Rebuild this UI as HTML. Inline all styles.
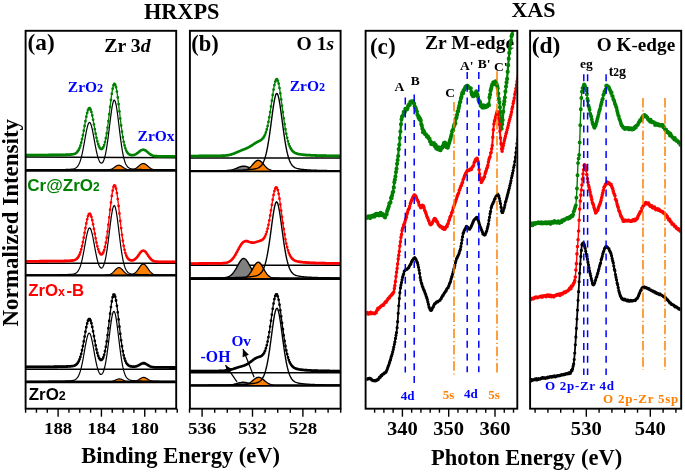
<!DOCTYPE html>
<html><head><meta charset="utf-8"><style>
html,body{margin:0;padding:0;background:#fff;}
svg{display:block;will-change:transform;}
</style></head><body>
<svg width="685" height="472" viewBox="0 0 685 472">
<rect width="685" height="472" fill="#fff"/>
<line x1="25.6" y1="157" x2="176.2" y2="157.7" stroke="#000" stroke-width="1.5"/>
<path d="M26.4,169.9 L27.08,169.9 L27.76,169.9 L28.44,169.9 L29.12,169.9 L29.8,169.9 L30.48,169.9 L31.16,169.9 L31.84,169.9 L32.52,169.9 L33.2,169.9 L33.88,169.9 L34.56,169.9 L35.24,169.9 L35.93,169.9 L36.61,169.9 L37.29,169.9 L37.97,169.9 L38.65,169.9 L39.33,169.9 L40.01,169.9 L40.69,169.9 L41.37,169.9 L42.05,169.9 L42.73,169.9 L43.41,169.9 L44.09,169.9 L44.77,169.9 L45.45,169.9 L46.13,169.9 L46.81,169.9 L47.49,169.9 L48.17,169.9 L48.85,169.9 L49.53,169.9 L50.21,169.9 L50.89,169.9 L51.57,169.9 L52.25,169.9 L52.93,169.9 L53.61,169.9 L54.29,169.9 L54.98,169.9 L55.66,169.9 L56.34,169.9 L57.02,169.9 L57.7,169.9 L58.38,169.9 L59.06,169.9 L59.74,169.9 L60.42,169.9 L61.1,169.9 L61.78,169.9 L62.46,169.9 L63.14,169.9 L63.82,169.9 L64.5,169.9 L65.18,169.9 L65.86,169.9 L66.54,169.9 L67.22,169.9 L67.9,169.9 L68.58,169.9 L69.26,169.9 L69.94,169.9 L70.62,169.9 L71.3,169.9 L71.98,169.9 L72.66,169.9 L73.35,169.9 L74.03,169.9 L74.71,169.9 L75.39,169.9 L76.07,169.9 L76.75,169.9 L77.43,169.9 L78.11,169.9 L78.79,169.9 L79.47,169.9 L80.15,169.9 L80.83,169.9 L81.51,169.9 L82.19,169.9 L82.87,169.9 L83.55,169.9 L84.23,169.9 L84.91,169.9 L85.59,169.9 L86.27,169.9 L86.95,169.9 L87.63,169.9 L88.31,169.9 L88.99,169.9 L89.67,169.9 L90.35,169.9 L91.03,169.9 L91.72,169.9 L92.4,169.9 L93.08,169.9 L93.76,169.9 L94.44,169.9 L95.12,169.9 L95.8,169.9 L96.48,169.9 L97.16,169.9 L97.84,169.9 L98.52,169.9 L99.2,169.9 L99.88,169.9 L100.56,169.9 L101.24,169.9 L101.92,169.9 L102.6,169.9 L103.28,169.9 L103.96,169.89 L104.64,169.89 L105.32,169.88 L106,169.87 L106.68,169.85 L107.36,169.82 L108.04,169.77 L108.72,169.69 L109.4,169.59 L110.08,169.44 L110.77,169.25 L111.45,169.01 L112.13,168.7 L112.81,168.34 L113.49,167.93 L114.17,167.47 L114.85,166.99 L115.53,166.52 L116.21,166.08 L116.89,165.7 L117.57,165.41 L118.25,165.24 L118.93,165.2 L119.61,165.29 L120.29,165.51 L120.97,165.83 L121.65,166.24 L122.33,166.7 L123.01,167.17 L123.69,167.65 L124.37,168.09 L125.05,168.49 L125.73,168.83 L126.41,169.11 L127.09,169.33 L127.77,169.5 L128.45,169.63 L129.14,169.72 L129.82,169.79 L130.5,169.83 L131.18,169.86 L131.86,169.88 L132.54,169.89 L133.22,169.89 L133.9,169.9 L134.58,169.9 L135.26,169.9 L135.94,169.9 L136.62,169.9 L137.3,169.9 L137.98,169.9 L138.66,169.9 L139.34,169.9 L140.02,169.9 L140.7,169.9 L141.38,169.9 L142.06,169.9 L142.74,169.9 L143.42,169.9 L144.1,169.9 L144.78,169.9 L145.46,169.9 L146.14,169.9 L146.82,169.9 L147.51,169.9 L148.19,169.9 L148.87,169.9 L149.55,169.9 L150.23,169.9 L150.91,169.9 L151.59,169.9 L152.27,169.9 L152.95,169.9 L153.63,169.9 L154.31,169.9 L154.99,169.9 L155.67,169.9 L156.35,169.9 L157.03,169.9 L157.71,169.9 L158.39,169.9 L159.07,169.9 L159.75,169.9 L160.43,169.9 L161.11,169.9 L161.79,169.9 L162.47,169.9 L163.15,169.9 L163.83,169.9 L164.51,169.9 L165.19,169.9 L165.87,169.9 L166.56,169.9 L167.24,169.9 L167.92,169.9 L168.6,169.9 L169.28,169.9 L169.96,169.9 L170.64,169.9 L171.32,169.9 L172,169.9 L172.68,169.9 L173.36,169.9 L174.04,169.9 L174.72,169.9 L175.4,169.9 L175.4,169.9 L26.4,169.9 Z" fill="#ff8000" stroke="none"/>
<path d="M26.4,169.9 L27.08,169.9 L27.76,169.9 L28.44,169.9 L29.12,169.9 L29.8,169.9 L30.48,169.9 L31.16,169.9 L31.84,169.9 L32.52,169.9 L33.2,169.9 L33.88,169.9 L34.56,169.9 L35.24,169.9 L35.93,169.9 L36.61,169.9 L37.29,169.9 L37.97,169.9 L38.65,169.9 L39.33,169.9 L40.01,169.9 L40.69,169.9 L41.37,169.9 L42.05,169.9 L42.73,169.9 L43.41,169.9 L44.09,169.9 L44.77,169.9 L45.45,169.9 L46.13,169.9 L46.81,169.9 L47.49,169.9 L48.17,169.9 L48.85,169.9 L49.53,169.9 L50.21,169.9 L50.89,169.9 L51.57,169.9 L52.25,169.9 L52.93,169.9 L53.61,169.9 L54.29,169.9 L54.98,169.9 L55.66,169.9 L56.34,169.9 L57.02,169.9 L57.7,169.9 L58.38,169.9 L59.06,169.9 L59.74,169.9 L60.42,169.9 L61.1,169.9 L61.78,169.9 L62.46,169.9 L63.14,169.9 L63.82,169.9 L64.5,169.9 L65.18,169.9 L65.86,169.9 L66.54,169.9 L67.22,169.9 L67.9,169.9 L68.58,169.9 L69.26,169.9 L69.94,169.9 L70.62,169.9 L71.3,169.9 L71.98,169.9 L72.66,169.9 L73.35,169.9 L74.03,169.9 L74.71,169.9 L75.39,169.9 L76.07,169.9 L76.75,169.9 L77.43,169.9 L78.11,169.9 L78.79,169.9 L79.47,169.9 L80.15,169.9 L80.83,169.9 L81.51,169.9 L82.19,169.9 L82.87,169.9 L83.55,169.9 L84.23,169.9 L84.91,169.9 L85.59,169.9 L86.27,169.9 L86.95,169.9 L87.63,169.9 L88.31,169.9 L88.99,169.9 L89.67,169.9 L90.35,169.9 L91.03,169.9 L91.72,169.9 L92.4,169.9 L93.08,169.9 L93.76,169.9 L94.44,169.9 L95.12,169.9 L95.8,169.9 L96.48,169.9 L97.16,169.9 L97.84,169.9 L98.52,169.9 L99.2,169.9 L99.88,169.9 L100.56,169.9 L101.24,169.9 L101.92,169.9 L102.6,169.9 L103.28,169.9 L103.96,169.89 L104.64,169.89 L105.32,169.88 L106,169.87 L106.68,169.85 L107.36,169.82 L108.04,169.77 L108.72,169.69 L109.4,169.59 L110.08,169.44 L110.77,169.25 L111.45,169.01 L112.13,168.7 L112.81,168.34 L113.49,167.93 L114.17,167.47 L114.85,166.99 L115.53,166.52 L116.21,166.08 L116.89,165.7 L117.57,165.41 L118.25,165.24 L118.93,165.2 L119.61,165.29 L120.29,165.51 L120.97,165.83 L121.65,166.24 L122.33,166.7 L123.01,167.17 L123.69,167.65 L124.37,168.09 L125.05,168.49 L125.73,168.83 L126.41,169.11 L127.09,169.33 L127.77,169.5 L128.45,169.63 L129.14,169.72 L129.82,169.79 L130.5,169.83 L131.18,169.86 L131.86,169.88 L132.54,169.89 L133.22,169.89 L133.9,169.9 L134.58,169.9 L135.26,169.9 L135.94,169.9 L136.62,169.9 L137.3,169.9 L137.98,169.9 L138.66,169.9 L139.34,169.9 L140.02,169.9 L140.7,169.9 L141.38,169.9 L142.06,169.9 L142.74,169.9 L143.42,169.9 L144.1,169.9 L144.78,169.9 L145.46,169.9 L146.14,169.9 L146.82,169.9 L147.51,169.9 L148.19,169.9 L148.87,169.9 L149.55,169.9 L150.23,169.9 L150.91,169.9 L151.59,169.9 L152.27,169.9 L152.95,169.9 L153.63,169.9 L154.31,169.9 L154.99,169.9 L155.67,169.9 L156.35,169.9 L157.03,169.9 L157.71,169.9 L158.39,169.9 L159.07,169.9 L159.75,169.9 L160.43,169.9 L161.11,169.9 L161.79,169.9 L162.47,169.9 L163.15,169.9 L163.83,169.9 L164.51,169.9 L165.19,169.9 L165.87,169.9 L166.56,169.9 L167.24,169.9 L167.92,169.9 L168.6,169.9 L169.28,169.9 L169.96,169.9 L170.64,169.9 L171.32,169.9 L172,169.9 L172.68,169.9 L173.36,169.9 L174.04,169.9 L174.72,169.9 L175.4,169.9" fill="none" stroke="#000" stroke-width="1.2"/>
<path d="M26.4,169.9 L27.08,169.9 L27.76,169.9 L28.44,169.9 L29.12,169.9 L29.8,169.9 L30.48,169.9 L31.16,169.9 L31.84,169.9 L32.52,169.9 L33.2,169.9 L33.88,169.9 L34.56,169.9 L35.24,169.9 L35.93,169.9 L36.61,169.9 L37.29,169.9 L37.97,169.9 L38.65,169.9 L39.33,169.9 L40.01,169.9 L40.69,169.9 L41.37,169.9 L42.05,169.9 L42.73,169.9 L43.41,169.9 L44.09,169.9 L44.77,169.9 L45.45,169.9 L46.13,169.9 L46.81,169.9 L47.49,169.9 L48.17,169.9 L48.85,169.9 L49.53,169.9 L50.21,169.9 L50.89,169.9 L51.57,169.9 L52.25,169.9 L52.93,169.9 L53.61,169.9 L54.29,169.9 L54.98,169.9 L55.66,169.9 L56.34,169.9 L57.02,169.9 L57.7,169.9 L58.38,169.9 L59.06,169.9 L59.74,169.9 L60.42,169.9 L61.1,169.9 L61.78,169.9 L62.46,169.9 L63.14,169.9 L63.82,169.9 L64.5,169.9 L65.18,169.9 L65.86,169.9 L66.54,169.9 L67.22,169.9 L67.9,169.9 L68.58,169.9 L69.26,169.9 L69.94,169.9 L70.62,169.9 L71.3,169.9 L71.98,169.9 L72.66,169.9 L73.35,169.9 L74.03,169.9 L74.71,169.9 L75.39,169.9 L76.07,169.9 L76.75,169.9 L77.43,169.9 L78.11,169.9 L78.79,169.9 L79.47,169.9 L80.15,169.9 L80.83,169.9 L81.51,169.9 L82.19,169.9 L82.87,169.9 L83.55,169.9 L84.23,169.9 L84.91,169.9 L85.59,169.9 L86.27,169.9 L86.95,169.9 L87.63,169.9 L88.31,169.9 L88.99,169.9 L89.67,169.9 L90.35,169.9 L91.03,169.9 L91.72,169.9 L92.4,169.9 L93.08,169.9 L93.76,169.9 L94.44,169.9 L95.12,169.9 L95.8,169.9 L96.48,169.9 L97.16,169.9 L97.84,169.9 L98.52,169.9 L99.2,169.9 L99.88,169.9 L100.56,169.9 L101.24,169.9 L101.92,169.9 L102.6,169.9 L103.28,169.9 L103.96,169.9 L104.64,169.9 L105.32,169.9 L106,169.9 L106.68,169.9 L107.36,169.9 L108.04,169.9 L108.72,169.9 L109.4,169.9 L110.08,169.9 L110.77,169.9 L111.45,169.9 L112.13,169.9 L112.81,169.9 L113.49,169.9 L114.17,169.9 L114.85,169.9 L115.53,169.9 L116.21,169.9 L116.89,169.9 L117.57,169.9 L118.25,169.9 L118.93,169.9 L119.61,169.9 L120.29,169.9 L120.97,169.9 L121.65,169.9 L122.33,169.9 L123.01,169.9 L123.69,169.9 L124.37,169.9 L125.05,169.9 L125.73,169.9 L126.41,169.9 L127.09,169.89 L127.77,169.89 L128.45,169.87 L129.14,169.86 L129.82,169.83 L130.5,169.8 L131.18,169.74 L131.86,169.66 L132.54,169.55 L133.22,169.4 L133.9,169.21 L134.58,168.96 L135.26,168.64 L135.94,168.26 L136.62,167.82 L137.3,167.31 L137.98,166.76 L138.66,166.18 L139.34,165.59 L140.02,165.02 L140.7,164.5 L141.38,164.07 L142.06,163.74 L142.74,163.55 L143.42,163.5 L144.1,163.6 L144.78,163.84 L145.46,164.21 L146.14,164.68 L146.82,165.22 L147.51,165.8 L148.19,166.39 L148.87,166.96 L149.55,167.5 L150.23,167.98 L150.91,168.41 L151.59,168.76 L152.27,169.05 L152.95,169.28 L153.63,169.46 L154.31,169.6 L154.99,169.69 L155.67,169.76 L156.35,169.81 L157.03,169.84 L157.71,169.87 L158.39,169.88 L159.07,169.89 L159.75,169.89 L160.43,169.9 L161.11,169.9 L161.79,169.9 L162.47,169.9 L163.15,169.9 L163.83,169.9 L164.51,169.9 L165.19,169.9 L165.87,169.9 L166.56,169.9 L167.24,169.9 L167.92,169.9 L168.6,169.9 L169.28,169.9 L169.96,169.9 L170.64,169.9 L171.32,169.9 L172,169.9 L172.68,169.9 L173.36,169.9 L174.04,169.9 L174.72,169.9 L175.4,169.9 L175.4,169.9 L26.4,169.9 Z" fill="#ff8000" stroke="none"/>
<path d="M26.4,169.9 L27.08,169.9 L27.76,169.9 L28.44,169.9 L29.12,169.9 L29.8,169.9 L30.48,169.9 L31.16,169.9 L31.84,169.9 L32.52,169.9 L33.2,169.9 L33.88,169.9 L34.56,169.9 L35.24,169.9 L35.93,169.9 L36.61,169.9 L37.29,169.9 L37.97,169.9 L38.65,169.9 L39.33,169.9 L40.01,169.9 L40.69,169.9 L41.37,169.9 L42.05,169.9 L42.73,169.9 L43.41,169.9 L44.09,169.9 L44.77,169.9 L45.45,169.9 L46.13,169.9 L46.81,169.9 L47.49,169.9 L48.17,169.9 L48.85,169.9 L49.53,169.9 L50.21,169.9 L50.89,169.9 L51.57,169.9 L52.25,169.9 L52.93,169.9 L53.61,169.9 L54.29,169.9 L54.98,169.9 L55.66,169.9 L56.34,169.9 L57.02,169.9 L57.7,169.9 L58.38,169.9 L59.06,169.9 L59.74,169.9 L60.42,169.9 L61.1,169.9 L61.78,169.9 L62.46,169.9 L63.14,169.9 L63.82,169.9 L64.5,169.9 L65.18,169.9 L65.86,169.9 L66.54,169.9 L67.22,169.9 L67.9,169.9 L68.58,169.9 L69.26,169.9 L69.94,169.9 L70.62,169.9 L71.3,169.9 L71.98,169.9 L72.66,169.9 L73.35,169.9 L74.03,169.9 L74.71,169.9 L75.39,169.9 L76.07,169.9 L76.75,169.9 L77.43,169.9 L78.11,169.9 L78.79,169.9 L79.47,169.9 L80.15,169.9 L80.83,169.9 L81.51,169.9 L82.19,169.9 L82.87,169.9 L83.55,169.9 L84.23,169.9 L84.91,169.9 L85.59,169.9 L86.27,169.9 L86.95,169.9 L87.63,169.9 L88.31,169.9 L88.99,169.9 L89.67,169.9 L90.35,169.9 L91.03,169.9 L91.72,169.9 L92.4,169.9 L93.08,169.9 L93.76,169.9 L94.44,169.9 L95.12,169.9 L95.8,169.9 L96.48,169.9 L97.16,169.9 L97.84,169.9 L98.52,169.9 L99.2,169.9 L99.88,169.9 L100.56,169.9 L101.24,169.9 L101.92,169.9 L102.6,169.9 L103.28,169.9 L103.96,169.9 L104.64,169.9 L105.32,169.9 L106,169.9 L106.68,169.9 L107.36,169.9 L108.04,169.9 L108.72,169.9 L109.4,169.9 L110.08,169.9 L110.77,169.9 L111.45,169.9 L112.13,169.9 L112.81,169.9 L113.49,169.9 L114.17,169.9 L114.85,169.9 L115.53,169.9 L116.21,169.9 L116.89,169.9 L117.57,169.9 L118.25,169.9 L118.93,169.9 L119.61,169.9 L120.29,169.9 L120.97,169.9 L121.65,169.9 L122.33,169.9 L123.01,169.9 L123.69,169.9 L124.37,169.9 L125.05,169.9 L125.73,169.9 L126.41,169.9 L127.09,169.89 L127.77,169.89 L128.45,169.87 L129.14,169.86 L129.82,169.83 L130.5,169.8 L131.18,169.74 L131.86,169.66 L132.54,169.55 L133.22,169.4 L133.9,169.21 L134.58,168.96 L135.26,168.64 L135.94,168.26 L136.62,167.82 L137.3,167.31 L137.98,166.76 L138.66,166.18 L139.34,165.59 L140.02,165.02 L140.7,164.5 L141.38,164.07 L142.06,163.74 L142.74,163.55 L143.42,163.5 L144.1,163.6 L144.78,163.84 L145.46,164.21 L146.14,164.68 L146.82,165.22 L147.51,165.8 L148.19,166.39 L148.87,166.96 L149.55,167.5 L150.23,167.98 L150.91,168.41 L151.59,168.76 L152.27,169.05 L152.95,169.28 L153.63,169.46 L154.31,169.6 L154.99,169.69 L155.67,169.76 L156.35,169.81 L157.03,169.84 L157.71,169.87 L158.39,169.88 L159.07,169.89 L159.75,169.89 L160.43,169.9 L161.11,169.9 L161.79,169.9 L162.47,169.9 L163.15,169.9 L163.83,169.9 L164.51,169.9 L165.19,169.9 L165.87,169.9 L166.56,169.9 L167.24,169.9 L167.92,169.9 L168.6,169.9 L169.28,169.9 L169.96,169.9 L170.64,169.9 L171.32,169.9 L172,169.9 L172.68,169.9 L173.36,169.9 L174.04,169.9 L174.72,169.9 L175.4,169.9" fill="none" stroke="#000" stroke-width="1.2"/>
<path d="M26.4,169.82 L27.08,169.81 L27.76,169.81 L28.44,169.81 L29.12,169.81 L29.8,169.81 L30.48,169.81 L31.16,169.8 L31.84,169.8 L32.52,169.8 L33.2,169.8 L33.88,169.8 L34.56,169.79 L35.24,169.79 L35.93,169.79 L36.61,169.79 L37.29,169.78 L37.97,169.78 L38.65,169.78 L39.33,169.78 L40.01,169.77 L40.69,169.77 L41.37,169.77 L42.05,169.76 L42.73,169.76 L43.41,169.76 L44.09,169.75 L44.77,169.75 L45.45,169.74 L46.13,169.74 L46.81,169.74 L47.49,169.73 L48.17,169.73 L48.85,169.72 L49.53,169.72 L50.21,169.71 L50.89,169.71 L51.57,169.7 L52.25,169.69 L52.93,169.69 L53.61,169.68 L54.29,169.67 L54.98,169.67 L55.66,169.66 L56.34,169.65 L57.02,169.64 L57.7,169.63 L58.38,169.62 L59.06,169.61 L59.74,169.6 L60.42,169.59 L61.1,169.58 L61.78,169.56 L62.46,169.55 L63.14,169.53 L63.82,169.52 L64.5,169.5 L65.18,169.48 L65.86,169.46 L66.54,169.44 L67.22,169.42 L67.9,169.39 L68.58,169.36 L69.26,169.33 L69.94,169.29 L70.62,169.24 L71.3,169.18 L71.98,169.11 L72.66,169.02 L73.35,168.9 L74.03,168.74 L74.71,168.52 L75.39,168.22 L76.07,167.82 L76.75,167.28 L77.43,166.58 L78.11,165.67 L78.79,164.51 L79.47,163.05 L80.15,161.26 L80.83,159.1 L81.51,156.58 L82.19,153.67 L82.87,150.42 L83.55,146.87 L84.23,143.11 L84.91,139.25 L85.59,135.43 L86.27,131.8 L86.95,128.54 L87.63,125.83 L88.31,123.82 L88.99,122.64 L89.67,122.39 L90.35,123.08 L91.03,124.64 L91.72,126.99 L92.4,129.95 L93.08,133.37 L93.76,137.06 L94.44,140.86 L95.12,144.62 L95.8,148.2 L96.48,151.5 L97.16,154.46 L97.84,157.01 L98.52,159.14 L99.2,160.82 L99.88,162.05 L100.56,162.84 L101.24,163.18 L101.92,163.06 L102.6,162.48 L103.28,161.4 L103.96,159.8 L104.64,157.65 L105.32,154.92 L106,151.58 L106.68,147.66 L107.36,143.18 L108.04,138.2 L108.72,132.84 L109.4,127.25 L110.08,121.61 L110.77,116.15 L111.45,111.11 L112.13,106.75 L112.81,103.34 L113.49,101.08 L114.17,100.13 L114.85,100.57 L115.53,102.36 L116.21,105.38 L116.89,109.43 L117.57,114.27 L118.25,119.63 L118.93,125.27 L119.61,130.95 L120.29,136.47 L120.97,141.67 L121.65,146.44 L122.33,150.68 L123.01,154.37 L123.69,157.51 L124.37,160.11 L125.05,162.23 L125.73,163.91 L126.41,165.23 L127.09,166.25 L127.77,167.02 L128.45,167.59 L129.14,168.02 L129.82,168.33 L130.5,168.57 L131.18,168.74 L131.86,168.87 L132.54,168.97 L133.22,169.05 L133.9,169.11 L134.58,169.16 L135.26,169.21 L135.94,169.25 L136.62,169.29 L137.3,169.32 L137.98,169.35 L138.66,169.37 L139.34,169.4 L140.02,169.42 L140.7,169.44 L141.38,169.46 L142.06,169.48 L142.74,169.5 L143.42,169.52 L144.1,169.53 L144.78,169.55 L145.46,169.56 L146.14,169.57 L146.82,169.59 L147.51,169.6 L148.19,169.61 L148.87,169.62 L149.55,169.63 L150.23,169.64 L150.91,169.65 L151.59,169.65 L152.27,169.66 L152.95,169.67 L153.63,169.68 L154.31,169.68 L154.99,169.69 L155.67,169.7 L156.35,169.7 L157.03,169.71 L157.71,169.71 L158.39,169.72 L159.07,169.72 L159.75,169.73 L160.43,169.73 L161.11,169.74 L161.79,169.74 L162.47,169.75 L163.15,169.75 L163.83,169.75 L164.51,169.76 L165.19,169.76 L165.87,169.76 L166.56,169.77 L167.24,169.77 L167.92,169.77 L168.6,169.78 L169.28,169.78 L169.96,169.78 L170.64,169.78 L171.32,169.79 L172,169.79 L172.68,169.79 L173.36,169.79 L174.04,169.8 L174.72,169.8 L175.4,169.8" fill="none" stroke="#000" stroke-width="1.2"/>
<path d="M26.4,155.12 L27.08,155.11 L27.76,155.11 L28.44,155.11 L29.12,155.11 L29.8,155.11 L30.48,155.11 L31.16,155.1 L31.84,155.1 L32.52,155.1 L33.2,155.1 L33.88,155.1 L34.56,155.09 L35.24,155.09 L35.93,155.09 L36.61,155.09 L37.29,155.08 L37.97,155.08 L38.65,155.08 L39.33,155.08 L40.01,155.07 L40.69,155.07 L41.37,155.07 L42.05,155.06 L42.73,155.06 L43.41,155.06 L44.09,155.05 L44.77,155.05 L45.45,155.05 L46.13,155.04 L46.81,155.04 L47.49,155.03 L48.17,155.03 L48.85,155.02 L49.53,155.02 L50.21,155.01 L50.89,155.01 L51.57,155 L52.25,155 L52.93,154.99 L53.61,154.98 L54.29,154.98 L54.98,154.97 L55.66,154.96 L56.34,154.95 L57.02,154.94 L57.7,154.93 L58.38,154.92 L59.06,154.91 L59.74,154.9 L60.42,154.89 L61.1,154.88 L61.78,154.87 L62.46,154.85 L63.14,154.84 L63.82,154.82 L64.5,154.8 L65.18,154.78 L65.86,154.76 L66.54,154.74 L67.22,154.72 L67.9,154.69 L68.58,154.66 L69.26,154.63 L69.94,154.59 L70.62,154.54 L71.3,154.49 L71.98,154.41 L72.66,154.32 L73.35,154.19 L74.03,154.02 L74.71,153.79 L75.39,153.48 L76.07,153.07 L76.75,152.51 L77.43,151.78 L78.11,150.84 L78.79,149.64 L79.47,148.14 L80.15,146.31 L80.83,144.11 L81.51,141.54 L82.19,138.59 L82.87,135.31 L83.55,131.75 L84.23,127.98 L84.91,124.14 L85.59,120.36 L86.27,116.81 L86.95,113.64 L87.63,111.05 L88.31,109.19 L88.99,108.17 L89.67,108.08 L90.35,108.93 L91.03,110.64 L91.72,113.1 L92.4,116.16 L93.08,119.65 L93.76,123.38 L94.44,127.19 L95.12,130.94 L95.8,134.49 L96.48,137.76 L97.16,140.66 L97.84,143.16 L98.52,145.23 L99.2,146.86 L99.88,148.05 L100.56,148.79 L101.24,149.1 L101.92,148.96 L102.6,148.35 L103.28,147.26 L103.96,145.64 L104.64,143.48 L105.32,140.74 L106,137.4 L106.68,133.46 L107.36,128.95 L108.04,123.94 L108.72,118.52 L109.4,112.84 L110.08,107.08 L110.77,101.45 L111.45,96.2 L112.13,91.57 L112.81,87.82 L113.49,85.19 L114.17,83.82 L114.85,83.82 L115.53,85.18 L116.21,87.8 L116.89,91.5 L117.57,96.09 L118.25,101.32 L118.93,106.95 L119.61,112.74 L120.29,118.51 L120.97,124.05 L121.65,129.24 L122.33,133.95 L123.01,138.13 L123.69,141.75 L124.37,144.81 L125.05,147.32 L125.73,149.36 L126.41,150.96 L127.09,152.2 L127.77,153.13 L128.45,153.83 L129.14,154.33 L129.82,154.69 L130.5,154.92 L131.18,155.07 L131.86,155.14 L132.54,155.14 L133.22,155.08 L133.9,154.95 L134.58,154.75 L135.26,154.49 L135.94,154.15 L136.62,153.74 L137.3,153.27 L137.98,152.75 L138.66,152.19 L139.34,151.63 L140.02,151.09 L140.7,150.6 L141.38,150.19 L142.06,149.88 L142.74,149.71 L143.42,149.69 L144.1,149.8 L144.78,150.06 L145.46,150.45 L146.14,150.93 L146.82,151.49 L147.51,152.08 L148.19,152.68 L148.87,153.27 L149.55,153.82 L150.23,154.31 L150.91,154.75 L151.59,155.11 L152.27,155.41 L152.95,155.65 L153.63,155.84 L154.31,155.98 L154.99,156.08 L155.67,156.16 L156.35,156.21 L157.03,156.25 L157.71,156.28 L158.39,156.3 L159.07,156.31 L159.75,156.32 L160.43,156.33 L161.11,156.33 L161.79,156.34 L162.47,156.34 L163.15,156.35 L163.83,156.35 L164.51,156.36 L165.19,156.36 L165.87,156.36 L166.56,156.37 L167.24,156.37 L167.92,156.37 L168.6,156.38 L169.28,156.38 L169.96,156.38 L170.64,156.38 L171.32,156.39 L172,156.39 L172.68,156.39 L173.36,156.39 L174.04,156.4 L174.72,156.4 L175.4,156.4" fill="none" stroke="#008000" stroke-width="1.3" stroke-linejoin="round"/>
<path d="M26.8,155.12h0M27.65,155.11h0M28.5,155.11h0M29.35,155.11h0M30.2,155.11h0M31.05,155.1h0M31.9,155.1h0M32.75,155.1h0M33.6,155.1h0M34.45,155.09h0M35.3,155.09h0M36.15,155.09h0M37,155.09h0M37.85,155.08h0M38.7,155.08h0M39.55,155.08h0M40.4,155.07h0M41.25,155.07h0M42.1,155.06h0M42.95,155.06h0M43.8,155.06h0M44.65,155.05h0M45.5,155.05h0M46.35,155.04h0M47.2,155.04h0M48.05,155.03h0M48.9,155.02h0M49.75,155.02h0M50.6,155.01h0M51.45,155h0M52.3,155h0M53.15,154.99h0M54,154.98h0M54.85,154.97h0M55.7,154.96h0M56.55,154.95h0M57.4,154.94h0M58.25,154.93h0M59.1,154.91h0M59.95,154.9h0M60.8,154.88h0M61.65,154.87h0M62.5,154.85h0M63.35,154.83h0M64.2,154.81h0M65.05,154.79h0M65.9,154.76h0M66.75,154.74h0M67.6,154.7h0M68.45,154.67h0M69.3,154.63h0M70.15,154.58h0M71,154.51h0M71.85,154.43h0M72.7,154.31h0M73.55,154.14h0M74.4,153.89h0M75.25,153.54h0M76.1,153.04h0M76.95,152.3h0M77.8,151.27h0M78.65,149.89h0M79.5,148.06h0M80.35,145.66h0M81.2,142.71h0M82.05,139.2h0M82.9,135.16h0M83.75,130.64h0M84.6,125.9h0M85.45,121.15h0M86.3,116.68h0M87.15,112.89h0M88,110.04h0M88.85,108.39h0M89.7,108.12h0M90.55,109.42h0M91.4,111.96h0M92.25,115.51h0M93.1,119.78h0M93.95,124.47h0M94.8,129.19h0M95.65,133.72h0M96.5,137.85h0M97.35,141.37h0M98.2,144.26h0M99.05,146.51h0M99.9,148.07h0M100.75,148.88h0M101.6,149.02h0M102.45,148.48h0M103.3,147.21h0M104.15,145.04h0M105,142.04h0M105.85,138.15h0M106.7,133.34h0M107.55,127.57h0M108.4,121.1h0M109.25,114.13h0M110.1,106.95h0M110.95,100.02h0M111.8,93.79h0M112.65,88.69h0M113.5,85.16h0M114.35,83.82h0M115.2,84.53h0M116.05,87.19h0M116.9,91.58h0M117.75,97.48h0M118.6,104.22h0M119.45,111.38h0M120.3,118.59h0M121.15,125.42h0M122,131.65h0M122.85,137.14h0M123.7,141.79h0M124.55,145.46h0M125.4,148.36h0M126.25,150.57h0M127.1,152.2h0M127.95,153.31h0M128.8,154.08h0M129.65,154.6h0M130.5,154.92h0M131.35,155.09h0M132.2,155.14h0M133.05,155.09h0M133.9,154.95h0M134.75,154.69h0M135.6,154.32h0M136.45,153.84h0M137.3,153.27h0M138.15,152.61h0M139,151.91h0M139.85,151.22h0M140.7,150.6h0M141.55,150.11h0M142.4,149.8h0M143.25,149.69h0M144.1,149.8h0M144.95,150.16h0M145.8,150.69h0M146.65,151.34h0M147.5,152.08h0M148.35,152.83h0M149.2,153.54h0M150.05,154.19h0M150.9,154.74h0M151.75,155.18h0M152.6,155.53h0M153.45,155.79h0M154.3,155.98h0M155.15,156.1h0M156,156.18h0M156.85,156.24h0M157.7,156.28h0M158.55,156.3h0M159.4,156.31h0M160.25,156.33h0M161.1,156.33h0M161.95,156.34h0M162.8,156.35h0M163.65,156.35h0M164.5,156.36h0M165.35,156.36h0M166.2,156.36h0M167.05,156.37h0M167.9,156.37h0M168.75,156.38h0M169.6,156.38h0M170.45,156.38h0M171.3,156.39h0M172.15,156.39h0M173,156.39h0M173.85,156.39h0M174.7,156.4h0" fill="none" stroke="#008000" stroke-width="2.8" stroke-linecap="round"/>
<line x1="25.6" y1="263.3" x2="176.2" y2="263.3" stroke="#000" stroke-width="1.5"/>
<path d="M26.4,275 L27.08,275 L27.76,275 L28.44,275 L29.12,275 L29.8,275 L30.48,275 L31.16,275 L31.84,275 L32.52,275 L33.2,275 L33.88,275 L34.56,275 L35.24,275 L35.93,275 L36.61,275 L37.29,275 L37.97,275 L38.65,275 L39.33,275 L40.01,275 L40.69,275 L41.37,275 L42.05,275 L42.73,275 L43.41,275 L44.09,275 L44.77,275 L45.45,275 L46.13,275 L46.81,275 L47.49,275 L48.17,275 L48.85,275 L49.53,275 L50.21,275 L50.89,275 L51.57,275 L52.25,275 L52.93,275 L53.61,275 L54.29,275 L54.98,275 L55.66,275 L56.34,275 L57.02,275 L57.7,275 L58.38,275 L59.06,275 L59.74,275 L60.42,275 L61.1,275 L61.78,275 L62.46,275 L63.14,275 L63.82,275 L64.5,275 L65.18,275 L65.86,275 L66.54,275 L67.22,275 L67.9,275 L68.58,275 L69.26,275 L69.94,275 L70.62,275 L71.3,275 L71.98,275 L72.66,275 L73.35,275 L74.03,275 L74.71,275 L75.39,275 L76.07,275 L76.75,275 L77.43,275 L78.11,275 L78.79,275 L79.47,275 L80.15,275 L80.83,275 L81.51,275 L82.19,275 L82.87,275 L83.55,275 L84.23,275 L84.91,275 L85.59,275 L86.27,275 L86.95,275 L87.63,275 L88.31,275 L88.99,275 L89.67,275 L90.35,275 L91.03,275 L91.72,275 L92.4,275 L93.08,275 L93.76,275 L94.44,275 L95.12,275 L95.8,275 L96.48,275 L97.16,275 L97.84,275 L98.52,275 L99.2,275 L99.88,275 L100.56,275 L101.24,275 L101.92,275 L102.6,275 L103.28,275 L103.96,274.99 L104.64,274.99 L105.32,274.97 L106,274.95 L106.68,274.92 L107.36,274.87 L108.04,274.8 L108.72,274.69 L109.4,274.53 L110.08,274.31 L110.77,274.02 L111.45,273.64 L112.13,273.17 L112.81,272.6 L113.49,271.95 L114.17,271.23 L114.85,270.47 L115.53,269.71 L116.21,269 L116.89,268.38 L117.57,267.9 L118.25,267.6 L118.93,267.5 L119.61,267.62 L120.29,267.93 L120.97,268.43 L121.65,269.06 L122.33,269.78 L123.01,270.54 L123.69,271.3 L124.37,272.01 L125.05,272.66 L125.73,273.21 L126.41,273.68 L127.09,274.05 L127.77,274.33 L128.45,274.55 L129.14,274.7 L129.82,274.81 L130.5,274.88 L131.18,274.93 L131.86,274.96 L132.54,274.98 L133.22,274.99 L133.9,274.99 L134.58,275 L135.26,275 L135.94,275 L136.62,275 L137.3,275 L137.98,275 L138.66,275 L139.34,275 L140.02,275 L140.7,275 L141.38,275 L142.06,275 L142.74,275 L143.42,275 L144.1,275 L144.78,275 L145.46,275 L146.14,275 L146.82,275 L147.51,275 L148.19,275 L148.87,275 L149.55,275 L150.23,275 L150.91,275 L151.59,275 L152.27,275 L152.95,275 L153.63,275 L154.31,275 L154.99,275 L155.67,275 L156.35,275 L157.03,275 L157.71,275 L158.39,275 L159.07,275 L159.75,275 L160.43,275 L161.11,275 L161.79,275 L162.47,275 L163.15,275 L163.83,275 L164.51,275 L165.19,275 L165.87,275 L166.56,275 L167.24,275 L167.92,275 L168.6,275 L169.28,275 L169.96,275 L170.64,275 L171.32,275 L172,275 L172.68,275 L173.36,275 L174.04,275 L174.72,275 L175.4,275 L175.4,275 L26.4,275 Z" fill="#ff8000" stroke="none"/>
<path d="M26.4,275 L27.08,275 L27.76,275 L28.44,275 L29.12,275 L29.8,275 L30.48,275 L31.16,275 L31.84,275 L32.52,275 L33.2,275 L33.88,275 L34.56,275 L35.24,275 L35.93,275 L36.61,275 L37.29,275 L37.97,275 L38.65,275 L39.33,275 L40.01,275 L40.69,275 L41.37,275 L42.05,275 L42.73,275 L43.41,275 L44.09,275 L44.77,275 L45.45,275 L46.13,275 L46.81,275 L47.49,275 L48.17,275 L48.85,275 L49.53,275 L50.21,275 L50.89,275 L51.57,275 L52.25,275 L52.93,275 L53.61,275 L54.29,275 L54.98,275 L55.66,275 L56.34,275 L57.02,275 L57.7,275 L58.38,275 L59.06,275 L59.74,275 L60.42,275 L61.1,275 L61.78,275 L62.46,275 L63.14,275 L63.82,275 L64.5,275 L65.18,275 L65.86,275 L66.54,275 L67.22,275 L67.9,275 L68.58,275 L69.26,275 L69.94,275 L70.62,275 L71.3,275 L71.98,275 L72.66,275 L73.35,275 L74.03,275 L74.71,275 L75.39,275 L76.07,275 L76.75,275 L77.43,275 L78.11,275 L78.79,275 L79.47,275 L80.15,275 L80.83,275 L81.51,275 L82.19,275 L82.87,275 L83.55,275 L84.23,275 L84.91,275 L85.59,275 L86.27,275 L86.95,275 L87.63,275 L88.31,275 L88.99,275 L89.67,275 L90.35,275 L91.03,275 L91.72,275 L92.4,275 L93.08,275 L93.76,275 L94.44,275 L95.12,275 L95.8,275 L96.48,275 L97.16,275 L97.84,275 L98.52,275 L99.2,275 L99.88,275 L100.56,275 L101.24,275 L101.92,275 L102.6,275 L103.28,275 L103.96,274.99 L104.64,274.99 L105.32,274.97 L106,274.95 L106.68,274.92 L107.36,274.87 L108.04,274.8 L108.72,274.69 L109.4,274.53 L110.08,274.31 L110.77,274.02 L111.45,273.64 L112.13,273.17 L112.81,272.6 L113.49,271.95 L114.17,271.23 L114.85,270.47 L115.53,269.71 L116.21,269 L116.89,268.38 L117.57,267.9 L118.25,267.6 L118.93,267.5 L119.61,267.62 L120.29,267.93 L120.97,268.43 L121.65,269.06 L122.33,269.78 L123.01,270.54 L123.69,271.3 L124.37,272.01 L125.05,272.66 L125.73,273.21 L126.41,273.68 L127.09,274.05 L127.77,274.33 L128.45,274.55 L129.14,274.7 L129.82,274.81 L130.5,274.88 L131.18,274.93 L131.86,274.96 L132.54,274.98 L133.22,274.99 L133.9,274.99 L134.58,275 L135.26,275 L135.94,275 L136.62,275 L137.3,275 L137.98,275 L138.66,275 L139.34,275 L140.02,275 L140.7,275 L141.38,275 L142.06,275 L142.74,275 L143.42,275 L144.1,275 L144.78,275 L145.46,275 L146.14,275 L146.82,275 L147.51,275 L148.19,275 L148.87,275 L149.55,275 L150.23,275 L150.91,275 L151.59,275 L152.27,275 L152.95,275 L153.63,275 L154.31,275 L154.99,275 L155.67,275 L156.35,275 L157.03,275 L157.71,275 L158.39,275 L159.07,275 L159.75,275 L160.43,275 L161.11,275 L161.79,275 L162.47,275 L163.15,275 L163.83,275 L164.51,275 L165.19,275 L165.87,275 L166.56,275 L167.24,275 L167.92,275 L168.6,275 L169.28,275 L169.96,275 L170.64,275 L171.32,275 L172,275 L172.68,275 L173.36,275 L174.04,275 L174.72,275 L175.4,275" fill="none" stroke="#000" stroke-width="1.2"/>
<path d="M26.4,275 L27.08,275 L27.76,275 L28.44,275 L29.12,275 L29.8,275 L30.48,275 L31.16,275 L31.84,275 L32.52,275 L33.2,275 L33.88,275 L34.56,275 L35.24,275 L35.93,275 L36.61,275 L37.29,275 L37.97,275 L38.65,275 L39.33,275 L40.01,275 L40.69,275 L41.37,275 L42.05,275 L42.73,275 L43.41,275 L44.09,275 L44.77,275 L45.45,275 L46.13,275 L46.81,275 L47.49,275 L48.17,275 L48.85,275 L49.53,275 L50.21,275 L50.89,275 L51.57,275 L52.25,275 L52.93,275 L53.61,275 L54.29,275 L54.98,275 L55.66,275 L56.34,275 L57.02,275 L57.7,275 L58.38,275 L59.06,275 L59.74,275 L60.42,275 L61.1,275 L61.78,275 L62.46,275 L63.14,275 L63.82,275 L64.5,275 L65.18,275 L65.86,275 L66.54,275 L67.22,275 L67.9,275 L68.58,275 L69.26,275 L69.94,275 L70.62,275 L71.3,275 L71.98,275 L72.66,275 L73.35,275 L74.03,275 L74.71,275 L75.39,275 L76.07,275 L76.75,275 L77.43,275 L78.11,275 L78.79,275 L79.47,275 L80.15,275 L80.83,275 L81.51,275 L82.19,275 L82.87,275 L83.55,275 L84.23,275 L84.91,275 L85.59,275 L86.27,275 L86.95,275 L87.63,275 L88.31,275 L88.99,275 L89.67,275 L90.35,275 L91.03,275 L91.72,275 L92.4,275 L93.08,275 L93.76,275 L94.44,275 L95.12,275 L95.8,275 L96.48,275 L97.16,275 L97.84,275 L98.52,275 L99.2,275 L99.88,275 L100.56,275 L101.24,275 L101.92,275 L102.6,275 L103.28,275 L103.96,275 L104.64,275 L105.32,275 L106,275 L106.68,275 L107.36,275 L108.04,275 L108.72,275 L109.4,275 L110.08,275 L110.77,275 L111.45,275 L112.13,275 L112.81,275 L113.49,275 L114.17,275 L114.85,275 L115.53,275 L116.21,275 L116.89,275 L117.57,275 L118.25,275 L118.93,275 L119.61,275 L120.29,275 L120.97,275 L121.65,275 L122.33,275 L123.01,275 L123.69,275 L124.37,275 L125.05,275 L125.73,275 L126.41,274.99 L127.09,274.99 L127.77,274.97 L128.45,274.96 L129.14,274.93 L129.82,274.89 L130.5,274.82 L131.18,274.73 L131.86,274.59 L132.54,274.4 L133.22,274.15 L133.9,273.81 L134.58,273.38 L135.26,272.84 L135.94,272.18 L136.62,271.42 L137.3,270.55 L137.98,269.6 L138.66,268.6 L139.34,267.58 L140.02,266.61 L140.7,265.72 L141.38,264.97 L142.06,264.42 L142.74,264.09 L143.42,264 L144.1,264.18 L144.78,264.59 L145.46,265.22 L146.14,266.02 L146.82,266.95 L147.51,267.95 L148.19,268.96 L148.87,269.95 L149.55,270.88 L150.23,271.71 L150.91,272.43 L151.59,273.04 L152.27,273.54 L152.95,273.94 L153.63,274.25 L154.31,274.48 L154.99,274.65 L155.67,274.77 L156.35,274.85 L157.03,274.9 L157.71,274.94 L158.39,274.96 L159.07,274.98 L159.75,274.99 L160.43,274.99 L161.11,275 L161.79,275 L162.47,275 L163.15,275 L163.83,275 L164.51,275 L165.19,275 L165.87,275 L166.56,275 L167.24,275 L167.92,275 L168.6,275 L169.28,275 L169.96,275 L170.64,275 L171.32,275 L172,275 L172.68,275 L173.36,275 L174.04,275 L174.72,275 L175.4,275 L175.4,275 L26.4,275 Z" fill="#ff8000" stroke="none"/>
<path d="M26.4,275 L27.08,275 L27.76,275 L28.44,275 L29.12,275 L29.8,275 L30.48,275 L31.16,275 L31.84,275 L32.52,275 L33.2,275 L33.88,275 L34.56,275 L35.24,275 L35.93,275 L36.61,275 L37.29,275 L37.97,275 L38.65,275 L39.33,275 L40.01,275 L40.69,275 L41.37,275 L42.05,275 L42.73,275 L43.41,275 L44.09,275 L44.77,275 L45.45,275 L46.13,275 L46.81,275 L47.49,275 L48.17,275 L48.85,275 L49.53,275 L50.21,275 L50.89,275 L51.57,275 L52.25,275 L52.93,275 L53.61,275 L54.29,275 L54.98,275 L55.66,275 L56.34,275 L57.02,275 L57.7,275 L58.38,275 L59.06,275 L59.74,275 L60.42,275 L61.1,275 L61.78,275 L62.46,275 L63.14,275 L63.82,275 L64.5,275 L65.18,275 L65.86,275 L66.54,275 L67.22,275 L67.9,275 L68.58,275 L69.26,275 L69.94,275 L70.62,275 L71.3,275 L71.98,275 L72.66,275 L73.35,275 L74.03,275 L74.71,275 L75.39,275 L76.07,275 L76.75,275 L77.43,275 L78.11,275 L78.79,275 L79.47,275 L80.15,275 L80.83,275 L81.51,275 L82.19,275 L82.87,275 L83.55,275 L84.23,275 L84.91,275 L85.59,275 L86.27,275 L86.95,275 L87.63,275 L88.31,275 L88.99,275 L89.67,275 L90.35,275 L91.03,275 L91.72,275 L92.4,275 L93.08,275 L93.76,275 L94.44,275 L95.12,275 L95.8,275 L96.48,275 L97.16,275 L97.84,275 L98.52,275 L99.2,275 L99.88,275 L100.56,275 L101.24,275 L101.92,275 L102.6,275 L103.28,275 L103.96,275 L104.64,275 L105.32,275 L106,275 L106.68,275 L107.36,275 L108.04,275 L108.72,275 L109.4,275 L110.08,275 L110.77,275 L111.45,275 L112.13,275 L112.81,275 L113.49,275 L114.17,275 L114.85,275 L115.53,275 L116.21,275 L116.89,275 L117.57,275 L118.25,275 L118.93,275 L119.61,275 L120.29,275 L120.97,275 L121.65,275 L122.33,275 L123.01,275 L123.69,275 L124.37,275 L125.05,275 L125.73,275 L126.41,274.99 L127.09,274.99 L127.77,274.97 L128.45,274.96 L129.14,274.93 L129.82,274.89 L130.5,274.82 L131.18,274.73 L131.86,274.59 L132.54,274.4 L133.22,274.15 L133.9,273.81 L134.58,273.38 L135.26,272.84 L135.94,272.18 L136.62,271.42 L137.3,270.55 L137.98,269.6 L138.66,268.6 L139.34,267.58 L140.02,266.61 L140.7,265.72 L141.38,264.97 L142.06,264.42 L142.74,264.09 L143.42,264 L144.1,264.18 L144.78,264.59 L145.46,265.22 L146.14,266.02 L146.82,266.95 L147.51,267.95 L148.19,268.96 L148.87,269.95 L149.55,270.88 L150.23,271.71 L150.91,272.43 L151.59,273.04 L152.27,273.54 L152.95,273.94 L153.63,274.25 L154.31,274.48 L154.99,274.65 L155.67,274.77 L156.35,274.85 L157.03,274.9 L157.71,274.94 L158.39,274.96 L159.07,274.98 L159.75,274.99 L160.43,274.99 L161.11,275 L161.79,275 L162.47,275 L163.15,275 L163.83,275 L164.51,275 L165.19,275 L165.87,275 L166.56,275 L167.24,275 L167.92,275 L168.6,275 L169.28,275 L169.96,275 L170.64,275 L171.32,275 L172,275 L172.68,275 L173.36,275 L174.04,275 L174.72,275 L175.4,275" fill="none" stroke="#000" stroke-width="1.2"/>
<path d="M26.4,274.92 L27.08,274.92 L27.76,274.91 L28.44,274.91 L29.12,274.91 L29.8,274.91 L30.48,274.91 L31.16,274.91 L31.84,274.9 L32.52,274.9 L33.2,274.9 L33.88,274.9 L34.56,274.89 L35.24,274.89 L35.93,274.89 L36.61,274.89 L37.29,274.88 L37.97,274.88 L38.65,274.88 L39.33,274.88 L40.01,274.87 L40.69,274.87 L41.37,274.87 L42.05,274.86 L42.73,274.86 L43.41,274.86 L44.09,274.85 L44.77,274.85 L45.45,274.85 L46.13,274.84 L46.81,274.84 L47.49,274.83 L48.17,274.83 L48.85,274.82 L49.53,274.82 L50.21,274.81 L50.89,274.81 L51.57,274.8 L52.25,274.8 L52.93,274.79 L53.61,274.78 L54.29,274.78 L54.98,274.77 L55.66,274.76 L56.34,274.75 L57.02,274.74 L57.7,274.73 L58.38,274.72 L59.06,274.71 L59.74,274.7 L60.42,274.69 L61.1,274.68 L61.78,274.67 L62.46,274.65 L63.14,274.64 L63.82,274.62 L64.5,274.6 L65.18,274.59 L65.86,274.57 L66.54,274.54 L67.22,274.52 L67.9,274.5 L68.58,274.47 L69.26,274.43 L69.94,274.4 L70.62,274.35 L71.3,274.3 L71.98,274.23 L72.66,274.14 L73.35,274.03 L74.03,273.87 L74.71,273.66 L75.39,273.38 L76.07,273 L76.75,272.49 L77.43,271.82 L78.11,270.95 L78.79,269.83 L79.47,268.43 L80.15,266.71 L80.83,264.63 L81.51,262.18 L82.19,259.35 L82.87,256.17 L83.55,252.69 L84.23,248.99 L84.91,245.17 L85.59,241.37 L86.27,237.73 L86.95,234.43 L87.63,231.65 L88.31,229.54 L88.99,228.25 L89.67,227.87 L90.35,228.41 L91.03,229.84 L91.72,232.06 L92.4,234.92 L93.08,238.25 L93.76,241.88 L94.44,245.64 L95.12,249.37 L95.8,252.95 L96.48,256.27 L97.16,259.24 L97.84,261.82 L98.52,263.97 L99.2,265.68 L99.88,266.93 L100.56,267.73 L101.24,268.07 L101.92,267.94 L102.6,267.34 L103.28,266.23 L103.96,264.59 L104.64,262.38 L105.32,259.59 L106,256.2 L106.68,252.21 L107.36,247.68 L108.04,242.66 L108.72,237.29 L109.4,231.7 L110.08,226.09 L110.77,220.7 L111.45,215.77 L112.13,211.56 L112.81,208.31 L113.49,206.25 L114.17,205.51 L114.85,206.14 L115.53,208.12 L116.21,211.29 L116.89,215.45 L117.57,220.36 L118.25,225.76 L118.93,231.39 L119.61,237.04 L120.29,242.5 L120.97,247.62 L121.65,252.29 L122.33,256.44 L123.01,260.03 L123.69,263.07 L124.37,265.59 L125.05,267.63 L125.73,269.25 L126.41,270.52 L127.09,271.49 L127.77,272.22 L128.45,272.77 L129.14,273.18 L129.82,273.48 L130.5,273.7 L131.18,273.86 L131.86,273.99 L132.54,274.08 L133.22,274.16 L133.9,274.22 L134.58,274.27 L135.26,274.32 L135.94,274.36 L136.62,274.39 L137.3,274.42 L137.98,274.45 L138.66,274.48 L139.34,274.51 L140.02,274.53 L140.7,274.55 L141.38,274.57 L142.06,274.59 L142.74,274.6 L143.42,274.62 L144.1,274.64 L144.78,274.65 L145.46,274.66 L146.14,274.68 L146.82,274.69 L147.51,274.7 L148.19,274.71 L148.87,274.72 L149.55,274.73 L150.23,274.74 L150.91,274.75 L151.59,274.76 L152.27,274.76 L152.95,274.77 L153.63,274.78 L154.31,274.79 L154.99,274.79 L155.67,274.8 L156.35,274.8 L157.03,274.81 L157.71,274.81 L158.39,274.82 L159.07,274.82 L159.75,274.83 L160.43,274.83 L161.11,274.84 L161.79,274.84 L162.47,274.85 L163.15,274.85 L163.83,274.85 L164.51,274.86 L165.19,274.86 L165.87,274.86 L166.56,274.87 L167.24,274.87 L167.92,274.87 L168.6,274.88 L169.28,274.88 L169.96,274.88 L170.64,274.88 L171.32,274.89 L172,274.89 L172.68,274.89 L173.36,274.89 L174.04,274.9 L174.72,274.9 L175.4,274.9" fill="none" stroke="#000" stroke-width="1.2"/>
<path d="M26.4,261.31 L27.08,261.31 L27.76,261.31 L28.44,261.31 L29.12,261.31 L29.8,261.31 L30.48,261.3 L31.16,261.3 L31.84,261.3 L32.52,261.3 L33.2,261.3 L33.88,261.29 L34.56,261.29 L35.24,261.29 L35.93,261.29 L36.61,261.28 L37.29,261.28 L37.97,261.28 L38.65,261.28 L39.33,261.27 L40.01,261.27 L40.69,261.27 L41.37,261.26 L42.05,261.26 L42.73,261.26 L43.41,261.25 L44.09,261.25 L44.77,261.25 L45.45,261.24 L46.13,261.24 L46.81,261.23 L47.49,261.23 L48.17,261.22 L48.85,261.22 L49.53,261.21 L50.21,261.21 L50.89,261.2 L51.57,261.2 L52.25,261.19 L52.93,261.19 L53.61,261.18 L54.29,261.17 L54.98,261.16 L55.66,261.16 L56.34,261.15 L57.02,261.14 L57.7,261.13 L58.38,261.12 L59.06,261.11 L59.74,261.1 L60.42,261.09 L61.1,261.07 L61.78,261.06 L62.46,261.05 L63.14,261.03 L63.82,261.01 L64.5,261 L65.18,260.98 L65.86,260.96 L66.54,260.94 L67.22,260.91 L67.9,260.89 L68.58,260.86 L69.26,260.82 L69.94,260.79 L70.62,260.74 L71.3,260.69 L71.98,260.62 L72.66,260.53 L73.35,260.41 L74.03,260.25 L74.71,260.04 L75.39,259.75 L76.07,259.36 L76.75,258.85 L77.43,258.17 L78.11,257.28 L78.79,256.15 L79.47,254.72 L80.15,252.97 L80.83,250.86 L81.51,248.37 L82.19,245.49 L82.87,242.26 L83.55,238.73 L84.23,234.97 L84.91,231.09 L85.59,227.22 L86.27,223.53 L86.95,220.19 L87.63,217.37 L88.31,215.24 L88.99,213.93 L89.67,213.55 L90.35,214.11 L91.03,215.58 L91.72,217.84 L92.4,220.76 L93.08,224.16 L93.76,227.86 L94.44,231.69 L95.12,235.49 L95.8,239.14 L96.48,242.51 L97.16,245.54 L97.84,248.16 L98.52,250.35 L99.2,252.08 L99.88,253.34 L100.56,254.14 L101.24,254.47 L101.92,254.32 L102.6,253.67 L103.28,252.5 L103.96,250.77 L104.64,248.45 L105.32,245.52 L106,241.96 L106.68,237.77 L107.36,232.98 L108.04,227.67 L108.72,221.95 L109.4,215.96 L110.08,209.9 L110.77,203.98 L111.45,198.46 L112.13,193.61 L112.81,189.67 L113.49,186.87 L114.17,185.39 L114.85,185.32 L115.53,186.64 L116.21,189.26 L116.89,193 L117.57,197.67 L118.25,203.02 L118.93,208.83 L119.61,214.85 L120.29,220.88 L120.97,226.74 L121.65,232.25 L122.33,237.31 L123.01,241.83 L123.69,245.77 L124.37,249.12 L125.05,251.9 L125.73,254.15 L126.41,255.94 L127.09,257.32 L127.77,258.36 L128.45,259.13 L129.14,259.68 L129.82,260.06 L130.5,260.3 L131.18,260.42 L131.86,260.45 L132.54,260.38 L133.22,260.21 L133.9,259.95 L134.58,259.57 L135.26,259.08 L135.94,258.47 L136.62,257.74 L137.3,256.91 L137.98,255.99 L138.66,255.02 L139.34,254.03 L140.02,253.08 L140.7,252.21 L141.38,251.49 L142.06,250.96 L142.74,250.65 L143.42,250.59 L144.1,250.78 L144.78,251.21 L145.46,251.86 L146.14,252.67 L146.82,253.62 L147.51,254.63 L148.19,255.66 L148.87,256.66 L149.55,257.59 L150.23,258.43 L150.91,259.17 L151.59,259.79 L152.27,260.3 L152.95,260.7 L153.63,261.02 L154.31,261.25 L154.99,261.43 L155.67,261.55 L156.35,261.64 L157.03,261.7 L157.71,261.75 L158.39,261.78 L159.07,261.8 L159.75,261.81 L160.43,261.82 L161.11,261.83 L161.79,261.83 L162.47,261.84 L163.15,261.84 L163.83,261.85 L164.51,261.85 L165.19,261.86 L165.87,261.86 L166.56,261.86 L167.24,261.87 L167.92,261.87 L168.6,261.87 L169.28,261.87 L169.96,261.88 L170.64,261.88 L171.32,261.88 L172,261.89 L172.68,261.89 L173.36,261.89 L174.04,261.89 L174.72,261.89 L175.4,261.9" fill="none" stroke="#ff0000" stroke-width="1.3" stroke-linejoin="round"/>
<path d="M26.8,261.31h0M27.65,261.31h0M28.5,261.31h0M29.35,261.31h0M30.2,261.31h0M31.05,261.3h0M31.9,261.3h0M32.75,261.3h0M33.6,261.3h0M34.45,261.29h0M35.3,261.29h0M36.15,261.29h0M37,261.28h0M37.85,261.28h0M38.7,261.28h0M39.55,261.27h0M40.4,261.27h0M41.25,261.27h0M42.1,261.26h0M42.95,261.26h0M43.8,261.25h0M44.65,261.25h0M45.5,261.24h0M46.35,261.24h0M47.2,261.23h0M48.05,261.23h0M48.9,261.22h0M49.75,261.21h0M50.6,261.21h0M51.45,261.2h0M52.3,261.19h0M53.15,261.18h0M54,261.17h0M54.85,261.16h0M55.7,261.15h0M56.55,261.14h0M57.4,261.13h0M58.25,261.12h0M59.1,261.11h0M59.95,261.09h0M60.8,261.08h0M61.65,261.06h0M62.5,261.04h0M63.35,261.03h0M64.2,261h0M65.05,260.98h0M65.9,260.96h0M66.75,260.93h0M67.6,260.9h0M68.45,260.86h0M69.3,260.82h0M70.15,260.77h0M71,260.71h0M71.85,260.63h0M72.7,260.52h0M73.55,260.36h0M74.4,260.13h0M75.25,259.81h0M76.1,259.34h0M76.95,258.65h0M77.8,257.68h0M78.65,256.38h0M79.5,254.64h0M80.35,252.35h0M81.2,249.5h0M82.05,246.08h0M82.9,242.11h0M83.75,237.63h0M84.6,232.87h0M85.45,228.03h0M86.3,223.4h0M87.15,219.37h0M88,216.22h0M88.85,214.21h0M89.7,213.57h0M90.55,214.53h0M91.4,216.79h0M92.25,220.14h0M93.1,224.29h0M93.95,228.95h0M94.8,233.72h0M95.65,238.35h0M96.5,242.61h0M97.35,246.28h0M98.2,249.32h0M99.05,251.7h0M99.9,253.36h0M100.75,254.23h0M101.6,254.39h0M102.45,253.81h0M103.3,252.45h0M104.15,250.13h0M105,246.91h0M105.85,242.76h0M106.7,237.65h0M107.55,231.53h0M108.4,224.68h0M109.25,217.32h0M110.1,209.77h0M110.95,202.48h0M111.8,195.93h0M112.65,190.57h0M113.5,186.84h0M114.35,185.38h0M115.2,186h0M116.05,188.65h0M116.9,193.08h0M117.75,199.09h0M118.6,206.01h0M119.45,213.43h0M120.3,220.97h0M121.15,228.19h0M122,234.85h0M122.85,240.76h0M123.7,245.81h0M124.55,249.85h0M125.4,253.05h0M126.25,255.51h0M127.1,257.33h0M127.95,258.56h0M128.8,259.41h0M129.65,259.97h0M130.5,260.3h0M131.35,260.43h0M132.2,260.41h0M133.05,260.25h0M133.9,259.94h0M134.75,259.45h0M135.6,258.77h0M136.45,257.93h0M137.3,256.91h0M138.15,255.75h0M139,254.53h0M139.85,253.32h0M140.7,252.22h0M141.55,251.36h0M142.4,250.8h0M143.25,250.6h0M144.1,250.78h0M144.95,251.37h0M145.8,252.26h0M146.65,253.37h0M147.5,254.62h0M148.35,255.9h0M149.2,257.11h0M150.05,258.21h0M150.9,259.16h0M151.75,259.91h0M152.6,260.49h0M153.45,260.93h0M154.3,261.25h0M155.15,261.46h0M156,261.6h0M156.85,261.69h0M157.7,261.75h0M158.55,261.78h0M159.4,261.8h0M160.25,261.82h0M161.1,261.83h0M161.95,261.84h0M162.8,261.84h0M163.65,261.85h0M164.5,261.85h0M165.35,261.86h0M166.2,261.86h0M167.05,261.86h0M167.9,261.87h0M168.75,261.87h0M169.6,261.88h0M170.45,261.88h0M171.3,261.88h0M172.15,261.89h0M173,261.89h0M173.85,261.89h0M174.7,261.89h0" fill="none" stroke="#ff0000" stroke-width="2.8" stroke-linecap="round"/>
<line x1="25.6" y1="369.3" x2="176.2" y2="369.3" stroke="#000" stroke-width="1.5"/>
<path d="M26.4,381.4 L27.08,381.4 L27.76,381.4 L28.44,381.4 L29.12,381.4 L29.8,381.4 L30.48,381.4 L31.16,381.4 L31.84,381.4 L32.52,381.4 L33.2,381.4 L33.88,381.4 L34.56,381.4 L35.24,381.4 L35.93,381.4 L36.61,381.4 L37.29,381.4 L37.97,381.4 L38.65,381.4 L39.33,381.4 L40.01,381.4 L40.69,381.4 L41.37,381.4 L42.05,381.4 L42.73,381.4 L43.41,381.4 L44.09,381.4 L44.77,381.4 L45.45,381.4 L46.13,381.4 L46.81,381.4 L47.49,381.4 L48.17,381.4 L48.85,381.4 L49.53,381.4 L50.21,381.4 L50.89,381.4 L51.57,381.4 L52.25,381.4 L52.93,381.4 L53.61,381.4 L54.29,381.4 L54.98,381.4 L55.66,381.4 L56.34,381.4 L57.02,381.4 L57.7,381.4 L58.38,381.4 L59.06,381.4 L59.74,381.4 L60.42,381.4 L61.1,381.4 L61.78,381.4 L62.46,381.4 L63.14,381.4 L63.82,381.4 L64.5,381.4 L65.18,381.4 L65.86,381.4 L66.54,381.4 L67.22,381.4 L67.9,381.4 L68.58,381.4 L69.26,381.4 L69.94,381.4 L70.62,381.4 L71.3,381.4 L71.98,381.4 L72.66,381.4 L73.35,381.4 L74.03,381.4 L74.71,381.4 L75.39,381.4 L76.07,381.4 L76.75,381.4 L77.43,381.4 L78.11,381.4 L78.79,381.4 L79.47,381.4 L80.15,381.4 L80.83,381.4 L81.51,381.4 L82.19,381.4 L82.87,381.4 L83.55,381.4 L84.23,381.4 L84.91,381.4 L85.59,381.4 L86.27,381.4 L86.95,381.4 L87.63,381.4 L88.31,381.4 L88.99,381.4 L89.67,381.4 L90.35,381.4 L91.03,381.4 L91.72,381.4 L92.4,381.4 L93.08,381.4 L93.76,381.4 L94.44,381.4 L95.12,381.4 L95.8,381.4 L96.48,381.4 L97.16,381.4 L97.84,381.4 L98.52,381.4 L99.2,381.4 L99.88,381.4 L100.56,381.4 L101.24,381.4 L101.92,381.4 L102.6,381.4 L103.28,381.4 L103.96,381.4 L104.64,381.4 L105.32,381.4 L106,381.4 L106.68,381.4 L107.36,381.39 L108.04,381.39 L108.72,381.38 L109.4,381.36 L110.08,381.34 L110.77,381.29 L111.45,381.23 L112.13,381.13 L112.81,381 L113.49,380.82 L114.17,380.6 L114.85,380.34 L115.53,380.05 L116.21,379.75 L116.89,379.46 L117.57,379.2 L118.25,379.02 L118.93,378.91 L119.61,378.91 L120.29,379 L120.97,379.18 L121.65,379.43 L122.33,379.72 L123.01,380.02 L123.69,380.32 L124.37,380.58 L125.05,380.8 L125.73,380.98 L126.41,381.12 L127.09,381.22 L127.77,381.29 L128.45,381.33 L129.14,381.36 L129.82,381.38 L130.5,381.39 L131.18,381.39 L131.86,381.4 L132.54,381.4 L133.22,381.4 L133.9,381.4 L134.58,381.4 L135.26,381.4 L135.94,381.4 L136.62,381.4 L137.3,381.4 L137.98,381.4 L138.66,381.4 L139.34,381.4 L140.02,381.4 L140.7,381.4 L141.38,381.4 L142.06,381.4 L142.74,381.4 L143.42,381.4 L144.1,381.4 L144.78,381.4 L145.46,381.4 L146.14,381.4 L146.82,381.4 L147.51,381.4 L148.19,381.4 L148.87,381.4 L149.55,381.4 L150.23,381.4 L150.91,381.4 L151.59,381.4 L152.27,381.4 L152.95,381.4 L153.63,381.4 L154.31,381.4 L154.99,381.4 L155.67,381.4 L156.35,381.4 L157.03,381.4 L157.71,381.4 L158.39,381.4 L159.07,381.4 L159.75,381.4 L160.43,381.4 L161.11,381.4 L161.79,381.4 L162.47,381.4 L163.15,381.4 L163.83,381.4 L164.51,381.4 L165.19,381.4 L165.87,381.4 L166.56,381.4 L167.24,381.4 L167.92,381.4 L168.6,381.4 L169.28,381.4 L169.96,381.4 L170.64,381.4 L171.32,381.4 L172,381.4 L172.68,381.4 L173.36,381.4 L174.04,381.4 L174.72,381.4 L175.4,381.4 L175.4,381.4 L26.4,381.4 Z" fill="#ff8000" stroke="none"/>
<path d="M26.4,381.4 L27.08,381.4 L27.76,381.4 L28.44,381.4 L29.12,381.4 L29.8,381.4 L30.48,381.4 L31.16,381.4 L31.84,381.4 L32.52,381.4 L33.2,381.4 L33.88,381.4 L34.56,381.4 L35.24,381.4 L35.93,381.4 L36.61,381.4 L37.29,381.4 L37.97,381.4 L38.65,381.4 L39.33,381.4 L40.01,381.4 L40.69,381.4 L41.37,381.4 L42.05,381.4 L42.73,381.4 L43.41,381.4 L44.09,381.4 L44.77,381.4 L45.45,381.4 L46.13,381.4 L46.81,381.4 L47.49,381.4 L48.17,381.4 L48.85,381.4 L49.53,381.4 L50.21,381.4 L50.89,381.4 L51.57,381.4 L52.25,381.4 L52.93,381.4 L53.61,381.4 L54.29,381.4 L54.98,381.4 L55.66,381.4 L56.34,381.4 L57.02,381.4 L57.7,381.4 L58.38,381.4 L59.06,381.4 L59.74,381.4 L60.42,381.4 L61.1,381.4 L61.78,381.4 L62.46,381.4 L63.14,381.4 L63.82,381.4 L64.5,381.4 L65.18,381.4 L65.86,381.4 L66.54,381.4 L67.22,381.4 L67.9,381.4 L68.58,381.4 L69.26,381.4 L69.94,381.4 L70.62,381.4 L71.3,381.4 L71.98,381.4 L72.66,381.4 L73.35,381.4 L74.03,381.4 L74.71,381.4 L75.39,381.4 L76.07,381.4 L76.75,381.4 L77.43,381.4 L78.11,381.4 L78.79,381.4 L79.47,381.4 L80.15,381.4 L80.83,381.4 L81.51,381.4 L82.19,381.4 L82.87,381.4 L83.55,381.4 L84.23,381.4 L84.91,381.4 L85.59,381.4 L86.27,381.4 L86.95,381.4 L87.63,381.4 L88.31,381.4 L88.99,381.4 L89.67,381.4 L90.35,381.4 L91.03,381.4 L91.72,381.4 L92.4,381.4 L93.08,381.4 L93.76,381.4 L94.44,381.4 L95.12,381.4 L95.8,381.4 L96.48,381.4 L97.16,381.4 L97.84,381.4 L98.52,381.4 L99.2,381.4 L99.88,381.4 L100.56,381.4 L101.24,381.4 L101.92,381.4 L102.6,381.4 L103.28,381.4 L103.96,381.4 L104.64,381.4 L105.32,381.4 L106,381.4 L106.68,381.4 L107.36,381.39 L108.04,381.39 L108.72,381.38 L109.4,381.36 L110.08,381.34 L110.77,381.29 L111.45,381.23 L112.13,381.13 L112.81,381 L113.49,380.82 L114.17,380.6 L114.85,380.34 L115.53,380.05 L116.21,379.75 L116.89,379.46 L117.57,379.2 L118.25,379.02 L118.93,378.91 L119.61,378.91 L120.29,379 L120.97,379.18 L121.65,379.43 L122.33,379.72 L123.01,380.02 L123.69,380.32 L124.37,380.58 L125.05,380.8 L125.73,380.98 L126.41,381.12 L127.09,381.22 L127.77,381.29 L128.45,381.33 L129.14,381.36 L129.82,381.38 L130.5,381.39 L131.18,381.39 L131.86,381.4 L132.54,381.4 L133.22,381.4 L133.9,381.4 L134.58,381.4 L135.26,381.4 L135.94,381.4 L136.62,381.4 L137.3,381.4 L137.98,381.4 L138.66,381.4 L139.34,381.4 L140.02,381.4 L140.7,381.4 L141.38,381.4 L142.06,381.4 L142.74,381.4 L143.42,381.4 L144.1,381.4 L144.78,381.4 L145.46,381.4 L146.14,381.4 L146.82,381.4 L147.51,381.4 L148.19,381.4 L148.87,381.4 L149.55,381.4 L150.23,381.4 L150.91,381.4 L151.59,381.4 L152.27,381.4 L152.95,381.4 L153.63,381.4 L154.31,381.4 L154.99,381.4 L155.67,381.4 L156.35,381.4 L157.03,381.4 L157.71,381.4 L158.39,381.4 L159.07,381.4 L159.75,381.4 L160.43,381.4 L161.11,381.4 L161.79,381.4 L162.47,381.4 L163.15,381.4 L163.83,381.4 L164.51,381.4 L165.19,381.4 L165.87,381.4 L166.56,381.4 L167.24,381.4 L167.92,381.4 L168.6,381.4 L169.28,381.4 L169.96,381.4 L170.64,381.4 L171.32,381.4 L172,381.4 L172.68,381.4 L173.36,381.4 L174.04,381.4 L174.72,381.4 L175.4,381.4" fill="none" stroke="#000" stroke-width="1.2"/>
<path d="M26.4,381.4 L27.08,381.4 L27.76,381.4 L28.44,381.4 L29.12,381.4 L29.8,381.4 L30.48,381.4 L31.16,381.4 L31.84,381.4 L32.52,381.4 L33.2,381.4 L33.88,381.4 L34.56,381.4 L35.24,381.4 L35.93,381.4 L36.61,381.4 L37.29,381.4 L37.97,381.4 L38.65,381.4 L39.33,381.4 L40.01,381.4 L40.69,381.4 L41.37,381.4 L42.05,381.4 L42.73,381.4 L43.41,381.4 L44.09,381.4 L44.77,381.4 L45.45,381.4 L46.13,381.4 L46.81,381.4 L47.49,381.4 L48.17,381.4 L48.85,381.4 L49.53,381.4 L50.21,381.4 L50.89,381.4 L51.57,381.4 L52.25,381.4 L52.93,381.4 L53.61,381.4 L54.29,381.4 L54.98,381.4 L55.66,381.4 L56.34,381.4 L57.02,381.4 L57.7,381.4 L58.38,381.4 L59.06,381.4 L59.74,381.4 L60.42,381.4 L61.1,381.4 L61.78,381.4 L62.46,381.4 L63.14,381.4 L63.82,381.4 L64.5,381.4 L65.18,381.4 L65.86,381.4 L66.54,381.4 L67.22,381.4 L67.9,381.4 L68.58,381.4 L69.26,381.4 L69.94,381.4 L70.62,381.4 L71.3,381.4 L71.98,381.4 L72.66,381.4 L73.35,381.4 L74.03,381.4 L74.71,381.4 L75.39,381.4 L76.07,381.4 L76.75,381.4 L77.43,381.4 L78.11,381.4 L78.79,381.4 L79.47,381.4 L80.15,381.4 L80.83,381.4 L81.51,381.4 L82.19,381.4 L82.87,381.4 L83.55,381.4 L84.23,381.4 L84.91,381.4 L85.59,381.4 L86.27,381.4 L86.95,381.4 L87.63,381.4 L88.31,381.4 L88.99,381.4 L89.67,381.4 L90.35,381.4 L91.03,381.4 L91.72,381.4 L92.4,381.4 L93.08,381.4 L93.76,381.4 L94.44,381.4 L95.12,381.4 L95.8,381.4 L96.48,381.4 L97.16,381.4 L97.84,381.4 L98.52,381.4 L99.2,381.4 L99.88,381.4 L100.56,381.4 L101.24,381.4 L101.92,381.4 L102.6,381.4 L103.28,381.4 L103.96,381.4 L104.64,381.4 L105.32,381.4 L106,381.4 L106.68,381.4 L107.36,381.4 L108.04,381.4 L108.72,381.4 L109.4,381.4 L110.08,381.4 L110.77,381.4 L111.45,381.4 L112.13,381.4 L112.81,381.4 L113.49,381.4 L114.17,381.4 L114.85,381.4 L115.53,381.4 L116.21,381.4 L116.89,381.4 L117.57,381.4 L118.25,381.4 L118.93,381.4 L119.61,381.4 L120.29,381.4 L120.97,381.4 L121.65,381.4 L122.33,381.4 L123.01,381.4 L123.69,381.4 L124.37,381.4 L125.05,381.4 L125.73,381.4 L126.41,381.4 L127.09,381.4 L127.77,381.4 L128.45,381.4 L129.14,381.4 L129.82,381.39 L130.5,381.39 L131.18,381.38 L131.86,381.36 L132.54,381.34 L133.22,381.3 L133.9,381.24 L134.58,381.15 L135.26,381.03 L135.94,380.86 L136.62,380.65 L137.3,380.37 L137.98,380.04 L138.66,379.66 L139.34,379.25 L140.02,378.82 L140.7,378.4 L141.38,378.02 L142.06,377.71 L142.74,377.5 L143.42,377.4 L144.1,377.43 L144.78,377.59 L145.46,377.85 L146.14,378.19 L146.82,378.6 L147.51,379.03 L148.19,379.45 L148.87,379.85 L149.55,380.21 L150.23,380.51 L150.91,380.76 L151.59,380.95 L152.27,381.09 L152.95,381.2 L153.63,381.27 L154.31,381.32 L154.99,381.35 L155.67,381.37 L156.35,381.38 L157.03,381.39 L157.71,381.4 L158.39,381.4 L159.07,381.4 L159.75,381.4 L160.43,381.4 L161.11,381.4 L161.79,381.4 L162.47,381.4 L163.15,381.4 L163.83,381.4 L164.51,381.4 L165.19,381.4 L165.87,381.4 L166.56,381.4 L167.24,381.4 L167.92,381.4 L168.6,381.4 L169.28,381.4 L169.96,381.4 L170.64,381.4 L171.32,381.4 L172,381.4 L172.68,381.4 L173.36,381.4 L174.04,381.4 L174.72,381.4 L175.4,381.4 L175.4,381.4 L26.4,381.4 Z" fill="#ff8000" stroke="none"/>
<path d="M26.4,381.4 L27.08,381.4 L27.76,381.4 L28.44,381.4 L29.12,381.4 L29.8,381.4 L30.48,381.4 L31.16,381.4 L31.84,381.4 L32.52,381.4 L33.2,381.4 L33.88,381.4 L34.56,381.4 L35.24,381.4 L35.93,381.4 L36.61,381.4 L37.29,381.4 L37.97,381.4 L38.65,381.4 L39.33,381.4 L40.01,381.4 L40.69,381.4 L41.37,381.4 L42.05,381.4 L42.73,381.4 L43.41,381.4 L44.09,381.4 L44.77,381.4 L45.45,381.4 L46.13,381.4 L46.81,381.4 L47.49,381.4 L48.17,381.4 L48.85,381.4 L49.53,381.4 L50.21,381.4 L50.89,381.4 L51.57,381.4 L52.25,381.4 L52.93,381.4 L53.61,381.4 L54.29,381.4 L54.98,381.4 L55.66,381.4 L56.34,381.4 L57.02,381.4 L57.7,381.4 L58.38,381.4 L59.06,381.4 L59.74,381.4 L60.42,381.4 L61.1,381.4 L61.78,381.4 L62.46,381.4 L63.14,381.4 L63.82,381.4 L64.5,381.4 L65.18,381.4 L65.86,381.4 L66.54,381.4 L67.22,381.4 L67.9,381.4 L68.58,381.4 L69.26,381.4 L69.94,381.4 L70.62,381.4 L71.3,381.4 L71.98,381.4 L72.66,381.4 L73.35,381.4 L74.03,381.4 L74.71,381.4 L75.39,381.4 L76.07,381.4 L76.75,381.4 L77.43,381.4 L78.11,381.4 L78.79,381.4 L79.47,381.4 L80.15,381.4 L80.83,381.4 L81.51,381.4 L82.19,381.4 L82.87,381.4 L83.55,381.4 L84.23,381.4 L84.91,381.4 L85.59,381.4 L86.27,381.4 L86.95,381.4 L87.63,381.4 L88.31,381.4 L88.99,381.4 L89.67,381.4 L90.35,381.4 L91.03,381.4 L91.72,381.4 L92.4,381.4 L93.08,381.4 L93.76,381.4 L94.44,381.4 L95.12,381.4 L95.8,381.4 L96.48,381.4 L97.16,381.4 L97.84,381.4 L98.52,381.4 L99.2,381.4 L99.88,381.4 L100.56,381.4 L101.24,381.4 L101.92,381.4 L102.6,381.4 L103.28,381.4 L103.96,381.4 L104.64,381.4 L105.32,381.4 L106,381.4 L106.68,381.4 L107.36,381.4 L108.04,381.4 L108.72,381.4 L109.4,381.4 L110.08,381.4 L110.77,381.4 L111.45,381.4 L112.13,381.4 L112.81,381.4 L113.49,381.4 L114.17,381.4 L114.85,381.4 L115.53,381.4 L116.21,381.4 L116.89,381.4 L117.57,381.4 L118.25,381.4 L118.93,381.4 L119.61,381.4 L120.29,381.4 L120.97,381.4 L121.65,381.4 L122.33,381.4 L123.01,381.4 L123.69,381.4 L124.37,381.4 L125.05,381.4 L125.73,381.4 L126.41,381.4 L127.09,381.4 L127.77,381.4 L128.45,381.4 L129.14,381.4 L129.82,381.39 L130.5,381.39 L131.18,381.38 L131.86,381.36 L132.54,381.34 L133.22,381.3 L133.9,381.24 L134.58,381.15 L135.26,381.03 L135.94,380.86 L136.62,380.65 L137.3,380.37 L137.98,380.04 L138.66,379.66 L139.34,379.25 L140.02,378.82 L140.7,378.4 L141.38,378.02 L142.06,377.71 L142.74,377.5 L143.42,377.4 L144.1,377.43 L144.78,377.59 L145.46,377.85 L146.14,378.19 L146.82,378.6 L147.51,379.03 L148.19,379.45 L148.87,379.85 L149.55,380.21 L150.23,380.51 L150.91,380.76 L151.59,380.95 L152.27,381.09 L152.95,381.2 L153.63,381.27 L154.31,381.32 L154.99,381.35 L155.67,381.37 L156.35,381.38 L157.03,381.39 L157.71,381.4 L158.39,381.4 L159.07,381.4 L159.75,381.4 L160.43,381.4 L161.11,381.4 L161.79,381.4 L162.47,381.4 L163.15,381.4 L163.83,381.4 L164.51,381.4 L165.19,381.4 L165.87,381.4 L166.56,381.4 L167.24,381.4 L167.92,381.4 L168.6,381.4 L169.28,381.4 L169.96,381.4 L170.64,381.4 L171.32,381.4 L172,381.4 L172.68,381.4 L173.36,381.4 L174.04,381.4 L174.72,381.4 L175.4,381.4" fill="none" stroke="#000" stroke-width="1.2"/>
<path d="M26.4,381.31 L27.08,381.31 L27.76,381.31 L28.44,381.31 L29.12,381.31 L29.8,381.31 L30.48,381.3 L31.16,381.3 L31.84,381.3 L32.52,381.3 L33.2,381.3 L33.88,381.29 L34.56,381.29 L35.24,381.29 L35.93,381.29 L36.61,381.28 L37.29,381.28 L37.97,381.28 L38.65,381.28 L39.33,381.27 L40.01,381.27 L40.69,381.27 L41.37,381.26 L42.05,381.26 L42.73,381.26 L43.41,381.25 L44.09,381.25 L44.77,381.25 L45.45,381.24 L46.13,381.24 L46.81,381.23 L47.49,381.23 L48.17,381.22 L48.85,381.22 L49.53,381.21 L50.21,381.21 L50.89,381.2 L51.57,381.19 L52.25,381.19 L52.93,381.18 L53.61,381.17 L54.29,381.17 L54.98,381.16 L55.66,381.15 L56.34,381.14 L57.02,381.13 L57.7,381.12 L58.38,381.11 L59.06,381.1 L59.74,381.09 L60.42,381.08 L61.1,381.07 L61.78,381.05 L62.46,381.04 L63.14,381.02 L63.82,381 L64.5,380.99 L65.18,380.97 L65.86,380.94 L66.54,380.92 L67.22,380.9 L67.9,380.87 L68.58,380.84 L69.26,380.8 L69.94,380.76 L70.62,380.71 L71.3,380.64 L71.98,380.56 L72.66,380.46 L73.35,380.32 L74.03,380.13 L74.71,379.87 L75.39,379.53 L76.07,379.06 L76.75,378.45 L77.43,377.65 L78.11,376.61 L78.79,375.3 L79.47,373.67 L80.15,371.69 L80.83,369.34 L81.51,366.59 L82.19,363.48 L82.87,360.03 L83.55,356.32 L84.23,352.43 L84.91,348.51 L85.59,344.68 L86.27,341.14 L86.95,338.05 L87.63,335.58 L88.31,333.9 L88.99,333.11 L89.67,333.28 L90.35,334.38 L91.03,336.34 L91.72,339.02 L92.4,342.26 L93.08,345.88 L93.76,349.71 L94.44,353.57 L95.12,357.32 L95.8,360.85 L96.48,364.06 L97.16,366.89 L97.84,369.29 L98.52,371.24 L99.2,372.74 L99.88,373.78 L100.56,374.36 L101.24,374.48 L101.92,374.12 L102.6,373.28 L103.28,371.92 L103.96,370 L104.64,367.51 L105.32,364.43 L106,360.74 L106.68,356.46 L107.36,351.66 L108.04,346.43 L108.72,340.89 L109.4,335.22 L110.08,329.63 L110.77,324.36 L111.45,319.67 L112.13,315.83 L112.81,313.06 L113.49,311.55 L114.17,311.41 L114.85,312.66 L115.53,315.21 L116.21,318.88 L116.89,323.44 L117.57,328.64 L118.25,334.22 L118.93,339.94 L119.61,345.57 L120.29,350.94 L120.97,355.92 L121.65,360.4 L122.33,364.34 L123.01,367.72 L123.69,370.55 L124.37,372.87 L125.05,374.74 L125.73,376.21 L126.41,377.34 L127.09,378.21 L127.77,378.86 L128.45,379.35 L129.14,379.71 L129.82,379.97 L130.5,380.17 L131.18,380.31 L131.86,380.42 L132.54,380.51 L133.22,380.58 L133.9,380.64 L134.58,380.69 L135.26,380.73 L135.94,380.77 L136.62,380.8 L137.3,380.83 L137.98,380.86 L138.66,380.89 L139.34,380.91 L140.02,380.93 L140.7,380.95 L141.38,380.97 L142.06,380.99 L142.74,381.01 L143.42,381.02 L144.1,381.04 L144.78,381.05 L145.46,381.07 L146.14,381.08 L146.82,381.09 L147.51,381.1 L148.19,381.11 L148.87,381.12 L149.55,381.13 L150.23,381.14 L150.91,381.15 L151.59,381.16 L152.27,381.16 L152.95,381.17 L153.63,381.18 L154.31,381.19 L154.99,381.19 L155.67,381.2 L156.35,381.2 L157.03,381.21 L157.71,381.21 L158.39,381.22 L159.07,381.22 L159.75,381.23 L160.43,381.23 L161.11,381.24 L161.79,381.24 L162.47,381.25 L163.15,381.25 L163.83,381.25 L164.51,381.26 L165.19,381.26 L165.87,381.26 L166.56,381.27 L167.24,381.27 L167.92,381.27 L168.6,381.28 L169.28,381.28 L169.96,381.28 L170.64,381.28 L171.32,381.29 L172,381.29 L172.68,381.29 L173.36,381.29 L174.04,381.3 L174.72,381.3 L175.4,381.3" fill="none" stroke="#000" stroke-width="1.2"/>
<path d="M26.4,366.91 L27.08,366.91 L27.76,366.91 L28.44,366.91 L29.12,366.91 L29.8,366.91 L30.48,366.9 L31.16,366.9 L31.84,366.9 L32.52,366.9 L33.2,366.9 L33.88,366.89 L34.56,366.89 L35.24,366.89 L35.93,366.89 L36.61,366.88 L37.29,366.88 L37.97,366.88 L38.65,366.88 L39.33,366.87 L40.01,366.87 L40.69,366.87 L41.37,366.86 L42.05,366.86 L42.73,366.86 L43.41,366.85 L44.09,366.85 L44.77,366.84 L45.45,366.84 L46.13,366.84 L46.81,366.83 L47.49,366.83 L48.17,366.82 L48.85,366.82 L49.53,366.81 L50.21,366.81 L50.89,366.8 L51.57,366.79 L52.25,366.79 L52.93,366.78 L53.61,366.77 L54.29,366.77 L54.98,366.76 L55.66,366.75 L56.34,366.74 L57.02,366.73 L57.7,366.72 L58.38,366.71 L59.06,366.7 L59.74,366.69 L60.42,366.68 L61.1,366.67 L61.78,366.65 L62.46,366.64 L63.14,366.62 L63.82,366.61 L64.5,366.59 L65.18,366.57 L65.86,366.55 L66.54,366.52 L67.22,366.5 L67.9,366.47 L68.58,366.44 L69.26,366.41 L69.94,366.36 L70.62,366.31 L71.3,366.25 L71.98,366.18 L72.66,366.07 L73.35,365.94 L74.03,365.76 L74.71,365.52 L75.39,365.19 L76.07,364.74 L76.75,364.16 L77.43,363.38 L78.11,362.39 L78.79,361.13 L79.47,359.55 L80.15,357.63 L80.83,355.34 L81.51,352.66 L82.19,349.61 L82.87,346.21 L83.55,342.55 L84.23,338.69 L84.91,334.78 L85.59,330.95 L86.27,327.37 L86.95,324.21 L87.63,321.66 L88.31,319.87 L88.99,318.96 L89.67,318.99 L90.35,319.97 L91.03,321.82 L91.72,324.41 L92.4,327.58 L93.08,331.16 L93.76,334.96 L94.44,338.82 L95.12,342.6 L95.8,346.16 L96.48,349.41 L97.16,352.28 L97.84,354.74 L98.52,356.74 L99.2,358.27 L99.88,359.35 L100.56,359.95 L101.24,360.08 L101.92,359.72 L102.6,358.85 L103.28,357.45 L103.96,355.49 L104.64,352.93 L105.32,349.75 L106,345.94 L106.68,341.54 L107.36,336.59 L108.04,331.2 L108.72,325.48 L109.4,319.63 L110.08,313.85 L110.77,308.38 L111.45,303.5 L112.13,299.45 L112.81,296.47 L113.49,294.76 L114.17,294.42 L114.85,295.46 L115.53,297.82 L116.21,301.32 L116.89,305.75 L117.57,310.88 L118.25,316.46 L118.93,322.27 L119.61,328.08 L120.29,333.73 L120.97,339.05 L121.65,343.93 L122.33,348.29 L123.01,352.08 L123.69,355.3 L124.37,357.96 L125.05,360.11 L125.73,361.8 L126.41,363.12 L127.09,364.11 L127.77,364.85 L128.45,365.4 L129.14,365.79 L129.82,366.08 L130.5,366.29 L131.18,366.44 L131.86,366.54 L132.54,366.61 L133.22,366.64 L133.9,366.64 L134.58,366.6 L135.26,366.52 L135.94,366.4 L136.62,366.21 L137.3,365.97 L137.98,365.67 L138.66,365.32 L139.34,364.93 L140.02,364.52 L140.7,364.13 L141.38,363.77 L142.06,363.48 L142.74,363.29 L143.42,363.21 L144.1,363.25 L144.78,363.42 L145.46,363.7 L146.14,364.06 L146.82,364.47 L147.51,364.92 L148.19,365.35 L148.87,365.76 L149.55,366.13 L150.23,366.44 L150.91,366.7 L151.59,366.9 L152.27,367.05 L152.95,367.16 L153.63,367.24 L154.31,367.3 L154.99,367.34 L155.67,367.36 L156.35,367.38 L157.03,367.4 L157.71,367.4 L158.39,367.41 L159.07,367.42 L159.75,367.42 L160.43,367.43 L161.11,367.43 L161.79,367.44 L162.47,367.44 L163.15,367.45 L163.83,367.45 L164.51,367.45 L165.19,367.46 L165.87,367.46 L166.56,367.46 L167.24,367.47 L167.92,367.47 L168.6,367.47 L169.28,367.48 L169.96,367.48 L170.64,367.48 L171.32,367.48 L172,367.49 L172.68,367.49 L173.36,367.49 L174.04,367.49 L174.72,367.5 L175.4,367.5" fill="none" stroke="#000" stroke-width="1.3" stroke-linejoin="round"/>
<path d="M26.8,366.91h0M27.65,366.91h0M28.5,366.91h0M29.35,366.91h0M30.2,366.9h0M31.05,366.9h0M31.9,366.9h0M32.75,366.9h0M33.6,366.89h0M34.45,366.89h0M35.3,366.89h0M36.15,366.89h0M37,366.88h0M37.85,366.88h0M38.7,366.87h0M39.55,366.87h0M40.4,366.87h0M41.25,366.86h0M42.1,366.86h0M42.95,366.85h0M43.8,366.85h0M44.65,366.85h0M45.5,366.84h0M46.35,366.83h0M47.2,366.83h0M48.05,366.82h0M48.9,366.82h0M49.75,366.81h0M50.6,366.8h0M51.45,366.8h0M52.3,366.79h0M53.15,366.78h0M54,366.77h0M54.85,366.76h0M55.7,366.75h0M56.55,366.74h0M57.4,366.73h0M58.25,366.72h0M59.1,366.7h0M59.95,366.69h0M60.8,366.67h0M61.65,366.66h0M62.5,366.64h0M63.35,366.62h0M64.2,366.6h0M65.05,366.57h0M65.9,366.55h0M66.75,366.52h0M67.6,366.48h0M68.45,366.45h0M69.3,366.4h0M70.15,366.35h0M71,366.28h0M71.85,366.19h0M72.7,366.07h0M73.55,365.89h0M74.4,365.63h0M75.25,365.25h0M76.1,364.71h0M76.95,363.93h0M77.8,362.84h0M78.65,361.38h0M79.5,359.46h0M80.35,356.95h0M81.2,353.88h0M82.05,350.23h0M82.9,346.05h0M83.75,341.42h0M84.6,336.57h0M85.45,331.75h0M86.3,327.24h0M87.15,323.47h0M88,320.69h0M88.85,319.15h0M89.7,319.03h0M90.55,320.5h0M91.4,323.21h0M92.25,326.9h0M93.1,331.29h0M93.95,336.06h0M94.8,340.84h0M95.65,345.39h0M96.5,349.51h0M97.35,352.98h0M98.2,355.8h0M99.05,357.94h0M99.9,359.36h0M100.75,359.98h0M101.6,359.89h0M102.45,359.05h0M103.3,357.4h0M104.15,354.78h0M105,351.25h0M105.85,346.8h0M106.7,341.42h0M107.55,335.11h0M108.4,328.2h0M109.25,320.96h0M110.1,313.72h0M110.95,307.06h0M111.8,301.39h0M112.65,297.16h0M113.5,294.75h0M114.35,294.7h0M115.2,296.68h0M116.05,300.5h0M116.9,305.84h0M117.75,312.36h0M118.6,319.45h0M119.45,326.71h0M120.3,333.81h0M121.15,340.34h0M122,346.17h0M122.85,351.18h0M123.7,355.33h0M124.55,358.52h0M125.4,360.97h0M126.25,362.8h0M127.1,364.12h0M127.95,364.99h0M128.8,365.6h0M129.65,366.01h0M130.5,366.29h0M131.35,366.46h0M132.2,366.57h0M133.05,366.63h0M133.9,366.64h0M134.75,366.58h0M135.6,366.46h0M136.45,366.26h0M137.3,365.97h0M138.15,365.58h0M139,365.13h0M139.85,364.63h0M140.7,364.13h0M141.55,363.7h0M142.4,363.38h0M143.25,363.23h0M144.1,363.25h0M144.95,363.49h0M145.8,363.88h0M146.65,364.37h0M147.5,364.91h0M148.35,365.45h0M149.2,365.94h0M150.05,366.36h0M150.9,366.69h0M151.75,366.94h0M152.6,367.11h0M153.45,367.22h0M154.3,367.3h0M155.15,367.34h0M156,367.37h0M156.85,367.39h0M157.7,367.4h0M158.55,367.41h0M159.4,367.42h0M160.25,367.43h0M161.1,367.43h0M161.95,367.44h0M162.8,367.44h0M163.65,367.45h0M164.5,367.45h0M165.35,367.46h0M166.2,367.46h0M167.05,367.47h0M167.9,367.47h0M168.75,367.47h0M169.6,367.48h0M170.45,367.48h0M171.3,367.48h0M172.15,367.49h0M173,367.49h0M173.85,367.49h0M174.7,367.5h0" fill="none" stroke="#000" stroke-width="2.8" stroke-linecap="round"/>
<line x1="189.9" y1="158.1" x2="340.6" y2="158.1" stroke="#000" stroke-width="1.5"/>
<path d="M190.7,171 L191.38,171 L192.06,171 L192.74,171 L193.42,171 L194.1,171 L194.78,171 L195.47,171 L196.15,171 L196.83,171 L197.51,171 L198.19,171 L198.87,171 L199.55,171 L200.23,171 L200.91,171 L201.59,171 L202.27,171 L202.95,171 L203.64,171 L204.32,171 L205,171 L205.68,171 L206.36,171 L207.04,171 L207.72,171 L208.4,171 L209.08,171 L209.76,171 L210.44,171 L211.12,171 L211.81,171 L212.49,171 L213.17,171 L213.85,171 L214.53,171 L215.21,171 L215.89,171 L216.57,171 L217.25,171 L217.93,171 L218.61,170.99 L219.29,170.99 L219.98,170.99 L220.66,170.98 L221.34,170.98 L222.02,170.97 L222.7,170.96 L223.38,170.95 L224.06,170.93 L224.74,170.9 L225.42,170.87 L226.1,170.83 L226.78,170.78 L227.46,170.72 L228.15,170.65 L228.83,170.56 L229.51,170.46 L230.19,170.34 L230.87,170.19 L231.55,170.03 L232.23,169.85 L232.91,169.64 L233.59,169.41 L234.27,169.17 L234.95,168.9 L235.63,168.63 L236.32,168.34 L237,168.05 L237.68,167.76 L238.36,167.48 L239.04,167.21 L239.72,166.96 L240.4,166.73 L241.08,166.54 L241.76,166.39 L242.44,166.28 L243.12,166.22 L243.8,166.2 L244.48,166.23 L245.17,166.31 L245.85,166.43 L246.53,166.6 L247.21,166.8 L247.89,167.03 L248.57,167.29 L249.25,167.56 L249.93,167.85 L250.61,168.14 L251.29,168.43 L251.97,168.71 L252.65,168.99 L253.34,169.24 L254.02,169.48 L254.7,169.7 L255.38,169.9 L256.06,170.08 L256.74,170.24 L257.42,170.38 L258.1,170.49 L258.78,170.59 L259.46,170.67 L260.14,170.74 L260.82,170.8 L261.51,170.85 L262.19,170.88 L262.87,170.91 L263.55,170.93 L264.23,170.95 L264.91,170.96 L265.59,170.97 L266.27,170.98 L266.95,170.99 L267.63,170.99 L268.31,170.99 L268.99,171 L269.68,171 L270.36,171 L271.04,171 L271.72,171 L272.4,171 L273.08,171 L273.76,171 L274.44,171 L275.12,171 L275.8,171 L276.48,171 L277.16,171 L277.85,171 L278.53,171 L279.21,171 L279.89,171 L280.57,171 L281.25,171 L281.93,171 L282.61,171 L283.29,171 L283.97,171 L284.65,171 L285.33,171 L286.02,171 L286.7,171 L287.38,171 L288.06,171 L288.74,171 L289.42,171 L290.1,171 L290.78,171 L291.46,171 L292.14,171 L292.82,171 L293.5,171 L294.18,171 L294.87,171 L295.55,171 L296.23,171 L296.91,171 L297.59,171 L298.27,171 L298.95,171 L299.63,171 L300.31,171 L300.99,171 L301.67,171 L302.35,171 L303.04,171 L303.72,171 L304.4,171 L305.08,171 L305.76,171 L306.44,171 L307.12,171 L307.8,171 L308.48,171 L309.16,171 L309.84,171 L310.52,171 L311.21,171 L311.89,171 L312.57,171 L313.25,171 L313.93,171 L314.61,171 L315.29,171 L315.97,171 L316.65,171 L317.33,171 L318.01,171 L318.69,171 L319.38,171 L320.06,171 L320.74,171 L321.42,171 L322.1,171 L322.78,171 L323.46,171 L324.14,171 L324.82,171 L325.5,171 L326.18,171 L326.86,171 L327.55,171 L328.23,171 L328.91,171 L329.59,171 L330.27,171 L330.95,171 L331.63,171 L332.31,171 L332.99,171 L333.67,171 L334.35,171 L335.03,171 L335.72,171 L336.4,171 L337.08,171 L337.76,171 L338.44,171 L339.12,171 L339.8,171 L339.8,171 L190.7,171 Z" fill="#808080" stroke="none"/>
<path d="M190.7,171 L191.38,171 L192.06,171 L192.74,171 L193.42,171 L194.1,171 L194.78,171 L195.47,171 L196.15,171 L196.83,171 L197.51,171 L198.19,171 L198.87,171 L199.55,171 L200.23,171 L200.91,171 L201.59,171 L202.27,171 L202.95,171 L203.64,171 L204.32,171 L205,171 L205.68,171 L206.36,171 L207.04,171 L207.72,171 L208.4,171 L209.08,171 L209.76,171 L210.44,171 L211.12,171 L211.81,171 L212.49,171 L213.17,171 L213.85,171 L214.53,171 L215.21,171 L215.89,171 L216.57,171 L217.25,171 L217.93,171 L218.61,170.99 L219.29,170.99 L219.98,170.99 L220.66,170.98 L221.34,170.98 L222.02,170.97 L222.7,170.96 L223.38,170.95 L224.06,170.93 L224.74,170.9 L225.42,170.87 L226.1,170.83 L226.78,170.78 L227.46,170.72 L228.15,170.65 L228.83,170.56 L229.51,170.46 L230.19,170.34 L230.87,170.19 L231.55,170.03 L232.23,169.85 L232.91,169.64 L233.59,169.41 L234.27,169.17 L234.95,168.9 L235.63,168.63 L236.32,168.34 L237,168.05 L237.68,167.76 L238.36,167.48 L239.04,167.21 L239.72,166.96 L240.4,166.73 L241.08,166.54 L241.76,166.39 L242.44,166.28 L243.12,166.22 L243.8,166.2 L244.48,166.23 L245.17,166.31 L245.85,166.43 L246.53,166.6 L247.21,166.8 L247.89,167.03 L248.57,167.29 L249.25,167.56 L249.93,167.85 L250.61,168.14 L251.29,168.43 L251.97,168.71 L252.65,168.99 L253.34,169.24 L254.02,169.48 L254.7,169.7 L255.38,169.9 L256.06,170.08 L256.74,170.24 L257.42,170.38 L258.1,170.49 L258.78,170.59 L259.46,170.67 L260.14,170.74 L260.82,170.8 L261.51,170.85 L262.19,170.88 L262.87,170.91 L263.55,170.93 L264.23,170.95 L264.91,170.96 L265.59,170.97 L266.27,170.98 L266.95,170.99 L267.63,170.99 L268.31,170.99 L268.99,171 L269.68,171 L270.36,171 L271.04,171 L271.72,171 L272.4,171 L273.08,171 L273.76,171 L274.44,171 L275.12,171 L275.8,171 L276.48,171 L277.16,171 L277.85,171 L278.53,171 L279.21,171 L279.89,171 L280.57,171 L281.25,171 L281.93,171 L282.61,171 L283.29,171 L283.97,171 L284.65,171 L285.33,171 L286.02,171 L286.7,171 L287.38,171 L288.06,171 L288.74,171 L289.42,171 L290.1,171 L290.78,171 L291.46,171 L292.14,171 L292.82,171 L293.5,171 L294.18,171 L294.87,171 L295.55,171 L296.23,171 L296.91,171 L297.59,171 L298.27,171 L298.95,171 L299.63,171 L300.31,171 L300.99,171 L301.67,171 L302.35,171 L303.04,171 L303.72,171 L304.4,171 L305.08,171 L305.76,171 L306.44,171 L307.12,171 L307.8,171 L308.48,171 L309.16,171 L309.84,171 L310.52,171 L311.21,171 L311.89,171 L312.57,171 L313.25,171 L313.93,171 L314.61,171 L315.29,171 L315.97,171 L316.65,171 L317.33,171 L318.01,171 L318.69,171 L319.38,171 L320.06,171 L320.74,171 L321.42,171 L322.1,171 L322.78,171 L323.46,171 L324.14,171 L324.82,171 L325.5,171 L326.18,171 L326.86,171 L327.55,171 L328.23,171 L328.91,171 L329.59,171 L330.27,171 L330.95,171 L331.63,171 L332.31,171 L332.99,171 L333.67,171 L334.35,171 L335.03,171 L335.72,171 L336.4,171 L337.08,171 L337.76,171 L338.44,171 L339.12,171 L339.8,171" fill="none" stroke="#000" stroke-width="1.4"/>
<path d="M190.7,171 L191.38,171 L192.06,171 L192.74,171 L193.42,171 L194.1,171 L194.78,171 L195.47,171 L196.15,171 L196.83,171 L197.51,171 L198.19,171 L198.87,171 L199.55,171 L200.23,171 L200.91,171 L201.59,171 L202.27,171 L202.95,171 L203.64,171 L204.32,171 L205,171 L205.68,171 L206.36,171 L207.04,171 L207.72,171 L208.4,171 L209.08,171 L209.76,171 L210.44,171 L211.12,171 L211.81,171 L212.49,171 L213.17,171 L213.85,171 L214.53,171 L215.21,171 L215.89,171 L216.57,171 L217.25,171 L217.93,171 L218.61,171 L219.29,171 L219.98,171 L220.66,171 L221.34,171 L222.02,171 L222.7,171 L223.38,171 L224.06,171 L224.74,171 L225.42,171 L226.1,171 L226.78,171 L227.46,171 L228.15,171 L228.83,171 L229.51,171 L230.19,171 L230.87,171 L231.55,171 L232.23,171 L232.91,171 L233.59,171 L234.27,171 L234.95,171 L235.63,171 L236.32,171 L237,170.99 L237.68,170.99 L238.36,170.98 L239.04,170.97 L239.72,170.96 L240.4,170.94 L241.08,170.91 L241.76,170.87 L242.44,170.82 L243.12,170.74 L243.8,170.64 L244.48,170.51 L245.17,170.34 L245.85,170.12 L246.53,169.86 L247.21,169.53 L247.89,169.13 L248.57,168.66 L249.25,168.12 L249.93,167.51 L250.61,166.84 L251.29,166.11 L251.97,165.34 L252.65,164.54 L253.34,163.74 L254.02,162.97 L254.7,162.25 L255.38,161.61 L256.06,161.08 L256.74,160.67 L257.42,160.41 L258.1,160.3 L258.78,160.36 L259.46,160.58 L260.14,160.94 L260.82,161.44 L261.51,162.06 L262.19,162.76 L262.87,163.52 L263.55,164.31 L264.23,165.11 L264.91,165.89 L265.59,166.63 L266.27,167.33 L266.95,167.95 L267.63,168.51 L268.31,169 L268.99,169.42 L269.68,169.77 L270.36,170.05 L271.04,170.28 L271.72,170.47 L272.4,170.61 L273.08,170.72 L273.76,170.8 L274.44,170.86 L275.12,170.9 L275.8,170.93 L276.48,170.96 L277.16,170.97 L277.85,170.98 L278.53,170.99 L279.21,170.99 L279.89,171 L280.57,171 L281.25,171 L281.93,171 L282.61,171 L283.29,171 L283.97,171 L284.65,171 L285.33,171 L286.02,171 L286.7,171 L287.38,171 L288.06,171 L288.74,171 L289.42,171 L290.1,171 L290.78,171 L291.46,171 L292.14,171 L292.82,171 L293.5,171 L294.18,171 L294.87,171 L295.55,171 L296.23,171 L296.91,171 L297.59,171 L298.27,171 L298.95,171 L299.63,171 L300.31,171 L300.99,171 L301.67,171 L302.35,171 L303.04,171 L303.72,171 L304.4,171 L305.08,171 L305.76,171 L306.44,171 L307.12,171 L307.8,171 L308.48,171 L309.16,171 L309.84,171 L310.52,171 L311.21,171 L311.89,171 L312.57,171 L313.25,171 L313.93,171 L314.61,171 L315.29,171 L315.97,171 L316.65,171 L317.33,171 L318.01,171 L318.69,171 L319.38,171 L320.06,171 L320.74,171 L321.42,171 L322.1,171 L322.78,171 L323.46,171 L324.14,171 L324.82,171 L325.5,171 L326.18,171 L326.86,171 L327.55,171 L328.23,171 L328.91,171 L329.59,171 L330.27,171 L330.95,171 L331.63,171 L332.31,171 L332.99,171 L333.67,171 L334.35,171 L335.03,171 L335.72,171 L336.4,171 L337.08,171 L337.76,171 L338.44,171 L339.12,171 L339.8,171 L339.8,171 L190.7,171 Z" fill="#ff8000" stroke="none"/>
<path d="M190.7,171 L191.38,171 L192.06,171 L192.74,171 L193.42,171 L194.1,171 L194.78,171 L195.47,171 L196.15,171 L196.83,171 L197.51,171 L198.19,171 L198.87,171 L199.55,171 L200.23,171 L200.91,171 L201.59,171 L202.27,171 L202.95,171 L203.64,171 L204.32,171 L205,171 L205.68,171 L206.36,171 L207.04,171 L207.72,171 L208.4,171 L209.08,171 L209.76,171 L210.44,171 L211.12,171 L211.81,171 L212.49,171 L213.17,171 L213.85,171 L214.53,171 L215.21,171 L215.89,171 L216.57,171 L217.25,171 L217.93,171 L218.61,171 L219.29,171 L219.98,171 L220.66,171 L221.34,171 L222.02,171 L222.7,171 L223.38,171 L224.06,171 L224.74,171 L225.42,171 L226.1,171 L226.78,171 L227.46,171 L228.15,171 L228.83,171 L229.51,171 L230.19,171 L230.87,171 L231.55,171 L232.23,171 L232.91,171 L233.59,171 L234.27,171 L234.95,171 L235.63,171 L236.32,171 L237,170.99 L237.68,170.99 L238.36,170.98 L239.04,170.97 L239.72,170.96 L240.4,170.94 L241.08,170.91 L241.76,170.87 L242.44,170.82 L243.12,170.74 L243.8,170.64 L244.48,170.51 L245.17,170.34 L245.85,170.12 L246.53,169.86 L247.21,169.53 L247.89,169.13 L248.57,168.66 L249.25,168.12 L249.93,167.51 L250.61,166.84 L251.29,166.11 L251.97,165.34 L252.65,164.54 L253.34,163.74 L254.02,162.97 L254.7,162.25 L255.38,161.61 L256.06,161.08 L256.74,160.67 L257.42,160.41 L258.1,160.3 L258.78,160.36 L259.46,160.58 L260.14,160.94 L260.82,161.44 L261.51,162.06 L262.19,162.76 L262.87,163.52 L263.55,164.31 L264.23,165.11 L264.91,165.89 L265.59,166.63 L266.27,167.33 L266.95,167.95 L267.63,168.51 L268.31,169 L268.99,169.42 L269.68,169.77 L270.36,170.05 L271.04,170.28 L271.72,170.47 L272.4,170.61 L273.08,170.72 L273.76,170.8 L274.44,170.86 L275.12,170.9 L275.8,170.93 L276.48,170.96 L277.16,170.97 L277.85,170.98 L278.53,170.99 L279.21,170.99 L279.89,171 L280.57,171 L281.25,171 L281.93,171 L282.61,171 L283.29,171 L283.97,171 L284.65,171 L285.33,171 L286.02,171 L286.7,171 L287.38,171 L288.06,171 L288.74,171 L289.42,171 L290.1,171 L290.78,171 L291.46,171 L292.14,171 L292.82,171 L293.5,171 L294.18,171 L294.87,171 L295.55,171 L296.23,171 L296.91,171 L297.59,171 L298.27,171 L298.95,171 L299.63,171 L300.31,171 L300.99,171 L301.67,171 L302.35,171 L303.04,171 L303.72,171 L304.4,171 L305.08,171 L305.76,171 L306.44,171 L307.12,171 L307.8,171 L308.48,171 L309.16,171 L309.84,171 L310.52,171 L311.21,171 L311.89,171 L312.57,171 L313.25,171 L313.93,171 L314.61,171 L315.29,171 L315.97,171 L316.65,171 L317.33,171 L318.01,171 L318.69,171 L319.38,171 L320.06,171 L320.74,171 L321.42,171 L322.1,171 L322.78,171 L323.46,171 L324.14,171 L324.82,171 L325.5,171 L326.18,171 L326.86,171 L327.55,171 L328.23,171 L328.91,171 L329.59,171 L330.27,171 L330.95,171 L331.63,171 L332.31,171 L332.99,171 L333.67,171 L334.35,171 L335.03,171 L335.72,171 L336.4,171 L337.08,171 L337.76,171 L338.44,171 L339.12,171 L339.8,171" fill="none" stroke="#000" stroke-width="1.4"/>
<path d="M190.7,170.85 L191.38,170.85 L192.06,170.85 L192.74,170.84 L193.42,170.84 L194.1,170.84 L194.78,170.84 L195.47,170.83 L196.15,170.83 L196.83,170.83 L197.51,170.83 L198.19,170.82 L198.87,170.82 L199.55,170.82 L200.23,170.81 L200.91,170.81 L201.59,170.81 L202.27,170.8 L202.95,170.8 L203.64,170.79 L204.32,170.79 L205,170.79 L205.68,170.78 L206.36,170.78 L207.04,170.77 L207.72,170.77 L208.4,170.77 L209.08,170.76 L209.76,170.76 L210.44,170.75 L211.12,170.75 L211.81,170.74 L212.49,170.74 L213.17,170.73 L213.85,170.72 L214.53,170.72 L215.21,170.71 L215.89,170.71 L216.57,170.7 L217.25,170.69 L217.93,170.68 L218.61,170.68 L219.29,170.67 L219.98,170.66 L220.66,170.65 L221.34,170.65 L222.02,170.64 L222.7,170.63 L223.38,170.62 L224.06,170.61 L224.74,170.6 L225.42,170.59 L226.1,170.58 L226.78,170.57 L227.46,170.55 L228.15,170.54 L228.83,170.53 L229.51,170.51 L230.19,170.5 L230.87,170.49 L231.55,170.47 L232.23,170.46 L232.91,170.44 L233.59,170.42 L234.27,170.4 L234.95,170.38 L235.63,170.36 L236.32,170.34 L237,170.32 L237.68,170.3 L238.36,170.27 L239.04,170.25 L239.72,170.22 L240.4,170.19 L241.08,170.16 L241.76,170.13 L242.44,170.1 L243.12,170.06 L243.8,170.02 L244.48,169.98 L245.17,169.94 L245.85,169.9 L246.53,169.85 L247.21,169.8 L247.89,169.75 L248.57,169.69 L249.25,169.62 L249.93,169.56 L250.61,169.49 L251.29,169.41 L251.97,169.32 L252.65,169.23 L253.34,169.13 L254.02,169.02 L254.7,168.89 L255.38,168.74 L256.06,168.58 L256.74,168.38 L257.42,168.15 L258.1,167.88 L258.78,167.54 L259.46,167.13 L260.14,166.63 L260.82,166.02 L261.51,165.26 L262.19,164.33 L262.87,163.2 L263.55,161.82 L264.23,160.17 L264.91,158.2 L265.59,155.88 L266.27,153.19 L266.95,150.1 L267.63,146.6 L268.31,142.7 L268.99,138.41 L269.68,133.79 L270.36,128.89 L271.04,123.79 L271.72,118.61 L272.4,113.48 L273.08,108.56 L273.76,104.02 L274.44,100.06 L275.12,96.88 L275.8,94.66 L276.48,93.53 L277.16,93.57 L277.85,94.78 L278.53,97.08 L279.21,100.32 L279.89,104.32 L280.57,108.89 L281.25,113.84 L281.93,118.98 L282.61,124.16 L283.29,129.24 L283.97,134.13 L284.65,138.73 L285.33,142.99 L286.02,146.86 L286.7,150.33 L287.38,153.39 L288.06,156.06 L288.74,158.35 L289.42,160.3 L290.1,161.93 L290.78,163.28 L291.46,164.4 L292.14,165.32 L292.82,166.07 L293.5,166.67 L294.18,167.17 L294.87,167.57 L295.55,167.9 L296.23,168.17 L296.91,168.4 L297.59,168.59 L298.27,168.75 L298.95,168.9 L299.63,169.02 L300.31,169.14 L300.99,169.24 L301.67,169.33 L302.35,169.41 L303.04,169.49 L303.72,169.56 L304.4,169.63 L305.08,169.69 L305.76,169.75 L306.44,169.8 L307.12,169.85 L307.8,169.9 L308.48,169.95 L309.16,169.99 L309.84,170.03 L310.52,170.06 L311.21,170.1 L311.89,170.13 L312.57,170.16 L313.25,170.19 L313.93,170.22 L314.61,170.25 L315.29,170.28 L315.97,170.3 L316.65,170.32 L317.33,170.34 L318.01,170.37 L318.69,170.39 L319.38,170.4 L320.06,170.42 L320.74,170.44 L321.42,170.46 L322.1,170.47 L322.78,170.49 L323.46,170.5 L324.14,170.52 L324.82,170.53 L325.5,170.54 L326.18,170.55 L326.86,170.57 L327.55,170.58 L328.23,170.59 L328.91,170.6 L329.59,170.61 L330.27,170.62 L330.95,170.63 L331.63,170.64 L332.31,170.65 L332.99,170.65 L333.67,170.66 L334.35,170.67 L335.03,170.68 L335.72,170.68 L336.4,170.69 L337.08,170.7 L337.76,170.71 L338.44,170.71 L339.12,170.72 L339.8,170.72" fill="none" stroke="#000" stroke-width="1.4"/>
<path d="M190.7,156.05 L191.38,156.05 L192.06,156.05 L192.74,156.05 L193.42,156.04 L194.1,156.04 L194.78,156.04 L195.47,156.04 L196.15,156.03 L196.83,156.03 L197.51,156.03 L198.19,156.02 L198.87,156.02 L199.55,156.02 L200.23,156.02 L200.91,156.01 L201.59,156.01 L202.27,156.01 L202.95,156 L203.64,156 L204.32,155.99 L205,155.99 L205.68,155.99 L206.36,155.98 L207.04,155.98 L207.72,155.97 L208.4,155.97 L209.08,155.96 L209.76,155.96 L210.44,155.95 L211.12,155.95 L211.81,155.94 L212.49,155.94 L213.17,155.93 L213.85,155.93 L214.53,155.92 L215.21,155.91 L215.89,155.9 L216.57,155.89 L217.25,155.88 L217.93,155.87 L218.61,155.86 L219.29,155.85 L219.98,155.83 L220.66,155.81 L221.34,155.78 L222.02,155.76 L222.7,155.72 L223.38,155.68 L224.06,155.64 L224.74,155.58 L225.42,155.52 L226.1,155.45 L226.78,155.36 L227.46,155.26 L228.15,155.15 L228.83,155.02 L229.51,154.88 L230.19,154.71 L230.87,154.54 L231.55,154.34 L232.23,154.13 L232.91,153.9 L233.59,153.65 L234.27,153.39 L234.95,153.12 L235.63,152.84 L236.32,152.55 L237,152.25 L237.68,151.96 L238.36,151.66 L239.04,151.36 L239.72,151.07 L240.4,150.78 L241.08,150.49 L241.76,150.22 L242.44,149.94 L243.12,149.67 L243.8,149.41 L244.48,149.14 L245.17,148.87 L245.85,148.59 L246.53,148.3 L247.21,148 L247.89,147.68 L248.57,147.34 L249.25,146.98 L249.93,146.6 L250.61,146.2 L251.29,145.78 L251.97,145.34 L252.65,144.9 L253.34,144.45 L254.02,144 L254.7,143.56 L255.38,143.12 L256.06,142.71 L256.74,142.32 L257.42,141.94 L258.1,141.58 L258.78,141.24 L259.46,140.89 L260.14,140.52 L260.82,140.12 L261.51,139.65 L262.19,139.08 L262.87,138.36 L263.55,137.47 L264.23,136.35 L264.91,134.96 L265.59,133.26 L266.27,131.21 L266.95,128.77 L267.63,125.93 L268.31,122.69 L268.99,119.06 L269.68,115.07 L270.36,110.77 L271.04,106.26 L271.72,101.62 L272.4,96.99 L273.08,92.53 L273.76,88.41 L274.44,84.82 L275.12,81.96 L275.8,80 L276.48,79.09 L277.16,79.3 L277.85,80.64 L278.53,83.02 L279.21,86.31 L279.89,90.33 L280.57,94.89 L281.25,99.8 L281.93,104.9 L282.61,110.03 L283.29,115.05 L283.97,119.88 L284.65,124.42 L285.33,128.62 L286.02,132.44 L286.7,135.86 L287.38,138.87 L288.06,141.5 L288.74,143.75 L289.42,145.67 L290.1,147.28 L290.78,148.61 L291.46,149.71 L292.14,150.61 L292.82,151.35 L293.5,151.94 L294.18,152.43 L294.87,152.82 L295.55,153.15 L296.23,153.42 L296.91,153.64 L297.59,153.83 L298.27,153.99 L298.95,154.13 L299.63,154.26 L300.31,154.37 L300.99,154.47 L301.67,154.56 L302.35,154.64 L303.04,154.72 L303.72,154.79 L304.4,154.85 L305.08,154.91 L305.76,154.97 L306.44,155.02 L307.12,155.07 L307.8,155.12 L308.48,155.16 L309.16,155.2 L309.84,155.24 L310.52,155.28 L311.21,155.31 L311.89,155.35 L312.57,155.38 L313.25,155.41 L313.93,155.44 L314.61,155.46 L315.29,155.49 L315.97,155.51 L316.65,155.53 L317.33,155.56 L318.01,155.58 L318.69,155.6 L319.38,155.61 L320.06,155.63 L320.74,155.65 L321.42,155.67 L322.1,155.68 L322.78,155.7 L323.46,155.71 L324.14,155.72 L324.82,155.74 L325.5,155.75 L326.18,155.76 L326.86,155.77 L327.55,155.78 L328.23,155.8 L328.91,155.81 L329.59,155.82 L330.27,155.83 L330.95,155.83 L331.63,155.84 L332.31,155.85 L332.99,155.86 L333.67,155.87 L334.35,155.88 L335.03,155.88 L335.72,155.89 L336.4,155.9 L337.08,155.9 L337.76,155.91 L338.44,155.92 L339.12,155.92 L339.8,155.93" fill="none" stroke="#008000" stroke-width="1.3" stroke-linejoin="round"/>
<path d="M191.1,156.05h0M191.95,156.05h0M192.8,156.05h0M193.65,156.04h0M194.5,156.04h0M195.35,156.04h0M196.2,156.03h0M197.05,156.03h0M197.9,156.03h0M198.75,156.02h0M199.6,156.02h0M200.45,156.01h0M201.3,156.01h0M202.15,156.01h0M203,156h0M203.85,156h0M204.7,155.99h0M205.55,155.99h0M206.4,155.98h0M207.25,155.98h0M208.1,155.97h0M208.95,155.97h0M209.8,155.96h0M210.65,155.95h0M211.5,155.95h0M212.35,155.94h0M213.2,155.93h0M214.05,155.92h0M214.9,155.91h0M215.75,155.91h0M216.6,155.89h0M217.45,155.88h0M218.3,155.87h0M219.15,155.85h0M220,155.83h0M220.85,155.8h0M221.7,155.77h0M222.55,155.73h0M223.4,155.68h0M224.25,155.62h0M225.1,155.55h0M225.95,155.46h0M226.8,155.36h0M227.65,155.23h0M228.5,155.08h0M229.35,154.91h0M230.2,154.71h0M231.05,154.48h0M231.9,154.23h0M232.75,153.95h0M233.6,153.65h0M234.45,153.32h0M235.3,152.98h0M236.15,152.62h0M237,152.25h0M237.85,151.88h0M238.7,151.51h0M239.55,151.14h0M240.4,150.78h0M241.25,150.42h0M242.1,150.08h0M242.95,149.74h0M243.8,149.41h0M244.65,149.08h0M245.5,148.73h0M246.35,148.38h0M247.2,148h0M248.05,147.6h0M248.9,147.17h0M249.75,146.7h0M250.6,146.2h0M251.45,145.68h0M252.3,145.13h0M253.15,144.57h0M254,144.01h0M254.85,143.46h0M255.7,142.93h0M256.55,142.43h0M257.4,141.95h0M258.25,141.51h0M259.1,141.08h0M259.95,140.63h0M260.8,140.13h0M261.65,139.53h0M262.5,138.75h0M263.35,137.73h0M264.2,136.4h0M265.05,134.61h0M265.9,132.33h0M266.75,129.49h0M267.6,126.07h0M268.45,121.96h0M269.3,117.27h0M270.15,112.07h0M271,106.5h0M271.85,100.72h0M272.7,95.02h0M273.55,89.68h0M274.4,85.04h0M275.25,81.59h0M276.1,79.61h0M276.95,79.24h0M277.8,80.55h0M278.65,83.62h0M279.5,88.04h0M280.35,93.42h0M281.2,99.45h0M282.05,105.8h0M282.9,112.16h0M283.75,118.3h0M284.6,124.06h0M285.45,129.27h0M286.3,133.87h0M287.15,137.87h0M288,141.28h0M288.85,144.07h0M289.7,146.33h0M290.55,148.16h0M291.4,149.61h0M292.25,150.73h0M293.1,151.59h0M293.95,152.26h0M294.8,152.79h0M295.65,153.19h0M296.5,153.51h0M297.35,153.76h0M298.2,153.98h0M299.05,154.15h0M299.9,154.3h0M300.75,154.43h0M301.6,154.55h0M302.45,154.65h0M303.3,154.74h0M304.15,154.83h0M305,154.91h0M305.85,154.98h0M306.7,155.04h0M307.55,155.1h0M308.4,155.16h0M309.25,155.21h0M310.1,155.26h0M310.95,155.3h0M311.8,155.34h0M312.65,155.38h0M313.5,155.42h0M314.35,155.45h0M315.2,155.48h0M316.05,155.51h0M316.9,155.54h0M317.75,155.57h0M318.6,155.59h0M319.45,155.62h0M320.3,155.64h0M321.15,155.66h0M322,155.68h0M322.85,155.7h0M323.7,155.71h0M324.55,155.73h0M325.4,155.75h0M326.25,155.76h0M327.1,155.78h0M327.95,155.79h0M328.8,155.8h0M329.65,155.82h0M330.5,155.83h0M331.35,155.84h0M332.2,155.85h0M333.05,155.86h0M333.9,155.87h0M334.75,155.88h0M335.6,155.89h0M336.45,155.9h0M337.3,155.91h0M338.15,155.91h0M339,155.92h0" fill="none" stroke="#008000" stroke-width="2.8" stroke-linecap="round"/>
<line x1="189.9" y1="265.3" x2="340.6" y2="265.3" stroke="#000" stroke-width="1.5"/>
<path d="M190.7,278.14 L191.38,278.14 L192.06,278.14 L192.74,278.14 L193.42,278.14 L194.1,278.13 L194.78,278.13 L195.47,278.13 L196.15,278.13 L196.83,278.13 L197.51,278.12 L198.19,278.12 L198.87,278.12 L199.55,278.12 L200.23,278.11 L200.91,278.11 L201.59,278.11 L202.27,278.11 L202.95,278.1 L203.64,278.1 L204.32,278.1 L205,278.09 L205.68,278.09 L206.36,278.08 L207.04,278.08 L207.72,278.08 L208.4,278.07 L209.08,278.07 L209.76,278.06 L210.44,278.06 L211.12,278.05 L211.81,278.04 L212.49,278.04 L213.17,278.03 L213.85,278.02 L214.53,278.02 L215.21,278.01 L215.89,278 L216.57,277.99 L217.25,277.98 L217.93,277.96 L218.61,277.95 L219.29,277.93 L219.98,277.91 L220.66,277.89 L221.34,277.86 L222.02,277.83 L222.7,277.79 L223.38,277.74 L224.06,277.68 L224.74,277.6 L225.42,277.5 L226.1,277.37 L226.78,277.22 L227.46,277.02 L228.15,276.79 L228.83,276.5 L229.51,276.15 L230.19,275.73 L230.87,275.23 L231.55,274.65 L232.23,273.98 L232.91,273.22 L233.59,272.37 L234.27,271.42 L234.95,270.39 L235.63,269.27 L236.32,268.1 L237,266.88 L237.68,265.63 L238.36,264.39 L239.04,263.18 L239.72,262.04 L240.4,261 L241.08,260.09 L241.76,259.35 L242.44,258.81 L243.12,258.49 L243.8,258.4 L244.48,258.56 L245.17,258.95 L245.85,259.55 L246.53,260.35 L247.21,261.3 L247.89,262.38 L248.57,263.55 L249.25,264.77 L249.93,266.01 L250.61,267.25 L251.29,268.46 L251.97,269.62 L252.65,270.71 L253.34,271.72 L254.02,272.64 L254.7,273.47 L255.38,274.2 L256.06,274.84 L256.74,275.39 L257.42,275.86 L258.1,276.26 L258.78,276.59 L259.46,276.86 L260.14,277.09 L260.82,277.27 L261.51,277.41 L262.19,277.53 L262.87,277.62 L263.55,277.7 L264.23,277.76 L264.91,277.8 L265.59,277.84 L266.27,277.87 L266.95,277.9 L267.63,277.92 L268.31,277.94 L268.99,277.95 L269.68,277.97 L270.36,277.98 L271.04,277.99 L271.72,278 L272.4,278.01 L273.08,278.02 L273.76,278.03 L274.44,278.03 L275.12,278.04 L275.8,278.05 L276.48,278.05 L277.16,278.06 L277.85,278.06 L278.53,278.07 L279.21,278.07 L279.89,278.08 L280.57,278.08 L281.25,278.09 L281.93,278.09 L282.61,278.09 L283.29,278.1 L283.97,278.1 L284.65,278.1 L285.33,278.11 L286.02,278.11 L286.7,278.11 L287.38,278.11 L288.06,278.12 L288.74,278.12 L289.42,278.12 L290.1,278.12 L290.78,278.13 L291.46,278.13 L292.14,278.13 L292.82,278.13 L293.5,278.13 L294.18,278.14 L294.87,278.14 L295.55,278.14 L296.23,278.14 L296.91,278.14 L297.59,278.14 L298.27,278.14 L298.95,278.15 L299.63,278.15 L300.31,278.15 L300.99,278.15 L301.67,278.15 L302.35,278.15 L303.04,278.15 L303.72,278.15 L304.4,278.16 L305.08,278.16 L305.76,278.16 L306.44,278.16 L307.12,278.16 L307.8,278.16 L308.48,278.16 L309.16,278.16 L309.84,278.16 L310.52,278.16 L311.21,278.16 L311.89,278.16 L312.57,278.17 L313.25,278.17 L313.93,278.17 L314.61,278.17 L315.29,278.17 L315.97,278.17 L316.65,278.17 L317.33,278.17 L318.01,278.17 L318.69,278.17 L319.38,278.17 L320.06,278.17 L320.74,278.17 L321.42,278.17 L322.1,278.17 L322.78,278.17 L323.46,278.17 L324.14,278.17 L324.82,278.17 L325.5,278.18 L326.18,278.18 L326.86,278.18 L327.55,278.18 L328.23,278.18 L328.91,278.18 L329.59,278.18 L330.27,278.18 L330.95,278.18 L331.63,278.18 L332.31,278.18 L332.99,278.18 L333.67,278.18 L334.35,278.18 L335.03,278.18 L335.72,278.18 L336.4,278.18 L337.08,278.18 L337.76,278.18 L338.44,278.18 L339.12,278.18 L339.8,278.18 L339.8,278.2 L190.7,278.2 Z" fill="#808080" stroke="none"/>
<path d="M190.7,278.14 L191.38,278.14 L192.06,278.14 L192.74,278.14 L193.42,278.14 L194.1,278.13 L194.78,278.13 L195.47,278.13 L196.15,278.13 L196.83,278.13 L197.51,278.12 L198.19,278.12 L198.87,278.12 L199.55,278.12 L200.23,278.11 L200.91,278.11 L201.59,278.11 L202.27,278.11 L202.95,278.1 L203.64,278.1 L204.32,278.1 L205,278.09 L205.68,278.09 L206.36,278.08 L207.04,278.08 L207.72,278.08 L208.4,278.07 L209.08,278.07 L209.76,278.06 L210.44,278.06 L211.12,278.05 L211.81,278.04 L212.49,278.04 L213.17,278.03 L213.85,278.02 L214.53,278.02 L215.21,278.01 L215.89,278 L216.57,277.99 L217.25,277.98 L217.93,277.96 L218.61,277.95 L219.29,277.93 L219.98,277.91 L220.66,277.89 L221.34,277.86 L222.02,277.83 L222.7,277.79 L223.38,277.74 L224.06,277.68 L224.74,277.6 L225.42,277.5 L226.1,277.37 L226.78,277.22 L227.46,277.02 L228.15,276.79 L228.83,276.5 L229.51,276.15 L230.19,275.73 L230.87,275.23 L231.55,274.65 L232.23,273.98 L232.91,273.22 L233.59,272.37 L234.27,271.42 L234.95,270.39 L235.63,269.27 L236.32,268.1 L237,266.88 L237.68,265.63 L238.36,264.39 L239.04,263.18 L239.72,262.04 L240.4,261 L241.08,260.09 L241.76,259.35 L242.44,258.81 L243.12,258.49 L243.8,258.4 L244.48,258.56 L245.17,258.95 L245.85,259.55 L246.53,260.35 L247.21,261.3 L247.89,262.38 L248.57,263.55 L249.25,264.77 L249.93,266.01 L250.61,267.25 L251.29,268.46 L251.97,269.62 L252.65,270.71 L253.34,271.72 L254.02,272.64 L254.7,273.47 L255.38,274.2 L256.06,274.84 L256.74,275.39 L257.42,275.86 L258.1,276.26 L258.78,276.59 L259.46,276.86 L260.14,277.09 L260.82,277.27 L261.51,277.41 L262.19,277.53 L262.87,277.62 L263.55,277.7 L264.23,277.76 L264.91,277.8 L265.59,277.84 L266.27,277.87 L266.95,277.9 L267.63,277.92 L268.31,277.94 L268.99,277.95 L269.68,277.97 L270.36,277.98 L271.04,277.99 L271.72,278 L272.4,278.01 L273.08,278.02 L273.76,278.03 L274.44,278.03 L275.12,278.04 L275.8,278.05 L276.48,278.05 L277.16,278.06 L277.85,278.06 L278.53,278.07 L279.21,278.07 L279.89,278.08 L280.57,278.08 L281.25,278.09 L281.93,278.09 L282.61,278.09 L283.29,278.1 L283.97,278.1 L284.65,278.1 L285.33,278.11 L286.02,278.11 L286.7,278.11 L287.38,278.11 L288.06,278.12 L288.74,278.12 L289.42,278.12 L290.1,278.12 L290.78,278.13 L291.46,278.13 L292.14,278.13 L292.82,278.13 L293.5,278.13 L294.18,278.14 L294.87,278.14 L295.55,278.14 L296.23,278.14 L296.91,278.14 L297.59,278.14 L298.27,278.14 L298.95,278.15 L299.63,278.15 L300.31,278.15 L300.99,278.15 L301.67,278.15 L302.35,278.15 L303.04,278.15 L303.72,278.15 L304.4,278.16 L305.08,278.16 L305.76,278.16 L306.44,278.16 L307.12,278.16 L307.8,278.16 L308.48,278.16 L309.16,278.16 L309.84,278.16 L310.52,278.16 L311.21,278.16 L311.89,278.16 L312.57,278.17 L313.25,278.17 L313.93,278.17 L314.61,278.17 L315.29,278.17 L315.97,278.17 L316.65,278.17 L317.33,278.17 L318.01,278.17 L318.69,278.17 L319.38,278.17 L320.06,278.17 L320.74,278.17 L321.42,278.17 L322.1,278.17 L322.78,278.17 L323.46,278.17 L324.14,278.17 L324.82,278.17 L325.5,278.18 L326.18,278.18 L326.86,278.18 L327.55,278.18 L328.23,278.18 L328.91,278.18 L329.59,278.18 L330.27,278.18 L330.95,278.18 L331.63,278.18 L332.31,278.18 L332.99,278.18 L333.67,278.18 L334.35,278.18 L335.03,278.18 L335.72,278.18 L336.4,278.18 L337.08,278.18 L337.76,278.18 L338.44,278.18 L339.12,278.18 L339.8,278.18" fill="none" stroke="#000" stroke-width="1.4"/>
<path d="M190.7,278.2 L191.38,278.2 L192.06,278.2 L192.74,278.2 L193.42,278.2 L194.1,278.2 L194.78,278.2 L195.47,278.2 L196.15,278.2 L196.83,278.2 L197.51,278.2 L198.19,278.2 L198.87,278.2 L199.55,278.2 L200.23,278.2 L200.91,278.2 L201.59,278.2 L202.27,278.2 L202.95,278.2 L203.64,278.2 L204.32,278.2 L205,278.2 L205.68,278.2 L206.36,278.2 L207.04,278.2 L207.72,278.2 L208.4,278.2 L209.08,278.2 L209.76,278.2 L210.44,278.2 L211.12,278.2 L211.81,278.2 L212.49,278.2 L213.17,278.2 L213.85,278.2 L214.53,278.2 L215.21,278.2 L215.89,278.2 L216.57,278.2 L217.25,278.2 L217.93,278.2 L218.61,278.2 L219.29,278.2 L219.98,278.2 L220.66,278.2 L221.34,278.2 L222.02,278.2 L222.7,278.2 L223.38,278.2 L224.06,278.2 L224.74,278.2 L225.42,278.2 L226.1,278.2 L226.78,278.2 L227.46,278.2 L228.15,278.2 L228.83,278.2 L229.51,278.2 L230.19,278.2 L230.87,278.2 L231.55,278.2 L232.23,278.2 L232.91,278.2 L233.59,278.2 L234.27,278.2 L234.95,278.2 L235.63,278.2 L236.32,278.2 L237,278.19 L237.68,278.19 L238.36,278.19 L239.04,278.18 L239.72,278.16 L240.4,278.14 L241.08,278.11 L241.76,278.07 L242.44,278 L243.12,277.92 L243.8,277.8 L244.48,277.63 L245.17,277.41 L245.85,277.13 L246.53,276.77 L247.21,276.32 L247.89,275.77 L248.57,275.11 L249.25,274.34 L249.93,273.44 L250.61,272.44 L251.29,271.34 L251.97,270.16 L252.65,268.93 L253.34,267.69 L254.02,266.47 L254.7,265.33 L255.38,264.31 L256.06,263.45 L256.74,262.79 L257.42,262.37 L258.1,262.2 L258.78,262.3 L259.46,262.65 L260.14,263.24 L260.82,264.04 L261.51,265.02 L262.19,266.13 L262.87,267.33 L263.55,268.57 L264.23,269.8 L264.91,271 L265.59,272.13 L266.27,273.16 L266.95,274.09 L267.63,274.9 L268.31,275.59 L268.99,276.18 L269.68,276.65 L270.36,277.04 L271.04,277.34 L271.72,277.57 L272.4,277.75 L273.08,277.89 L273.76,277.98 L274.44,278.05 L275.12,278.1 L275.8,278.13 L276.48,278.16 L277.16,278.17 L277.85,278.18 L278.53,278.19 L279.21,278.19 L279.89,278.2 L280.57,278.2 L281.25,278.2 L281.93,278.2 L282.61,278.2 L283.29,278.2 L283.97,278.2 L284.65,278.2 L285.33,278.2 L286.02,278.2 L286.7,278.2 L287.38,278.2 L288.06,278.2 L288.74,278.2 L289.42,278.2 L290.1,278.2 L290.78,278.2 L291.46,278.2 L292.14,278.2 L292.82,278.2 L293.5,278.2 L294.18,278.2 L294.87,278.2 L295.55,278.2 L296.23,278.2 L296.91,278.2 L297.59,278.2 L298.27,278.2 L298.95,278.2 L299.63,278.2 L300.31,278.2 L300.99,278.2 L301.67,278.2 L302.35,278.2 L303.04,278.2 L303.72,278.2 L304.4,278.2 L305.08,278.2 L305.76,278.2 L306.44,278.2 L307.12,278.2 L307.8,278.2 L308.48,278.2 L309.16,278.2 L309.84,278.2 L310.52,278.2 L311.21,278.2 L311.89,278.2 L312.57,278.2 L313.25,278.2 L313.93,278.2 L314.61,278.2 L315.29,278.2 L315.97,278.2 L316.65,278.2 L317.33,278.2 L318.01,278.2 L318.69,278.2 L319.38,278.2 L320.06,278.2 L320.74,278.2 L321.42,278.2 L322.1,278.2 L322.78,278.2 L323.46,278.2 L324.14,278.2 L324.82,278.2 L325.5,278.2 L326.18,278.2 L326.86,278.2 L327.55,278.2 L328.23,278.2 L328.91,278.2 L329.59,278.2 L330.27,278.2 L330.95,278.2 L331.63,278.2 L332.31,278.2 L332.99,278.2 L333.67,278.2 L334.35,278.2 L335.03,278.2 L335.72,278.2 L336.4,278.2 L337.08,278.2 L337.76,278.2 L338.44,278.2 L339.12,278.2 L339.8,278.2 L339.8,278.2 L190.7,278.2 Z" fill="#ff8000" stroke="none"/>
<path d="M190.7,278.2 L191.38,278.2 L192.06,278.2 L192.74,278.2 L193.42,278.2 L194.1,278.2 L194.78,278.2 L195.47,278.2 L196.15,278.2 L196.83,278.2 L197.51,278.2 L198.19,278.2 L198.87,278.2 L199.55,278.2 L200.23,278.2 L200.91,278.2 L201.59,278.2 L202.27,278.2 L202.95,278.2 L203.64,278.2 L204.32,278.2 L205,278.2 L205.68,278.2 L206.36,278.2 L207.04,278.2 L207.72,278.2 L208.4,278.2 L209.08,278.2 L209.76,278.2 L210.44,278.2 L211.12,278.2 L211.81,278.2 L212.49,278.2 L213.17,278.2 L213.85,278.2 L214.53,278.2 L215.21,278.2 L215.89,278.2 L216.57,278.2 L217.25,278.2 L217.93,278.2 L218.61,278.2 L219.29,278.2 L219.98,278.2 L220.66,278.2 L221.34,278.2 L222.02,278.2 L222.7,278.2 L223.38,278.2 L224.06,278.2 L224.74,278.2 L225.42,278.2 L226.1,278.2 L226.78,278.2 L227.46,278.2 L228.15,278.2 L228.83,278.2 L229.51,278.2 L230.19,278.2 L230.87,278.2 L231.55,278.2 L232.23,278.2 L232.91,278.2 L233.59,278.2 L234.27,278.2 L234.95,278.2 L235.63,278.2 L236.32,278.2 L237,278.19 L237.68,278.19 L238.36,278.19 L239.04,278.18 L239.72,278.16 L240.4,278.14 L241.08,278.11 L241.76,278.07 L242.44,278 L243.12,277.92 L243.8,277.8 L244.48,277.63 L245.17,277.41 L245.85,277.13 L246.53,276.77 L247.21,276.32 L247.89,275.77 L248.57,275.11 L249.25,274.34 L249.93,273.44 L250.61,272.44 L251.29,271.34 L251.97,270.16 L252.65,268.93 L253.34,267.69 L254.02,266.47 L254.7,265.33 L255.38,264.31 L256.06,263.45 L256.74,262.79 L257.42,262.37 L258.1,262.2 L258.78,262.3 L259.46,262.65 L260.14,263.24 L260.82,264.04 L261.51,265.02 L262.19,266.13 L262.87,267.33 L263.55,268.57 L264.23,269.8 L264.91,271 L265.59,272.13 L266.27,273.16 L266.95,274.09 L267.63,274.9 L268.31,275.59 L268.99,276.18 L269.68,276.65 L270.36,277.04 L271.04,277.34 L271.72,277.57 L272.4,277.75 L273.08,277.89 L273.76,277.98 L274.44,278.05 L275.12,278.1 L275.8,278.13 L276.48,278.16 L277.16,278.17 L277.85,278.18 L278.53,278.19 L279.21,278.19 L279.89,278.2 L280.57,278.2 L281.25,278.2 L281.93,278.2 L282.61,278.2 L283.29,278.2 L283.97,278.2 L284.65,278.2 L285.33,278.2 L286.02,278.2 L286.7,278.2 L287.38,278.2 L288.06,278.2 L288.74,278.2 L289.42,278.2 L290.1,278.2 L290.78,278.2 L291.46,278.2 L292.14,278.2 L292.82,278.2 L293.5,278.2 L294.18,278.2 L294.87,278.2 L295.55,278.2 L296.23,278.2 L296.91,278.2 L297.59,278.2 L298.27,278.2 L298.95,278.2 L299.63,278.2 L300.31,278.2 L300.99,278.2 L301.67,278.2 L302.35,278.2 L303.04,278.2 L303.72,278.2 L304.4,278.2 L305.08,278.2 L305.76,278.2 L306.44,278.2 L307.12,278.2 L307.8,278.2 L308.48,278.2 L309.16,278.2 L309.84,278.2 L310.52,278.2 L311.21,278.2 L311.89,278.2 L312.57,278.2 L313.25,278.2 L313.93,278.2 L314.61,278.2 L315.29,278.2 L315.97,278.2 L316.65,278.2 L317.33,278.2 L318.01,278.2 L318.69,278.2 L319.38,278.2 L320.06,278.2 L320.74,278.2 L321.42,278.2 L322.1,278.2 L322.78,278.2 L323.46,278.2 L324.14,278.2 L324.82,278.2 L325.5,278.2 L326.18,278.2 L326.86,278.2 L327.55,278.2 L328.23,278.2 L328.91,278.2 L329.59,278.2 L330.27,278.2 L330.95,278.2 L331.63,278.2 L332.31,278.2 L332.99,278.2 L333.67,278.2 L334.35,278.2 L335.03,278.2 L335.72,278.2 L336.4,278.2 L337.08,278.2 L337.76,278.2 L338.44,278.2 L339.12,278.2 L339.8,278.2" fill="none" stroke="#000" stroke-width="1.4"/>
<path d="M190.7,278.05 L191.38,278.05 L192.06,278.05 L192.74,278.05 L193.42,278.04 L194.1,278.04 L194.78,278.04 L195.47,278.04 L196.15,278.03 L196.83,278.03 L197.51,278.03 L198.19,278.02 L198.87,278.02 L199.55,278.02 L200.23,278.01 L200.91,278.01 L201.59,278.01 L202.27,278 L202.95,278 L203.64,278 L204.32,277.99 L205,277.99 L205.68,277.99 L206.36,277.98 L207.04,277.98 L207.72,277.97 L208.4,277.97 L209.08,277.96 L209.76,277.96 L210.44,277.95 L211.12,277.95 L211.81,277.94 L212.49,277.94 L213.17,277.93 L213.85,277.93 L214.53,277.92 L215.21,277.91 L215.89,277.91 L216.57,277.9 L217.25,277.89 L217.93,277.89 L218.61,277.88 L219.29,277.87 L219.98,277.87 L220.66,277.86 L221.34,277.85 L222.02,277.84 L222.7,277.83 L223.38,277.82 L224.06,277.81 L224.74,277.8 L225.42,277.79 L226.1,277.78 L226.78,277.77 L227.46,277.76 L228.15,277.75 L228.83,277.73 L229.51,277.72 L230.19,277.71 L230.87,277.69 L231.55,277.68 L232.23,277.66 L232.91,277.64 L233.59,277.63 L234.27,277.61 L234.95,277.59 L235.63,277.57 L236.32,277.55 L237,277.53 L237.68,277.5 L238.36,277.48 L239.04,277.45 L239.72,277.43 L240.4,277.4 L241.08,277.37 L241.76,277.34 L242.44,277.3 L243.12,277.27 L243.8,277.23 L244.48,277.19 L245.17,277.15 L245.85,277.1 L246.53,277.06 L247.21,277 L247.89,276.95 L248.57,276.89 L249.25,276.83 L249.93,276.76 L250.61,276.69 L251.29,276.61 L251.97,276.53 L252.65,276.43 L253.34,276.33 L254.02,276.21 L254.7,276.08 L255.38,275.94 L256.06,275.76 L256.74,275.56 L257.42,275.32 L258.1,275.04 L258.78,274.69 L259.46,274.26 L260.14,273.74 L260.82,273.1 L261.51,272.31 L262.19,271.34 L262.87,270.16 L263.55,268.73 L264.23,267.02 L264.91,264.98 L265.59,262.6 L266.27,259.84 L266.95,256.68 L267.63,253.12 L268.31,249.17 L268.99,244.86 L269.68,240.22 L270.36,235.34 L271.04,230.29 L271.72,225.2 L272.4,220.19 L273.08,215.45 L273.76,211.13 L274.44,207.45 L275.12,204.58 L275.8,202.69 L276.48,201.92 L277.16,202.3 L277.85,203.81 L278.53,206.36 L279.21,209.79 L279.89,213.91 L280.57,218.53 L281.25,223.47 L281.93,228.55 L282.61,233.62 L283.29,238.58 L283.97,243.3 L284.65,247.74 L285.33,251.81 L286.02,255.51 L286.7,258.8 L287.38,261.7 L288.06,264.21 L288.74,266.36 L289.42,268.18 L290.1,269.7 L290.78,270.96 L291.46,272 L292.14,272.85 L292.82,273.54 L293.5,274.1 L294.18,274.55 L294.87,274.93 L295.55,275.23 L296.23,275.49 L296.91,275.7 L297.59,275.88 L298.27,276.04 L298.95,276.17 L299.63,276.29 L300.31,276.4 L300.99,276.49 L301.67,276.58 L302.35,276.66 L303.04,276.74 L303.72,276.81 L304.4,276.87 L305.08,276.93 L305.76,276.99 L306.44,277.04 L307.12,277.09 L307.8,277.13 L308.48,277.18 L309.16,277.22 L309.84,277.25 L310.52,277.29 L311.21,277.32 L311.89,277.36 L312.57,277.39 L313.25,277.42 L313.93,277.44 L314.61,277.47 L315.29,277.49 L315.97,277.52 L316.65,277.54 L317.33,277.56 L318.01,277.58 L318.69,277.6 L319.38,277.62 L320.06,277.64 L320.74,277.65 L321.42,277.67 L322.1,277.69 L322.78,277.7 L323.46,277.71 L324.14,277.73 L324.82,277.74 L325.5,277.75 L326.18,277.77 L326.86,277.78 L327.55,277.79 L328.23,277.8 L328.91,277.81 L329.59,277.82 L330.27,277.83 L330.95,277.84 L331.63,277.85 L332.31,277.85 L332.99,277.86 L333.67,277.87 L334.35,277.88 L335.03,277.89 L335.72,277.89 L336.4,277.9 L337.08,277.91 L337.76,277.91 L338.44,277.92 L339.12,277.92 L339.8,277.93" fill="none" stroke="#000" stroke-width="1.4"/>
<path d="M190.7,263.55 L191.38,263.55 L192.06,263.55 L192.74,263.55 L193.42,263.54 L194.1,263.54 L194.78,263.54 L195.47,263.54 L196.15,263.53 L196.83,263.53 L197.51,263.53 L198.19,263.53 L198.87,263.52 L199.55,263.52 L200.23,263.52 L200.91,263.51 L201.59,263.51 L202.27,263.51 L202.95,263.5 L203.64,263.5 L204.32,263.49 L205,263.49 L205.68,263.49 L206.36,263.48 L207.04,263.48 L207.72,263.47 L208.4,263.47 L209.08,263.47 L209.76,263.46 L210.44,263.46 L211.12,263.45 L211.81,263.45 L212.49,263.44 L213.17,263.43 L213.85,263.43 L214.53,263.42 L215.21,263.42 L215.89,263.41 L216.57,263.4 L217.25,263.39 L217.93,263.38 L218.61,263.37 L219.29,263.36 L219.98,263.34 L220.66,263.32 L221.34,263.3 L222.02,263.27 L222.7,263.23 L223.38,263.18 L224.06,263.12 L224.74,263.04 L225.42,262.93 L226.1,262.8 L226.78,262.64 L227.46,262.44 L228.15,262.19 L228.83,261.88 L229.51,261.51 L230.19,261.07 L230.87,260.55 L231.55,259.94 L232.23,259.25 L232.91,258.46 L233.59,257.57 L234.27,256.59 L234.95,255.53 L235.63,254.39 L236.32,253.19 L237,251.94 L237.68,250.66 L238.36,249.37 L239.04,248.11 L239.72,246.9 L240.4,245.75 L241.08,244.7 L241.76,243.77 L242.44,242.96 L243.12,242.3 L243.8,241.79 L244.48,241.43 L245.17,241.21 L245.85,241.12 L246.53,241.14 L247.21,241.26 L247.89,241.44 L248.57,241.66 L249.25,241.9 L249.93,242.13 L250.61,242.33 L251.29,242.49 L251.97,242.59 L252.65,242.63 L253.34,242.61 L254.02,242.53 L254.7,242.39 L255.38,242.22 L256.06,242.02 L256.74,241.8 L257.42,241.58 L258.1,241.37 L258.78,241.16 L259.46,240.95 L260.14,240.74 L260.82,240.51 L261.51,240.22 L262.19,239.85 L262.87,239.36 L263.55,238.7 L264.23,237.81 L264.91,236.66 L265.59,235.19 L266.27,233.37 L266.95,231.15 L267.63,228.54 L268.31,225.51 L268.99,222.1 L269.68,218.34 L270.36,214.29 L271.04,210.06 L271.72,205.74 L272.4,201.5 L273.08,197.48 L273.76,193.88 L274.44,190.89 L275.12,188.7 L275.8,187.47 L276.48,187.31 L277.16,188.24 L277.85,190.23 L278.53,193.17 L279.21,196.9 L279.89,201.23 L280.57,205.97 L281.25,210.96 L281.93,216.04 L282.61,221.06 L283.29,225.92 L283.97,230.52 L284.65,234.81 L285.33,238.74 L286.02,242.28 L286.7,245.42 L287.38,248.17 L288.06,250.54 L288.74,252.57 L289.42,254.27 L290.1,255.7 L290.78,256.88 L291.46,257.84 L292.14,258.63 L292.82,259.27 L293.5,259.79 L294.18,260.22 L294.87,260.56 L295.55,260.85 L296.23,261.09 L296.91,261.29 L297.59,261.46 L298.27,261.61 L298.95,261.73 L299.63,261.85 L300.31,261.95 L300.99,262.04 L301.67,262.13 L302.35,262.21 L303.04,262.28 L303.72,262.34 L304.4,262.41 L305.08,262.46 L305.76,262.52 L306.44,262.57 L307.12,262.62 L307.8,262.66 L308.48,262.7 L309.16,262.74 L309.84,262.78 L310.52,262.81 L311.21,262.85 L311.89,262.88 L312.57,262.91 L313.25,262.93 L313.93,262.96 L314.61,262.99 L315.29,263.01 L315.97,263.03 L316.65,263.06 L317.33,263.08 L318.01,263.1 L318.69,263.11 L319.38,263.13 L320.06,263.15 L320.74,263.17 L321.42,263.18 L322.1,263.2 L322.78,263.21 L323.46,263.22 L324.14,263.24 L324.82,263.25 L325.5,263.26 L326.18,263.27 L326.86,263.29 L327.55,263.3 L328.23,263.31 L328.91,263.32 L329.59,263.33 L330.27,263.34 L330.95,263.34 L331.63,263.35 L332.31,263.36 L332.99,263.37 L333.67,263.38 L334.35,263.38 L335.03,263.39 L335.72,263.4 L336.4,263.41 L337.08,263.41 L337.76,263.42 L338.44,263.42 L339.12,263.43 L339.8,263.44" fill="none" stroke="#ff0000" stroke-width="1.3" stroke-linejoin="round"/>
<path d="M191.1,263.55h0M191.95,263.55h0M192.8,263.55h0M193.65,263.54h0M194.5,263.54h0M195.35,263.54h0M196.2,263.53h0M197.05,263.53h0M197.9,263.53h0M198.75,263.52h0M199.6,263.52h0M200.45,263.52h0M201.3,263.51h0M202.15,263.51h0M203,263.5h0M203.85,263.5h0M204.7,263.49h0M205.55,263.49h0M206.4,263.48h0M207.25,263.48h0M208.1,263.47h0M208.95,263.47h0M209.8,263.46h0M210.65,263.45h0M211.5,263.45h0M212.35,263.44h0M213.2,263.43h0M214.05,263.43h0M214.9,263.42h0M215.75,263.41h0M216.6,263.4h0M217.45,263.39h0M218.3,263.38h0M219.15,263.36h0M220,263.34h0M220.85,263.32h0M221.7,263.28h0M222.55,263.24h0M223.4,263.18h0M224.25,263.1h0M225.1,262.98h0M225.95,262.83h0M226.8,262.63h0M227.65,262.37h0M228.5,262.03h0M229.35,261.59h0M230.2,261.06h0M231.05,260.39h0M231.9,259.58h0M232.75,258.64h0M233.6,257.56h0M234.45,256.32h0M235.3,254.95h0M236.15,253.48h0M237,251.93h0M237.85,250.33h0M238.7,248.74h0M239.55,247.2h0M240.4,245.75h0M241.25,244.47h0M242.1,243.37h0M242.95,242.47h0M243.8,241.8h0M244.65,241.38h0M245.5,241.17h0M246.35,241.14h0M247.2,241.26h0M248.05,241.49h0M248.9,241.78h0M249.75,242.07h0M250.6,242.33h0M251.45,242.51h0M252.3,242.61h0M253.15,242.62h0M254,242.53h0M254.85,242.35h0M255.7,242.12h0M256.55,241.86h0M257.4,241.59h0M258.25,241.32h0M259.1,241.06h0M259.95,240.8h0M260.8,240.52h0M261.65,240.15h0M262.5,239.63h0M263.35,238.89h0M264.2,237.85h0M265.05,236.36h0M265.9,234.36h0M266.75,231.81h0M267.6,228.66h0M268.45,224.83h0M269.3,220.41h0M270.15,215.52h0M271,210.29h0M271.85,204.92h0M272.7,199.72h0M273.55,194.99h0M274.4,191.07h0M275.25,188.47h0M276.1,187.4h0M276.95,187.95h0M277.8,190.1h0M278.65,193.85h0M279.5,198.76h0M280.35,204.45h0M281.2,210.6h0M282.05,216.92h0M282.9,223.12h0M283.75,229.02h0M284.6,234.48h0M285.45,239.34h0M286.3,243.6h0M287.15,247.25h0M288,250.34h0M288.85,252.85h0M289.7,254.86h0M290.55,256.48h0M291.4,257.75h0M292.25,258.73h0M293.1,259.48h0M293.95,260.07h0M294.8,260.53h0M295.65,260.89h0M296.5,261.17h0M297.35,261.4h0M298.2,261.59h0M299.05,261.75h0M299.9,261.89h0M300.75,262.01h0M301.6,262.12h0M302.45,262.22h0M303.3,262.3h0M304.15,262.38h0M305,262.46h0M305.85,262.52h0M306.7,262.59h0M307.55,262.64h0M308.4,262.7h0M309.25,262.75h0M310.1,262.79h0M310.95,262.83h0M311.8,262.87h0M312.65,262.91h0M313.5,262.94h0M314.35,262.98h0M315.2,263.01h0M316.05,263.04h0M316.9,263.06h0M317.75,263.09h0M318.6,263.11h0M319.45,263.13h0M320.3,263.16h0M321.15,263.18h0M322,263.19h0M322.85,263.21h0M323.7,263.23h0M324.55,263.25h0M325.4,263.26h0M326.25,263.28h0M327.1,263.29h0M327.95,263.3h0M328.8,263.31h0M329.65,263.33h0M330.5,263.34h0M331.35,263.35h0M332.2,263.36h0M333.05,263.37h0M333.9,263.38h0M334.75,263.39h0M335.6,263.4h0M336.45,263.41h0M337.3,263.41h0M338.15,263.42h0M339,263.43h0" fill="none" stroke="#ff0000" stroke-width="2.8" stroke-linecap="round"/>
<line x1="189.9" y1="372.8" x2="340.6" y2="372.8" stroke="#000" stroke-width="1.5"/>
<path d="M190.7,385.3 L191.38,385.3 L192.06,385.3 L192.74,385.3 L193.42,385.3 L194.1,385.3 L194.78,385.3 L195.47,385.3 L196.15,385.3 L196.83,385.3 L197.51,385.3 L198.19,385.3 L198.87,385.3 L199.55,385.3 L200.23,385.3 L200.91,385.3 L201.59,385.3 L202.27,385.3 L202.95,385.3 L203.64,385.3 L204.32,385.3 L205,385.3 L205.68,385.3 L206.36,385.3 L207.04,385.3 L207.72,385.3 L208.4,385.3 L209.08,385.3 L209.76,385.3 L210.44,385.3 L211.12,385.3 L211.81,385.3 L212.49,385.3 L213.17,385.3 L213.85,385.3 L214.53,385.3 L215.21,385.3 L215.89,385.3 L216.57,385.3 L217.25,385.3 L217.93,385.3 L218.61,385.3 L219.29,385.3 L219.98,385.3 L220.66,385.29 L221.34,385.29 L222.02,385.29 L222.7,385.28 L223.38,385.28 L224.06,385.27 L224.74,385.25 L225.42,385.24 L226.1,385.22 L226.78,385.19 L227.46,385.16 L228.15,385.12 L228.83,385.06 L229.51,385 L230.19,384.93 L230.87,384.84 L231.55,384.74 L232.23,384.62 L232.91,384.49 L233.59,384.34 L234.27,384.18 L234.95,384 L235.63,383.82 L236.32,383.63 L237,383.43 L237.68,383.24 L238.36,383.05 L239.04,382.88 L239.72,382.72 L240.4,382.58 L241.08,382.46 L241.76,382.38 L242.44,382.32 L243.12,382.3 L243.8,382.31 L244.48,382.36 L245.17,382.44 L245.85,382.55 L246.53,382.68 L247.21,382.84 L247.89,383.01 L248.57,383.2 L249.25,383.39 L249.93,383.58 L250.61,383.78 L251.29,383.96 L251.97,384.14 L252.65,384.3 L253.34,384.45 L254.02,384.59 L254.7,384.71 L255.38,384.82 L256.06,384.91 L256.74,384.99 L257.42,385.05 L258.1,385.11 L258.78,385.15 L259.46,385.18 L260.14,385.21 L260.82,385.23 L261.51,385.25 L262.19,385.26 L262.87,385.27 L263.55,385.28 L264.23,385.29 L264.91,385.29 L265.59,385.29 L266.27,385.3 L266.95,385.3 L267.63,385.3 L268.31,385.3 L268.99,385.3 L269.68,385.3 L270.36,385.3 L271.04,385.3 L271.72,385.3 L272.4,385.3 L273.08,385.3 L273.76,385.3 L274.44,385.3 L275.12,385.3 L275.8,385.3 L276.48,385.3 L277.16,385.3 L277.85,385.3 L278.53,385.3 L279.21,385.3 L279.89,385.3 L280.57,385.3 L281.25,385.3 L281.93,385.3 L282.61,385.3 L283.29,385.3 L283.97,385.3 L284.65,385.3 L285.33,385.3 L286.02,385.3 L286.7,385.3 L287.38,385.3 L288.06,385.3 L288.74,385.3 L289.42,385.3 L290.1,385.3 L290.78,385.3 L291.46,385.3 L292.14,385.3 L292.82,385.3 L293.5,385.3 L294.18,385.3 L294.87,385.3 L295.55,385.3 L296.23,385.3 L296.91,385.3 L297.59,385.3 L298.27,385.3 L298.95,385.3 L299.63,385.3 L300.31,385.3 L300.99,385.3 L301.67,385.3 L302.35,385.3 L303.04,385.3 L303.72,385.3 L304.4,385.3 L305.08,385.3 L305.76,385.3 L306.44,385.3 L307.12,385.3 L307.8,385.3 L308.48,385.3 L309.16,385.3 L309.84,385.3 L310.52,385.3 L311.21,385.3 L311.89,385.3 L312.57,385.3 L313.25,385.3 L313.93,385.3 L314.61,385.3 L315.29,385.3 L315.97,385.3 L316.65,385.3 L317.33,385.3 L318.01,385.3 L318.69,385.3 L319.38,385.3 L320.06,385.3 L320.74,385.3 L321.42,385.3 L322.1,385.3 L322.78,385.3 L323.46,385.3 L324.14,385.3 L324.82,385.3 L325.5,385.3 L326.18,385.3 L326.86,385.3 L327.55,385.3 L328.23,385.3 L328.91,385.3 L329.59,385.3 L330.27,385.3 L330.95,385.3 L331.63,385.3 L332.31,385.3 L332.99,385.3 L333.67,385.3 L334.35,385.3 L335.03,385.3 L335.72,385.3 L336.4,385.3 L337.08,385.3 L337.76,385.3 L338.44,385.3 L339.12,385.3 L339.8,385.3 L339.8,385.3 L190.7,385.3 Z" fill="#808080" stroke="none"/>
<path d="M190.7,385.3 L191.38,385.3 L192.06,385.3 L192.74,385.3 L193.42,385.3 L194.1,385.3 L194.78,385.3 L195.47,385.3 L196.15,385.3 L196.83,385.3 L197.51,385.3 L198.19,385.3 L198.87,385.3 L199.55,385.3 L200.23,385.3 L200.91,385.3 L201.59,385.3 L202.27,385.3 L202.95,385.3 L203.64,385.3 L204.32,385.3 L205,385.3 L205.68,385.3 L206.36,385.3 L207.04,385.3 L207.72,385.3 L208.4,385.3 L209.08,385.3 L209.76,385.3 L210.44,385.3 L211.12,385.3 L211.81,385.3 L212.49,385.3 L213.17,385.3 L213.85,385.3 L214.53,385.3 L215.21,385.3 L215.89,385.3 L216.57,385.3 L217.25,385.3 L217.93,385.3 L218.61,385.3 L219.29,385.3 L219.98,385.3 L220.66,385.29 L221.34,385.29 L222.02,385.29 L222.7,385.28 L223.38,385.28 L224.06,385.27 L224.74,385.25 L225.42,385.24 L226.1,385.22 L226.78,385.19 L227.46,385.16 L228.15,385.12 L228.83,385.06 L229.51,385 L230.19,384.93 L230.87,384.84 L231.55,384.74 L232.23,384.62 L232.91,384.49 L233.59,384.34 L234.27,384.18 L234.95,384 L235.63,383.82 L236.32,383.63 L237,383.43 L237.68,383.24 L238.36,383.05 L239.04,382.88 L239.72,382.72 L240.4,382.58 L241.08,382.46 L241.76,382.38 L242.44,382.32 L243.12,382.3 L243.8,382.31 L244.48,382.36 L245.17,382.44 L245.85,382.55 L246.53,382.68 L247.21,382.84 L247.89,383.01 L248.57,383.2 L249.25,383.39 L249.93,383.58 L250.61,383.78 L251.29,383.96 L251.97,384.14 L252.65,384.3 L253.34,384.45 L254.02,384.59 L254.7,384.71 L255.38,384.82 L256.06,384.91 L256.74,384.99 L257.42,385.05 L258.1,385.11 L258.78,385.15 L259.46,385.18 L260.14,385.21 L260.82,385.23 L261.51,385.25 L262.19,385.26 L262.87,385.27 L263.55,385.28 L264.23,385.29 L264.91,385.29 L265.59,385.29 L266.27,385.3 L266.95,385.3 L267.63,385.3 L268.31,385.3 L268.99,385.3 L269.68,385.3 L270.36,385.3 L271.04,385.3 L271.72,385.3 L272.4,385.3 L273.08,385.3 L273.76,385.3 L274.44,385.3 L275.12,385.3 L275.8,385.3 L276.48,385.3 L277.16,385.3 L277.85,385.3 L278.53,385.3 L279.21,385.3 L279.89,385.3 L280.57,385.3 L281.25,385.3 L281.93,385.3 L282.61,385.3 L283.29,385.3 L283.97,385.3 L284.65,385.3 L285.33,385.3 L286.02,385.3 L286.7,385.3 L287.38,385.3 L288.06,385.3 L288.74,385.3 L289.42,385.3 L290.1,385.3 L290.78,385.3 L291.46,385.3 L292.14,385.3 L292.82,385.3 L293.5,385.3 L294.18,385.3 L294.87,385.3 L295.55,385.3 L296.23,385.3 L296.91,385.3 L297.59,385.3 L298.27,385.3 L298.95,385.3 L299.63,385.3 L300.31,385.3 L300.99,385.3 L301.67,385.3 L302.35,385.3 L303.04,385.3 L303.72,385.3 L304.4,385.3 L305.08,385.3 L305.76,385.3 L306.44,385.3 L307.12,385.3 L307.8,385.3 L308.48,385.3 L309.16,385.3 L309.84,385.3 L310.52,385.3 L311.21,385.3 L311.89,385.3 L312.57,385.3 L313.25,385.3 L313.93,385.3 L314.61,385.3 L315.29,385.3 L315.97,385.3 L316.65,385.3 L317.33,385.3 L318.01,385.3 L318.69,385.3 L319.38,385.3 L320.06,385.3 L320.74,385.3 L321.42,385.3 L322.1,385.3 L322.78,385.3 L323.46,385.3 L324.14,385.3 L324.82,385.3 L325.5,385.3 L326.18,385.3 L326.86,385.3 L327.55,385.3 L328.23,385.3 L328.91,385.3 L329.59,385.3 L330.27,385.3 L330.95,385.3 L331.63,385.3 L332.31,385.3 L332.99,385.3 L333.67,385.3 L334.35,385.3 L335.03,385.3 L335.72,385.3 L336.4,385.3 L337.08,385.3 L337.76,385.3 L338.44,385.3 L339.12,385.3 L339.8,385.3" fill="none" stroke="#000" stroke-width="1.4"/>
<path d="M190.7,385.3 L191.38,385.3 L192.06,385.3 L192.74,385.3 L193.42,385.3 L194.1,385.3 L194.78,385.3 L195.47,385.3 L196.15,385.3 L196.83,385.3 L197.51,385.3 L198.19,385.3 L198.87,385.3 L199.55,385.3 L200.23,385.3 L200.91,385.3 L201.59,385.3 L202.27,385.3 L202.95,385.3 L203.64,385.3 L204.32,385.3 L205,385.3 L205.68,385.3 L206.36,385.3 L207.04,385.3 L207.72,385.3 L208.4,385.3 L209.08,385.3 L209.76,385.3 L210.44,385.3 L211.12,385.3 L211.81,385.3 L212.49,385.3 L213.17,385.3 L213.85,385.3 L214.53,385.3 L215.21,385.3 L215.89,385.3 L216.57,385.3 L217.25,385.3 L217.93,385.3 L218.61,385.3 L219.29,385.3 L219.98,385.3 L220.66,385.3 L221.34,385.3 L222.02,385.3 L222.7,385.3 L223.38,385.3 L224.06,385.3 L224.74,385.3 L225.42,385.3 L226.1,385.3 L226.78,385.3 L227.46,385.3 L228.15,385.3 L228.83,385.3 L229.51,385.3 L230.19,385.3 L230.87,385.3 L231.55,385.3 L232.23,385.3 L232.91,385.3 L233.59,385.3 L234.27,385.3 L234.95,385.3 L235.63,385.3 L236.32,385.3 L237,385.29 L237.68,385.29 L238.36,385.28 L239.04,385.28 L239.72,385.26 L240.4,385.25 L241.08,385.22 L241.76,385.19 L242.44,385.15 L243.12,385.09 L243.8,385.01 L244.48,384.91 L245.17,384.79 L245.85,384.63 L246.53,384.43 L247.21,384.19 L247.89,383.9 L248.57,383.57 L249.25,383.18 L249.93,382.75 L250.61,382.27 L251.29,381.75 L251.97,381.2 L252.65,380.63 L253.34,380.05 L254.02,379.49 L254.7,378.95 L255.38,378.47 L256.06,378.05 L256.74,377.71 L257.42,377.47 L258.1,377.33 L258.78,377.3 L259.46,377.39 L260.14,377.58 L260.82,377.88 L261.51,378.26 L262.19,378.72 L262.87,379.24 L263.55,379.79 L264.23,380.36 L264.91,380.93 L265.59,381.5 L266.27,382.03 L266.95,382.53 L267.63,382.99 L268.31,383.4 L268.99,383.75 L269.68,384.06 L270.36,384.32 L271.04,384.54 L271.72,384.72 L272.4,384.86 L273.08,384.97 L273.76,385.06 L274.44,385.12 L275.12,385.17 L275.8,385.21 L276.48,385.24 L277.16,385.26 L277.85,385.27 L278.53,385.28 L279.21,385.29 L279.89,385.29 L280.57,385.29 L281.25,385.3 L281.93,385.3 L282.61,385.3 L283.29,385.3 L283.97,385.3 L284.65,385.3 L285.33,385.3 L286.02,385.3 L286.7,385.3 L287.38,385.3 L288.06,385.3 L288.74,385.3 L289.42,385.3 L290.1,385.3 L290.78,385.3 L291.46,385.3 L292.14,385.3 L292.82,385.3 L293.5,385.3 L294.18,385.3 L294.87,385.3 L295.55,385.3 L296.23,385.3 L296.91,385.3 L297.59,385.3 L298.27,385.3 L298.95,385.3 L299.63,385.3 L300.31,385.3 L300.99,385.3 L301.67,385.3 L302.35,385.3 L303.04,385.3 L303.72,385.3 L304.4,385.3 L305.08,385.3 L305.76,385.3 L306.44,385.3 L307.12,385.3 L307.8,385.3 L308.48,385.3 L309.16,385.3 L309.84,385.3 L310.52,385.3 L311.21,385.3 L311.89,385.3 L312.57,385.3 L313.25,385.3 L313.93,385.3 L314.61,385.3 L315.29,385.3 L315.97,385.3 L316.65,385.3 L317.33,385.3 L318.01,385.3 L318.69,385.3 L319.38,385.3 L320.06,385.3 L320.74,385.3 L321.42,385.3 L322.1,385.3 L322.78,385.3 L323.46,385.3 L324.14,385.3 L324.82,385.3 L325.5,385.3 L326.18,385.3 L326.86,385.3 L327.55,385.3 L328.23,385.3 L328.91,385.3 L329.59,385.3 L330.27,385.3 L330.95,385.3 L331.63,385.3 L332.31,385.3 L332.99,385.3 L333.67,385.3 L334.35,385.3 L335.03,385.3 L335.72,385.3 L336.4,385.3 L337.08,385.3 L337.76,385.3 L338.44,385.3 L339.12,385.3 L339.8,385.3 L339.8,385.3 L190.7,385.3 Z" fill="#ff8000" stroke="none"/>
<path d="M190.7,385.3 L191.38,385.3 L192.06,385.3 L192.74,385.3 L193.42,385.3 L194.1,385.3 L194.78,385.3 L195.47,385.3 L196.15,385.3 L196.83,385.3 L197.51,385.3 L198.19,385.3 L198.87,385.3 L199.55,385.3 L200.23,385.3 L200.91,385.3 L201.59,385.3 L202.27,385.3 L202.95,385.3 L203.64,385.3 L204.32,385.3 L205,385.3 L205.68,385.3 L206.36,385.3 L207.04,385.3 L207.72,385.3 L208.4,385.3 L209.08,385.3 L209.76,385.3 L210.44,385.3 L211.12,385.3 L211.81,385.3 L212.49,385.3 L213.17,385.3 L213.85,385.3 L214.53,385.3 L215.21,385.3 L215.89,385.3 L216.57,385.3 L217.25,385.3 L217.93,385.3 L218.61,385.3 L219.29,385.3 L219.98,385.3 L220.66,385.3 L221.34,385.3 L222.02,385.3 L222.7,385.3 L223.38,385.3 L224.06,385.3 L224.74,385.3 L225.42,385.3 L226.1,385.3 L226.78,385.3 L227.46,385.3 L228.15,385.3 L228.83,385.3 L229.51,385.3 L230.19,385.3 L230.87,385.3 L231.55,385.3 L232.23,385.3 L232.91,385.3 L233.59,385.3 L234.27,385.3 L234.95,385.3 L235.63,385.3 L236.32,385.3 L237,385.29 L237.68,385.29 L238.36,385.28 L239.04,385.28 L239.72,385.26 L240.4,385.25 L241.08,385.22 L241.76,385.19 L242.44,385.15 L243.12,385.09 L243.8,385.01 L244.48,384.91 L245.17,384.79 L245.85,384.63 L246.53,384.43 L247.21,384.19 L247.89,383.9 L248.57,383.57 L249.25,383.18 L249.93,382.75 L250.61,382.27 L251.29,381.75 L251.97,381.2 L252.65,380.63 L253.34,380.05 L254.02,379.49 L254.7,378.95 L255.38,378.47 L256.06,378.05 L256.74,377.71 L257.42,377.47 L258.1,377.33 L258.78,377.3 L259.46,377.39 L260.14,377.58 L260.82,377.88 L261.51,378.26 L262.19,378.72 L262.87,379.24 L263.55,379.79 L264.23,380.36 L264.91,380.93 L265.59,381.5 L266.27,382.03 L266.95,382.53 L267.63,382.99 L268.31,383.4 L268.99,383.75 L269.68,384.06 L270.36,384.32 L271.04,384.54 L271.72,384.72 L272.4,384.86 L273.08,384.97 L273.76,385.06 L274.44,385.12 L275.12,385.17 L275.8,385.21 L276.48,385.24 L277.16,385.26 L277.85,385.27 L278.53,385.28 L279.21,385.29 L279.89,385.29 L280.57,385.29 L281.25,385.3 L281.93,385.3 L282.61,385.3 L283.29,385.3 L283.97,385.3 L284.65,385.3 L285.33,385.3 L286.02,385.3 L286.7,385.3 L287.38,385.3 L288.06,385.3 L288.74,385.3 L289.42,385.3 L290.1,385.3 L290.78,385.3 L291.46,385.3 L292.14,385.3 L292.82,385.3 L293.5,385.3 L294.18,385.3 L294.87,385.3 L295.55,385.3 L296.23,385.3 L296.91,385.3 L297.59,385.3 L298.27,385.3 L298.95,385.3 L299.63,385.3 L300.31,385.3 L300.99,385.3 L301.67,385.3 L302.35,385.3 L303.04,385.3 L303.72,385.3 L304.4,385.3 L305.08,385.3 L305.76,385.3 L306.44,385.3 L307.12,385.3 L307.8,385.3 L308.48,385.3 L309.16,385.3 L309.84,385.3 L310.52,385.3 L311.21,385.3 L311.89,385.3 L312.57,385.3 L313.25,385.3 L313.93,385.3 L314.61,385.3 L315.29,385.3 L315.97,385.3 L316.65,385.3 L317.33,385.3 L318.01,385.3 L318.69,385.3 L319.38,385.3 L320.06,385.3 L320.74,385.3 L321.42,385.3 L322.1,385.3 L322.78,385.3 L323.46,385.3 L324.14,385.3 L324.82,385.3 L325.5,385.3 L326.18,385.3 L326.86,385.3 L327.55,385.3 L328.23,385.3 L328.91,385.3 L329.59,385.3 L330.27,385.3 L330.95,385.3 L331.63,385.3 L332.31,385.3 L332.99,385.3 L333.67,385.3 L334.35,385.3 L335.03,385.3 L335.72,385.3 L336.4,385.3 L337.08,385.3 L337.76,385.3 L338.44,385.3 L339.12,385.3 L339.8,385.3" fill="none" stroke="#000" stroke-width="1.4"/>
<path d="M190.7,385.15 L191.38,385.15 L192.06,385.15 L192.74,385.15 L193.42,385.14 L194.1,385.14 L194.78,385.14 L195.47,385.14 L196.15,385.13 L196.83,385.13 L197.51,385.13 L198.19,385.12 L198.87,385.12 L199.55,385.12 L200.23,385.11 L200.91,385.11 L201.59,385.11 L202.27,385.1 L202.95,385.1 L203.64,385.1 L204.32,385.09 L205,385.09 L205.68,385.09 L206.36,385.08 L207.04,385.08 L207.72,385.07 L208.4,385.07 L209.08,385.06 L209.76,385.06 L210.44,385.05 L211.12,385.05 L211.81,385.04 L212.49,385.04 L213.17,385.03 L213.85,385.03 L214.53,385.02 L215.21,385.01 L215.89,385.01 L216.57,385 L217.25,384.99 L217.93,384.99 L218.61,384.98 L219.29,384.97 L219.98,384.97 L220.66,384.96 L221.34,384.95 L222.02,384.94 L222.7,384.93 L223.38,384.92 L224.06,384.91 L224.74,384.9 L225.42,384.89 L226.1,384.88 L226.78,384.87 L227.46,384.86 L228.15,384.85 L228.83,384.83 L229.51,384.82 L230.19,384.81 L230.87,384.79 L231.55,384.78 L232.23,384.76 L232.91,384.75 L233.59,384.73 L234.27,384.71 L234.95,384.69 L235.63,384.67 L236.32,384.65 L237,384.63 L237.68,384.61 L238.36,384.58 L239.04,384.56 L239.72,384.53 L240.4,384.5 L241.08,384.47 L241.76,384.44 L242.44,384.41 L243.12,384.37 L243.8,384.34 L244.48,384.3 L245.17,384.26 L245.85,384.21 L246.53,384.17 L247.21,384.12 L247.89,384.06 L248.57,384.01 L249.25,383.94 L249.93,383.88 L250.61,383.81 L251.29,383.73 L251.97,383.65 L252.65,383.56 L253.34,383.46 L254.02,383.35 L254.7,383.22 L255.38,383.08 L256.06,382.92 L256.74,382.73 L257.42,382.51 L258.1,382.24 L258.78,381.92 L259.46,381.53 L260.14,381.05 L260.82,380.45 L261.51,379.73 L262.19,378.83 L262.87,377.74 L263.55,376.41 L264.23,374.81 L264.91,372.91 L265.59,370.66 L266.27,368.04 L266.95,365.04 L267.63,361.62 L268.31,357.81 L268.99,353.61 L269.68,349.07 L270.36,344.24 L271.04,339.21 L271.72,334.07 L272.4,328.97 L273.08,324.04 L273.76,319.47 L274.44,315.44 L275.12,312.16 L275.8,309.81 L276.48,308.52 L277.16,308.39 L277.85,309.42 L278.53,311.55 L279.21,314.64 L279.89,318.52 L280.57,322.98 L281.25,327.84 L281.93,332.93 L282.61,338.07 L283.29,343.13 L283.97,348.02 L284.65,352.63 L285.33,356.9 L286.02,360.81 L286.7,364.31 L287.38,367.41 L288.06,370.11 L288.74,372.44 L289.42,374.41 L290.1,376.08 L290.78,377.46 L291.46,378.6 L292.14,379.54 L292.82,380.3 L293.5,380.92 L294.18,381.43 L294.87,381.84 L295.55,382.18 L296.23,382.45 L296.91,382.69 L297.59,382.88 L298.27,383.05 L298.95,383.19 L299.63,383.32 L300.31,383.44 L300.99,383.54 L301.67,383.63 L302.35,383.71 L303.04,383.79 L303.72,383.86 L304.4,383.93 L305.08,383.99 L305.76,384.05 L306.44,384.1 L307.12,384.16 L307.8,384.2 L308.48,384.25 L309.16,384.29 L309.84,384.33 L310.52,384.37 L311.21,384.4 L311.89,384.44 L312.57,384.47 L313.25,384.5 L313.93,384.52 L314.61,384.55 L315.29,384.58 L315.97,384.6 L316.65,384.62 L317.33,384.65 L318.01,384.67 L318.69,384.69 L319.38,384.71 L320.06,384.72 L320.74,384.74 L321.42,384.76 L322.1,384.77 L322.78,384.79 L323.46,384.8 L324.14,384.82 L324.82,384.83 L325.5,384.84 L326.18,384.86 L326.86,384.87 L327.55,384.88 L328.23,384.89 L328.91,384.9 L329.59,384.91 L330.27,384.92 L330.95,384.93 L331.63,384.94 L332.31,384.95 L332.99,384.96 L333.67,384.96 L334.35,384.97 L335.03,384.98 L335.72,384.99 L336.4,384.99 L337.08,385 L337.76,385.01 L338.44,385.01 L339.12,385.02 L339.8,385.03" fill="none" stroke="#000" stroke-width="1.4"/>
<path d="M190.7,371.25 L191.38,371.25 L192.06,371.25 L192.74,371.24 L193.42,371.24 L194.1,371.24 L194.78,371.24 L195.47,371.23 L196.15,371.23 L196.83,371.23 L197.51,371.23 L198.19,371.22 L198.87,371.22 L199.55,371.22 L200.23,371.21 L200.91,371.21 L201.59,371.21 L202.27,371.2 L202.95,371.2 L203.64,371.19 L204.32,371.19 L205,371.19 L205.68,371.18 L206.36,371.18 L207.04,371.17 L207.72,371.17 L208.4,371.16 L209.08,371.16 L209.76,371.15 L210.44,371.15 L211.12,371.14 L211.81,371.14 L212.49,371.13 L213.17,371.12 L213.85,371.12 L214.53,371.11 L215.21,371.1 L215.89,371.09 L216.57,371.08 L217.25,371.06 L217.93,371.05 L218.61,371.03 L219.29,371.01 L219.98,370.98 L220.66,370.95 L221.34,370.92 L222.02,370.88 L222.7,370.84 L223.38,370.79 L224.06,370.73 L224.74,370.66 L225.42,370.58 L226.1,370.49 L226.78,370.39 L227.46,370.28 L228.15,370.16 L228.83,370.03 L229.51,369.88 L230.19,369.72 L230.87,369.55 L231.55,369.37 L232.23,369.18 L232.91,368.99 L233.59,368.78 L234.27,368.57 L234.95,368.36 L235.63,368.15 L236.32,367.93 L237,367.72 L237.68,367.51 L238.36,367.31 L239.04,367.11 L239.72,366.91 L240.4,366.71 L241.08,366.51 L241.76,366.31 L242.44,366.1 L243.12,365.89 L243.8,365.65 L244.48,365.41 L245.17,365.13 L245.85,364.84 L246.53,364.51 L247.21,364.15 L247.89,363.76 L248.57,363.33 L249.25,362.87 L249.93,362.39 L250.61,361.89 L251.29,361.37 L251.97,360.84 L252.65,360.32 L253.34,359.81 L254.02,359.32 L254.7,358.86 L255.38,358.44 L256.06,358.07 L256.74,357.74 L257.42,357.45 L258.1,357.2 L258.78,356.98 L259.46,356.76 L260.14,356.53 L260.82,356.25 L261.51,355.88 L262.19,355.39 L262.87,354.72 L263.55,353.84 L264.23,352.69 L264.91,351.22 L265.59,349.39 L266.27,347.16 L266.95,344.51 L267.63,341.43 L268.31,337.92 L268.99,334.01 L269.68,329.74 L270.36,325.18 L271.04,320.43 L271.72,315.61 L272.4,310.86 L273.08,306.36 L273.76,302.29 L274.44,298.84 L275.12,296.22 L275.8,294.6 L276.48,294.08 L277.16,294.71 L277.85,296.46 L278.53,299.22 L279.21,302.83 L279.89,307.1 L280.57,311.84 L281.25,316.87 L281.93,322.02 L282.61,327.14 L283.29,332.11 L283.97,336.85 L284.65,341.28 L285.33,345.34 L286.02,349.01 L286.7,352.28 L287.38,355.14 L288.06,357.62 L288.74,359.74 L289.42,361.53 L290.1,363.02 L290.78,364.26 L291.46,365.28 L292.14,366.11 L292.82,366.78 L293.5,367.33 L294.18,367.78 L294.87,368.15 L295.55,368.45 L296.23,368.7 L296.91,368.9 L297.59,369.08 L298.27,369.24 L298.95,369.37 L299.63,369.49 L300.31,369.6 L300.99,369.69 L301.67,369.78 L302.35,369.86 L303.04,369.94 L303.72,370 L304.4,370.07 L305.08,370.13 L305.76,370.18 L306.44,370.23 L307.12,370.28 L307.8,370.33 L308.48,370.37 L309.16,370.41 L309.84,370.45 L310.52,370.49 L311.21,370.52 L311.89,370.55 L312.57,370.58 L313.25,370.61 L313.93,370.64 L314.61,370.67 L315.29,370.69 L315.97,370.72 L316.65,370.74 L317.33,370.76 L318.01,370.78 L318.69,370.8 L319.38,370.82 L320.06,370.83 L320.74,370.85 L321.42,370.87 L322.1,370.88 L322.78,370.9 L323.46,370.91 L324.14,370.93 L324.82,370.94 L325.5,370.95 L326.18,370.96 L326.86,370.97 L327.55,370.99 L328.23,371 L328.91,371.01 L329.59,371.02 L330.27,371.03 L330.95,371.03 L331.63,371.04 L332.31,371.05 L332.99,371.06 L333.67,371.07 L334.35,371.08 L335.03,371.08 L335.72,371.09 L336.4,371.1 L337.08,371.1 L337.76,371.11 L338.44,371.12 L339.12,371.12 L339.8,371.13" fill="none" stroke="#000" stroke-width="1.3" stroke-linejoin="round"/>
<path d="M191.1,371.25h0M191.95,371.25h0M192.8,371.24h0M193.65,371.24h0M194.5,371.24h0M195.35,371.23h0M196.2,371.23h0M197.05,371.23h0M197.9,371.22h0M198.75,371.22h0M199.6,371.22h0M200.45,371.21h0M201.3,371.21h0M202.15,371.2h0M203,371.2h0M203.85,371.19h0M204.7,371.19h0M205.55,371.18h0M206.4,371.18h0M207.25,371.17h0M208.1,371.17h0M208.95,371.16h0M209.8,371.15h0M210.65,371.15h0M211.5,371.14h0M212.35,371.13h0M213.2,371.12h0M214.05,371.11h0M214.9,371.1h0M215.75,371.09h0M216.6,371.08h0M217.45,371.06h0M218.3,371.04h0M219.15,371.01h0M220,370.98h0M220.85,370.94h0M221.7,370.9h0M222.55,370.85h0M223.4,370.78h0M224.25,370.71h0M225.1,370.62h0M225.95,370.51h0M226.8,370.39h0M227.65,370.25h0M228.5,370.09h0M229.35,369.91h0M230.2,369.72h0M231.05,369.51h0M231.9,369.28h0M232.75,369.03h0M233.6,368.78h0M234.45,368.52h0M235.3,368.25h0M236.15,367.99h0M237,367.72h0M237.85,367.46h0M238.7,367.21h0M239.55,366.95h0M240.4,366.71h0M241.25,366.46h0M242.1,366.21h0M242.95,365.94h0M243.8,365.66h0M244.65,365.34h0M245.5,364.99h0M246.35,364.59h0M247.2,364.15h0M248.05,363.66h0M248.9,363.11h0M249.75,362.52h0M250.6,361.89h0M251.45,361.24h0M252.3,360.59h0M253.15,359.94h0M254,359.33h0M254.85,358.77h0M255.7,358.26h0M256.55,357.83h0M257.4,357.46h0M258.25,357.16h0M259.1,356.88h0M259.95,356.6h0M260.8,356.26h0M261.65,355.78h0M262.5,355.08h0M263.35,354.1h0M264.2,352.74h0M265.05,350.84h0M265.9,348.37h0M266.75,345.3h0M267.6,341.58h0M268.45,337.14h0M269.3,332.09h0M270.15,326.56h0M271,320.69h0M271.85,314.69h0M272.7,308.87h0M273.55,303.55h0M274.4,299.05h0M275.25,295.92h0M276.1,294.37h0M276.95,294.51h0M277.8,296.34h0M278.65,299.87h0M279.5,304.67h0M280.35,310.32h0M281.2,316.51h0M282.05,322.92h0M282.9,329.25h0M283.75,335.3h0M284.6,340.93h0M285.45,345.96h0M286.3,350.38h0M287.15,354.19h0M288,357.41h0M288.85,360.03h0M289.7,362.14h0M290.55,363.84h0M291.4,365.19h0M292.25,366.21h0M293.1,367.01h0M293.95,367.63h0M294.8,368.11h0M295.65,368.48h0M296.5,368.78h0M297.35,369.02h0M298.2,369.22h0M299.05,369.39h0M299.9,369.53h0M300.75,369.66h0M301.6,369.77h0M302.45,369.87h0M303.3,369.96h0M304.15,370.04h0M305,370.12h0M305.85,370.19h0M306.7,370.25h0M307.55,370.31h0M308.4,370.37h0M309.25,370.42h0M310.1,370.47h0M310.95,370.51h0M311.8,370.55h0M312.65,370.59h0M313.5,370.62h0M314.35,370.66h0M315.2,370.69h0M316.05,370.72h0M316.9,370.75h0M317.75,370.77h0M318.6,370.8h0M319.45,370.82h0M320.3,370.84h0M321.15,370.86h0M322,370.88h0M322.85,370.9h0M323.7,370.92h0M324.55,370.93h0M325.4,370.95h0M326.25,370.96h0M327.1,370.98h0M327.95,370.99h0M328.8,371h0M329.65,371.02h0M330.5,371.03h0M331.35,371.04h0M332.2,371.05h0M333.05,371.06h0M333.9,371.07h0M334.75,371.08h0M335.6,371.09h0M336.45,371.1h0M337.3,371.11h0M338.15,371.11h0M339,371.12h0" fill="none" stroke="#000" stroke-width="2.8" stroke-linecap="round"/>
<line x1="25.6" y1="170.8" x2="176.2" y2="170.8" stroke="#000" stroke-width="1.9"/>
<line x1="25.6" y1="275.6" x2="176.2" y2="275.6" stroke="#000" stroke-width="1.9"/>
<line x1="25.6" y1="382.2" x2="176.2" y2="382.2" stroke="#000" stroke-width="1.9"/>
<line x1="189.9" y1="171.4" x2="340.6" y2="171.4" stroke="#000" stroke-width="1.9"/>
<line x1="189.9" y1="279.0" x2="340.6" y2="279.0" stroke="#000" stroke-width="1.9"/>
<line x1="189.9" y1="385.9" x2="340.6" y2="385.9" stroke="#000" stroke-width="1.9"/>
<text x="425.1" y="48.8" font-family='"Liberation Serif", serif' font-weight="bold" font-size="19.5" fill="#000" text-anchor="start" >Zr M<tspan font-weight="normal">-</tspan>edge</text>
<text x="596.8" y="50.6" font-family='"Liberation Serif", serif' font-weight="bold" font-size="19.2" fill="#000" text-anchor="start" >O K<tspan font-weight="normal">-</tspan>edge</text>
<text x="394.4" y="90.7" font-family='"Liberation Serif", serif' font-weight="bold" font-size="13.5" fill="#000" text-anchor="start" >A</text>
<text x="410.7" y="85.4" font-family='"Liberation Serif", serif' font-weight="bold" font-size="13.5" fill="#000" text-anchor="start" >B</text>
<text x="445.3" y="96.7" font-family='"Liberation Serif", serif' font-weight="bold" font-size="13.5" fill="#000" text-anchor="start" >C</text>
<text x="460.1" y="70.3" font-family='"Liberation Serif", serif' font-weight="bold" font-size="13.5" fill="#000" text-anchor="start" >A'</text>
<text x="477.7" y="68.1" font-family='"Liberation Serif", serif' font-weight="bold" font-size="13.5" fill="#000" text-anchor="start" >B'</text>
<text x="494" y="70.7" font-family='"Liberation Serif", serif' font-weight="bold" font-size="13.5" fill="#000" text-anchor="start" >C'</text>
<text x="400.7" y="399.6" font-family='"Liberation Serif", serif' font-weight="bold" font-size="13" fill="#0000ff" text-anchor="start" >4d</text>
<text x="464" y="397.9" font-family='"Liberation Serif", serif' font-weight="bold" font-size="13" fill="#0000ff" text-anchor="start" >4d</text>
<text x="442.8" y="399" font-family='"Liberation Serif", serif' font-weight="bold" font-size="13" fill="#ff8000" text-anchor="start" >5s</text>
<text x="488.3" y="399" font-family='"Liberation Serif", serif' font-weight="bold" font-size="13" fill="#ff8000" text-anchor="start" >5s</text>
<text x="580.1" y="68.1" font-family='"Liberation Serif", serif' font-weight="bold" font-size="13.5" fill="#000" text-anchor="start" >eg</text>
<text x="608.7" y="76.2" font-family='"Liberation Serif", serif' font-weight="bold" font-size="14" fill="#000" text-anchor="start" >t<tspan font-size="11.5">2</tspan>g</text>
<text x="545" y="390.1" font-family='"Liberation Serif", serif' font-weight="bold" font-size="13" fill="#0000ff" text-anchor="start" letter-spacing="0.7">O 2p-Zr 4d</text>
<text x="603.1" y="403" font-family='"Liberation Serif", serif' font-weight="bold" font-size="13" fill="#ff8000" text-anchor="start" letter-spacing="0.75">O 2p-Zr 5sp</text>
<clipPath id="clipc"><rect x="366.4" y="31.3" width="150.1" height="376.3"/></clipPath>
<clipPath id="clipd"><rect x="530.9" y="31.3" width="149.5" height="376.3"/></clipPath>
<g clip-path="url(#clipc)">
<path d="M366.2,217.8 C367.78,217.45 373.17,216.17 375.7,215.7 C378.23,215.23 379.8,214.92 381.4,215 C383,215.08 384.15,217.38 385.3,216.2 C386.45,215.02 387.12,211.57 388.3,207.9 C389.48,204.23 391.25,199.25 392.4,194.2 C393.55,189.15 394.42,182.65 395.2,177.6 C395.98,172.55 396.42,169.4 397.1,163.9 C397.78,158.4 398.7,150.57 399.3,144.6 C399.9,138.63 400.25,132.7 400.7,128.1 C401.15,123.5 401.32,119.77 402,117 C402.68,114.23 404.03,112.83 404.8,111.5 C405.57,110.17 405.93,110.05 406.6,109 C407.27,107.95 408.02,106.45 408.8,105.2 C409.58,103.95 410.45,101.78 411.3,101.5 C412.15,101.22 413.05,102.05 413.9,103.5 C414.75,104.95 415.67,108.02 416.4,110.2 C417.13,112.38 417.67,114.9 418.3,116.6 C418.93,118.3 419.57,118.58 420.2,120.4 C420.83,122.22 421.53,125.65 422.1,127.5 C422.67,129.35 422.85,130.15 423.6,131.5 C424.35,132.85 425.68,134.38 426.6,135.6 C427.52,136.82 428.37,137.57 429.1,138.8 C429.83,140.03 430.15,141.93 431,143 C431.85,144.07 433.25,144.37 434.2,145.2 C435.15,146.03 435.75,147.37 436.7,148 C437.65,148.63 438.93,149.08 439.9,149 C440.87,148.92 441.75,148.5 442.5,147.5 C443.25,146.5 443.73,143.25 444.4,143 C445.07,142.75 445.82,145.6 446.5,146 C447.18,146.4 447.47,147.97 448.5,145.4 C449.53,142.83 451.47,134.82 452.7,130.6 C453.93,126.38 454.48,125.57 455.9,120.1 C457.32,114.63 459.78,102.93 461.2,97.8 C462.62,92.67 463.35,91.25 464.4,89.3 C465.45,87.35 466.45,86.1 467.5,86.1 C468.55,86.1 469.82,87.7 470.7,89.3 C471.58,90.9 471.85,95.17 472.8,95.7 C473.75,96.23 475.57,92.53 476.4,92.5 C477.23,92.47 477.23,93.73 477.8,95.5 C478.37,97.27 479.12,101.27 479.8,103.1 C480.48,104.93 480.98,105.82 481.9,106.5 C482.82,107.18 484.15,107.43 485.3,107.2 C486.45,106.97 488.1,106.72 488.8,105.1 C489.5,103.48 489.17,99.9 489.5,97.5 C489.83,95.1 490.23,92.98 490.8,90.7 C491.37,88.42 492.2,85.18 492.9,83.8 C493.6,82.42 494.32,82.17 495,82.4 C495.68,82.63 496.43,83.13 497,85.2 C497.57,87.27 497.93,91.37 498.4,94.8 C498.87,98.23 499.37,101.9 499.8,105.8 C500.23,109.7 500.72,114.42 501,118.2 C501.28,121.98 501.27,127.53 501.5,128.5 C501.73,129.47 502.07,127 502.4,124 C502.73,121 503.03,115.57 503.5,110.5 C503.97,105.43 504.63,98.68 505.2,93.6 C505.77,88.52 506.15,87.4 506.9,80 C507.65,72.6 508.72,57.52 509.7,49.2 C510.68,40.88 512.08,34.3 512.8,30.1 C513.52,25.9 513.8,25.02 514,24" fill="none" stroke="#008000" stroke-width="2.2" stroke-linejoin="round"/>
<path d="M366.3,217.78h0M366.85,217.92h0M367.4,217.28h0M367.95,216.6h0M368.5,216.86h0M369.05,216.25h0M369.6,217.07h0M370.15,218.1h0M370.7,216.33h0M371.25,216.09h0M371.8,216.96h0M372.35,216.72h0M372.9,216.37h0M373.45,215.32h0M374,216.02h0M374.55,216.55h0M375.1,214.61h0M375.65,215.3h0M376.2,213.9h0M376.75,214.35h0M377.3,213.75h0M377.85,215.1h0M378.4,214.08h0M378.95,215.38h0M379.5,215.21h0M380.05,214.85h0M380.6,212.73h0M381.15,214.51h0M381.7,215.01h0M382.25,215.35h0M382.8,214.19h0M383.35,215.52h0M383.9,215.43h0M384.45,215.8h0M385,217.39h0M385.55,215.17h0M386.1,214.86h0M386.65,214.2h0M387.2,211.07h0M387.75,209.59h0M388.3,208h0M388.85,206.28h0M389.4,203.45h0M389.95,202.93h0M390.5,202.35h0M391.05,197.92h0M391.6,198.14h0M392.15,195.36h0M392.7,192.24h0M393.25,191.78h0M393.8,187.44h0M394.35,182.15h0M394.9,179.64h0M395.45,176.49h0M396,172.08h0M396.55,168.84h0M397.1,163.84h0M397.65,159.98h0M398.2,155.99h0M398.75,149.2h0M399.3,144.78h0M399.85,138.02h0M400.4,131.6h0M400.95,124.29h0M401.5,119.26h0M402.05,116.64h0M402.6,116.01h0M403.15,115.12h0M403.7,112h0M404.25,111.65h0M404.8,112.08h0M405.35,108.85h0M405.9,109.53h0M406.45,109.14h0M407,109.47h0M407.55,107.99h0M408.1,106.09h0M408.65,105.11h0M409.2,104.28h0M409.75,104.86h0M410.3,102.15h0M410.85,101.54h0M411.4,101.79h0M411.95,101.38h0M412.5,101.6h0M413.05,101.29h0M413.6,103.01h0M414.15,103.57h0M414.7,106.29h0M415.25,107.33h0M415.8,108.35h0M416.35,110.65h0M416.9,111.52h0M417.45,114.76h0M418,115.71h0M418.55,117.72h0M419.1,117.05h0M419.65,119.45h0M420.2,118.88h0M420.75,120.43h0M421.3,124.17h0M421.85,125.81h0M422.4,128.64h0M422.95,132.16h0M423.5,130.57h0M424.05,131.67h0M424.6,133.2h0M425.15,134.19h0M425.7,134.29h0M426.25,134.96h0M426.8,136.49h0M427.35,137h0M427.9,136.24h0M428.45,137.78h0M429,138.67h0M429.55,138.79h0M430.1,141.45h0M430.65,141.69h0M431.2,144.1h0M431.75,143.87h0M432.3,144.12h0M432.85,143.81h0M433.4,144.54h0M433.95,143.2h0M434.5,144.47h0M435.05,146.47h0M435.6,144.96h0M436.15,148.29h0M436.7,146.43h0M437.25,149.01h0M437.8,147.82h0M438.35,149.49h0M438.9,149.05h0M439.45,147.62h0M440,150.11h0M440.55,150.18h0M441.1,148.63h0M441.65,148.11h0M442.2,147.71h0M442.75,146.18h0M443.3,146.55h0M443.85,143.38h0M444.4,142.95h0M444.95,142.65h0M445.5,143.81h0M446.05,144.3h0M446.6,147.21h0M447.15,146.51h0M447.7,147.63h0M448.25,145.98h0M448.8,143.95h0M449.35,142.53h0M449.9,140.4h0M450.45,138.9h0M451,136.5h0M451.55,134.51h0M452.1,131.5h0M452.65,130.05h0M453.2,130.44h0M453.75,126.65h0M454.3,124.66h0M454.85,124.17h0M455.4,123.23h0M455.95,118.59h0M456.5,117.49h0M457.05,114.79h0M457.6,111.4h0M458.15,111.24h0M458.7,108.15h0M459.25,105.84h0M459.8,102.74h0M460.35,101.53h0M460.9,98.45h0M461.45,96.79h0M462,94.07h0M462.55,92.31h0M463.1,93.16h0M463.65,90.29h0M464.2,89.94h0M464.75,88.65h0M465.3,87.41h0M465.85,86.63h0M466.4,87.12h0M466.95,85.94h0M467.5,85.96h0M468.05,86.25h0M468.6,87.63h0M469.15,87.7h0M469.7,88.09h0M470.25,88.03h0M470.8,88.27h0M471.35,92.09h0M471.9,94.52h0M472.45,95.15h0M473,96.23h0M473.55,96.2h0M474.1,95.72h0M474.65,95.13h0M475.2,93.19h0M475.75,94.32h0M476.3,91.41h0M476.85,93.45h0M477.4,94.49h0M477.95,96.79h0M478.5,99.88h0M479.05,101.82h0M479.6,101.47h0M480.15,102.47h0M480.7,105.86h0M481.25,104.99h0M481.8,106.41h0M482.35,107.54h0M482.9,105.54h0M483.45,105.28h0M484,107.5h0M484.55,107.32h0M485.1,107.01h0M485.65,107.16h0M486.2,106.23h0M486.75,105.49h0M487.3,106.48h0M487.85,105.43h0M488.4,104.29h0M488.95,105.13h0M489.5,97.45h0M490.05,94.49h0M490.6,90.64h0M491.15,88.72h0M491.7,86.37h0M492.25,84.66h0M492.8,84.19h0M493.35,82.36h0M493.9,82.85h0M494.45,82.64h0M495,84.22h0M495.55,81.41h0M496.1,83.99h0M496.65,84.09h0M497.2,86.04h0M497.75,88.28h0M498.3,93.62h0M498.85,98.8h0M499.4,102.32h0M499.95,107.23h0M500.5,112.23h0M501.05,119.98h0M501.6,128.68h0M502.15,124.14h0M502.7,120.05h0M503.25,111.66h0M503.8,104.38h0M504.35,101.21h0M504.9,97.56h0M505.45,91.55h0M506,86.48h0M506.55,82.41h0M507.1,78.96h0M507.65,71.8h0M508.2,65.14h0M508.75,58.68h0M509.3,52.95h0M509.85,48.72h0M510.4,44.47h0M510.95,40.66h0M511.5,36.33h0M512.05,34.7h0M512.6,30.63h0M513.15,29.11h0M513.7,24.23h0" fill="none" stroke="#008000" stroke-width="4.2" stroke-linecap="round"/>
<path d="M366.2,313.1 C367.62,313.1 372.58,313.98 374.7,313.1 C376.82,312.22 377.32,309.38 378.9,307.8 C380.48,306.22 382.27,305.55 384.2,303.6 C386.13,301.65 388.92,298.05 390.5,296.1 C392.08,294.15 392.82,294.9 393.7,291.9 C394.58,288.9 395.08,283.22 395.8,278.1 C396.52,272.98 397.28,266.85 398,261.2 C398.72,255.55 399.4,249.32 400.1,244.2 C400.8,239.08 401.32,234.55 402.2,230.5 C403.08,226.45 404.33,223.43 405.4,219.9 C406.47,216.37 407.2,213.37 408.6,209.3 C410,205.23 412.4,197.27 413.8,195.5 C415.2,193.73 415.93,196.75 417,198.7 C418.07,200.65 419.13,205.97 420.2,207.2 C421.27,208.43 422.33,204.68 423.4,206.1 C424.47,207.52 425.37,212.68 426.6,215.7 C427.83,218.72 429.4,223.67 430.8,224.2 C432.2,224.73 433.77,218.9 435,218.9 C436.23,218.9 436.85,222.62 438.2,224.2 C439.55,225.78 441.73,227.95 443.1,228.4 C444.47,228.85 444.97,229.47 446.4,226.9 C447.83,224.33 450.12,217.4 451.7,213 C453.28,208.6 454.32,205.05 455.9,200.5 C457.48,195.95 459.43,190.47 461.2,185.7 C462.97,180.93 464.73,174.73 466.5,171.9 C468.27,169.07 470,170.88 471.8,168.7 C473.6,166.52 475.8,156.75 477.3,158.8 C478.8,160.85 479.45,178.55 480.8,181 C482.15,183.45 484.02,177.08 485.4,173.5 C486.78,169.92 488.02,163.75 489.1,159.5 C490.18,155.25 491.12,153.68 491.9,148 C492.68,142.32 493.07,130.98 493.8,125.4 C494.53,119.82 495.65,116.62 496.3,114.5 C496.95,112.38 497.23,111.62 497.7,112.7 C498.17,113.78 498.67,117.12 499.1,121 C499.53,124.88 499.85,131.25 500.3,136 C500.75,140.75 501.38,147.5 501.8,149.5 C502.22,151.5 502.38,149.42 502.8,148 C503.22,146.58 503.48,144.42 504.3,141 C505.12,137.58 506.57,132.02 507.7,127.5 C508.83,122.98 509.97,118.98 511.1,113.9 C512.23,108.82 513.52,102.37 514.5,97 C515.48,91.63 516.25,85.87 517,81.7 C517.75,77.53 518.67,73.62 519,72" fill="none" stroke="#ff0000" stroke-width="2.0" stroke-linejoin="round"/>
<path d="M366.3,313.04h0M366.85,313.13h0M367.4,312.52h0M367.95,314.1h0M368.5,314.02h0M369.05,313.11h0M369.6,313.77h0M370.15,313.62h0M370.7,312.15h0M371.25,313.61h0M371.8,313.46h0M372.35,313.52h0M372.9,312.91h0M373.45,313.27h0M374,313.22h0M374.55,313.74h0M375.1,313.06h0M375.65,312.49h0M376.2,312.67h0M376.75,310.85h0M377.3,309.99h0M377.85,308.3h0M378.4,309.17h0M378.95,308.23h0M379.5,307.71h0M380.05,307.14h0M380.6,306.46h0M381.15,306.13h0M381.7,305.52h0M382.25,305.15h0M382.8,304.87h0M383.35,305.14h0M383.9,304.17h0M384.45,303.31h0M385,302.46h0M385.55,301.82h0M386.1,302.3h0M386.65,301.11h0M387.2,300.23h0M387.75,299.35h0M388.3,298.29h0M388.85,298.12h0M389.4,297.91h0M389.95,296.59h0M390.5,295.99h0M391.05,295.38h0M391.6,295.05h0M392.15,293.77h0M392.7,293.93h0M393.25,292.72h0M393.8,291.97h0M394.35,288.51h0M394.9,285.41h0M395.45,281.51h0M396,276.5h0M396.55,272.24h0M397.1,268.39h0M397.65,263.96h0M398.2,259.11h0M398.75,255.29h0M399.3,251.49h0M399.85,245.95h0M400.4,241.87h0M400.95,237.36h0M401.5,234.38h0M402.05,230.6h0M402.6,228.28h0M403.15,227.5h0M403.7,224.65h0M404.25,223.99h0M404.8,222.56h0M405.35,220.19h0M405.9,218.48h0M406.45,217.26h0M407,214.27h0M407.55,212.24h0M408.1,210.12h0M408.65,209.17h0M409.2,208.25h0M409.75,206.33h0M410.3,203.72h0M410.85,202.13h0M411.4,200.72h0M411.95,199.62h0M412.5,197.96h0M413.05,196.91h0M413.6,195.95h0M414.15,195h0M414.7,194.96h0M415.25,195.44h0M415.8,196.15h0M416.35,197.61h0M416.9,199.44h0M417.45,200.01h0M418,201.32h0M418.55,202.21h0M419.1,204.97h0M419.65,205.26h0M420.2,206.5h0M420.75,207.87h0M421.3,207.47h0M421.85,206.45h0M422.4,205.13h0M422.95,205.61h0M423.5,205.92h0M424.05,207.75h0M424.6,210.25h0M425.15,211.18h0M425.7,212.63h0M426.25,214.17h0M426.8,216.17h0M427.35,217.53h0M427.9,218.48h0M428.45,220.49h0M429,221.12h0M429.55,223.32h0M430.1,224.14h0M430.65,224.65h0M431.2,223.94h0M431.75,223.99h0M432.3,222.89h0M432.85,221.77h0M433.4,220.74h0M433.95,219.27h0M434.5,218.47h0M435.05,219.31h0M435.6,219.12h0M436.15,220.18h0M436.7,221.8h0M437.25,221.72h0M437.8,223.24h0M438.35,224.46h0M438.9,225.18h0M439.45,225.38h0M440,226.63h0M440.55,226.74h0M441.1,226.51h0M441.65,227.09h0M442.2,228.34h0M442.75,228.49h0M443.3,227.52h0M443.85,229.34h0M444.4,229.1h0M444.95,229.37h0M445.5,228.05h0M446.05,227.34h0M446.6,225.95h0M447.15,226.62h0M447.7,223.95h0M448.25,223.43h0M448.8,220.84h0M449.35,219.73h0M449.9,217.27h0M450.45,216.35h0M451,215.47h0M451.55,212.8h0M452.1,212.41h0M452.65,210.45h0M453.2,208.11h0M453.75,206.71h0M454.3,205.04h0M454.85,203.58h0M455.4,201.69h0M455.95,199.94h0M456.5,198.63h0M457.05,196.7h0M457.6,195.01h0M458.15,194.09h0M458.7,193.01h0M459.25,190.28h0M459.8,189.52h0M460.35,187.69h0M460.9,186.02h0M461.45,185.44h0M462,183.2h0M462.55,182.61h0M463.1,179.85h0M463.65,178.84h0M464.2,176.99h0M464.75,175.26h0M465.3,174.59h0M465.85,173.02h0M466.4,172.38h0M466.95,171.25h0M467.5,170.2h0M468.05,170.35h0M468.6,170.21h0M469.15,170.53h0M469.7,169.49h0M470.25,169.77h0M470.8,168.69h0M471.35,169.49h0M471.9,168.01h0M472.45,166.72h0M473,166.4h0M473.55,165.62h0M474.1,162.87h0M474.65,161.65h0M475.2,160.49h0M475.75,159.16h0M476.3,159.09h0M476.85,158.14h0M477.4,158.67h0M477.95,161.13h0M478.5,163.99h0M479.05,169.43h0M479.6,173.89h0M480.15,177.87h0M480.7,179.8h0M481.25,182.4h0M481.8,181.25h0M482.35,180.96h0M482.9,179.87h0M483.45,178.77h0M484,177.32h0M484.55,176.76h0M485.1,173.78h0M485.65,172.03h0M486.2,170.6h0M486.75,168.49h0M487.3,167.38h0M487.85,165.13h0M488.4,161.9h0M488.95,159.41h0M489.5,157.85h0M490.05,156.86h0M490.6,152.92h0M491.15,152.46h0M491.7,148.81h0M492.25,145.38h0M492.8,137.14h0M493.35,129.79h0M493.9,123.94h0M494.45,120.95h0M495,119.67h0M495.55,117.36h0M496.1,114.94h0M496.65,112.97h0M497.2,111.31h0M497.75,112.64h0M498.3,115.12h0M498.85,118.85h0M499.4,124.18h0M499.95,131.18h0M500.5,138.07h0M501.05,143.64h0M501.6,148.94h0M502.15,151.25h0M502.7,148.3h0M503.25,145.64h0M503.8,143.21h0M504.35,140.49h0M504.9,138.18h0M505.45,136.34h0M506,133.68h0M506.55,132.34h0M507.1,129.83h0M507.65,127.83h0M508.2,125.45h0M508.75,123.05h0M509.3,120.83h0M509.85,119.03h0M510.4,116.64h0M510.95,114.68h0M511.5,112.08h0M512.05,108.81h0M512.6,106.86h0M513.15,103.41h0M513.7,100.95h0M514.25,98.21h0M514.8,94.28h0M515.35,92.05h0M515.9,88.58h0M516.45,84.9h0M517,81.49h0M517.55,78.63h0M518.1,75.67h0M518.65,73.49h0" fill="none" stroke="#ff0000" stroke-width="3.5" stroke-linecap="round"/>
<path d="M366.8,379.5 C367.28,379.3 368.75,378.17 369.7,378.3 C370.65,378.43 371.4,379.93 372.5,380.3 C373.6,380.67 375.03,381.03 376.3,380.5 C377.57,379.97 378.82,378.3 380.1,377.1 C381.38,375.9 382.88,374.43 384,373.3 C385.12,372.17 385.85,372.2 386.8,370.3 C387.75,368.4 388.75,364.88 389.7,361.9 C390.65,358.92 391.55,356.22 392.5,352.4 C393.45,348.58 394.6,343.45 395.4,339 C396.2,334.55 396.52,333.73 397.3,325.7 C398.08,317.67 398.93,299.78 400.1,290.8 C401.27,281.82 402.88,275.68 404.3,271.8 C405.72,267.92 406.93,269.8 408.6,267.5 C410.27,265.2 412.72,258.35 414.3,258 C415.88,257.65 416.93,261.33 418.1,265.4 C419.27,269.47 419.88,277.1 421.3,282.4 C422.72,287.7 425.08,292.62 426.6,297.2 C428.12,301.78 429,308.83 430.4,309.9 C431.8,310.97 433.4,305.25 435,303.6 C436.6,301.95 438.65,301.42 440,300 C441.35,298.58 441.68,297.38 443.1,295.1 C444.52,292.82 446.9,289.88 448.5,286.3 C450.1,282.72 451.47,277.85 452.7,273.6 C453.93,269.35 454.67,264.68 455.9,260.8 C457.13,256.92 458.87,254.88 460.1,250.3 C461.33,245.72 462.23,237.2 463.3,233.3 C464.37,229.4 465.43,227.6 466.5,226.9 C467.57,226.2 468.47,230.15 469.7,229.1 C470.93,228.05 472.67,222.55 473.9,220.6 C475.13,218.65 476.03,216.35 477.1,217.4 C478.17,218.45 479.08,223.97 480.3,226.9 C481.52,229.83 483.17,235 484.4,235 C485.63,235 486.63,231.07 487.7,226.9 C488.77,222.73 489.92,213.98 490.8,210 C491.68,206.02 491.85,205.53 493,203 C494.15,200.47 496.45,194.73 497.7,194.8 C498.95,194.87 499.72,200.37 500.5,203.4 C501.28,206.43 501.43,213.63 502.4,213 C503.37,212.37 504.87,205.02 506.3,199.6 C507.73,194.18 509.58,186.85 511,180.5 C512.42,174.15 513.75,168.05 514.8,161.5 C515.85,154.95 516.6,145.78 517.3,141.2 C518,136.62 518.72,135.2 519,134" fill="none" stroke="#000" stroke-width="1.8" stroke-linejoin="round"/>
<path d="M366.85,379.31h0M367.4,379.19h0M367.95,378.48h0M368.5,378.64h0M369.05,378.41h0M369.6,378.25h0M370.15,378.33h0M370.7,379.05h0M371.25,378.92h0M371.8,380.04h0M372.35,380.31h0M372.9,380.51h0M373.45,380.69h0M374,380.49h0M374.55,380.68h0M375.1,380.95h0M375.65,380.83h0M376.2,380.6h0M376.75,379.81h0M377.3,380.03h0M377.85,379.74h0M378.4,379.14h0M378.95,378.34h0M379.5,377.22h0M380.05,377.43h0M380.6,376.58h0M381.15,375.35h0M381.7,375.69h0M382.25,374.59h0M382.8,374.11h0M383.35,373.76h0M383.9,373.78h0M384.45,372.77h0M385,372.53h0M385.55,372.53h0M386.1,371.91h0M386.65,370.55h0M387.2,369.34h0M387.75,367.6h0M388.3,366.14h0M388.85,364.75h0M389.4,362.97h0M389.95,361.15h0M390.5,359.69h0M391.05,357.39h0M391.6,355.75h0M392.15,353.98h0M392.7,351.76h0M393.25,349.61h0M393.8,346.99h0M394.35,344.24h0M394.9,341.75h0M395.45,338.43h0M396,335.27h0M396.55,332.54h0M397.1,327.67h0M397.65,321.66h0M398.2,313.32h0M398.75,305.75h0M399.3,298.51h0M399.85,292.66h0M400.4,287.94h0M400.95,285.07h0M401.5,282.49h0M402.05,279.76h0M402.6,277.2h0M403.15,275.35h0M403.7,273.79h0M404.25,271.11h0M404.8,270.62h0M405.35,269.96h0M405.9,269.51h0M406.45,269.53h0M407,269.14h0M407.55,268.61h0M408.1,268.17h0M408.65,267.66h0M409.2,266.38h0M409.75,265.51h0M410.3,264.7h0M410.85,263.89h0M411.4,262.14h0M411.95,261.09h0M412.5,260.15h0M413.05,259.61h0M413.6,258.5h0M414.15,258.52h0M414.7,257.71h0M415.25,258.26h0M415.8,258.92h0M416.35,260.27h0M416.9,261.78h0M417.45,262.72h0M418,264.78h0M418.55,267.37h0M419.1,270.04h0M419.65,273.26h0M420.2,277.43h0M420.75,280.19h0M421.3,282.55h0M421.85,284.14h0M422.4,286.28h0M422.95,287.45h0M423.5,289.33h0M424.05,290.15h0M424.6,291.57h0M425.15,293.29h0M425.7,294.46h0M426.25,296.38h0M426.8,297.93h0M427.35,299.54h0M427.9,302.11h0M428.45,304.36h0M429,306.94h0M429.55,308.23h0M430.1,309.43h0M430.65,310.36h0M431.2,310.52h0M431.75,309.85h0M432.3,308.39h0M432.85,307.39h0M433.4,306.68h0M433.95,305.13h0M434.5,303.95h0M435.05,303.59h0M435.6,303.19h0M436.15,302.38h0M436.7,301.76h0M437.25,301.49h0M437.8,301.79h0M438.35,301.04h0M438.9,300.87h0M439.45,300.56h0M440,300.19h0M440.55,299.26h0M441.1,298.74h0M441.65,297.38h0M442.2,296.54h0M442.75,295.37h0M443.3,295.13h0M443.85,293.94h0M444.4,292.92h0M444.95,292.24h0M445.5,291.47h0M446.05,290.91h0M446.6,289.35h0M447.15,288.61h0M447.7,287.81h0M448.25,287.59h0M448.8,285.89h0M449.35,284.19h0M449.9,282.93h0M450.45,281.71h0M451,279.29h0M451.55,277.43h0M452.1,276.03h0M452.65,273.92h0M453.2,271.96h0M453.75,269.33h0M454.3,267.64h0M454.85,265.19h0M455.4,262.68h0M455.95,260.86h0M456.5,258.52h0M457.05,258.03h0M457.6,256.6h0M458.15,255.62h0M458.7,254.48h0M459.25,252.82h0M459.8,250.83h0M460.35,249.4h0M460.9,246.41h0M461.45,243.37h0M462,239.89h0M462.55,236.71h0M463.1,233.42h0M463.65,232.47h0M464.2,230.57h0M464.75,229.54h0M465.3,228.81h0M465.85,227.48h0M466.4,226.43h0M466.95,226.6h0M467.5,227h0M468.05,228h0M468.6,228.9h0M469.15,228.65h0M469.7,229.2h0M470.25,227.95h0M470.8,227.49h0M471.35,226.19h0M471.9,224.86h0M472.45,223.62h0M473,222.21h0M473.55,221.04h0M474.1,219.77h0M474.65,219.33h0M475.2,218.97h0M475.75,218.24h0M476.3,217.59h0M476.85,217.43h0M477.4,217.62h0M477.95,219.56h0M478.5,220.91h0M479.05,222.92h0M479.6,224.78h0M480.15,226.53h0M480.7,227.77h0M481.25,229.3h0M481.8,230.4h0M482.35,231.95h0M482.9,233.92h0M483.45,234.18h0M484,234.75h0M484.55,235.12h0M485.1,234.77h0M485.65,233.31h0M486.2,232.19h0M486.75,230.76h0M487.3,228.53h0M487.85,226.31h0M488.4,224.1h0M488.95,220.37h0M489.5,217.31h0M490.05,213.84h0M490.6,211.41h0M491.15,207.86h0M491.7,206.09h0M492.25,204.56h0M492.8,203.64h0M493.35,202.4h0M493.9,201.39h0M494.45,199.27h0M495,198.79h0M495.55,197.38h0M496.1,196.28h0M496.65,195.8h0M497.2,194.76h0M497.75,194.2h0M498.3,195.16h0M498.85,196.07h0M499.4,198.31h0M499.95,201.09h0M500.5,203.49h0M501.05,207.22h0M501.6,211.07h0M502.15,212.51h0M502.7,212.39h0M503.25,211.02h0M503.8,209.12h0M504.35,207.54h0M504.9,205.01h0M505.45,202.37h0M506,200.97h0M506.55,198.62h0M507.1,196.65h0M507.65,194.43h0M508.2,192.42h0M508.75,190.03h0M509.3,188.14h0M509.85,185.61h0M510.4,183.25h0M510.95,180.85h0M511.5,177.81h0M512.05,175.7h0M512.6,173.1h0M513.15,170.58h0M513.7,167.32h0M514.25,165.25h0M514.8,161.53h0M515.35,157.3h0M515.9,152.61h0M516.45,148.09h0M517,143.38h0M517.55,139.49h0M518.1,137.14h0M518.65,135h0" fill="none" stroke="#000" stroke-width="3.2" stroke-linecap="round"/>
<line x1="405.3" y1="97" x2="405.3" y2="372.4" stroke="#0000ff" stroke-width="1.5" stroke-dasharray="7 5.8" stroke-dashoffset="-0.6"/>
<line x1="414.2" y1="93.9" x2="414.2" y2="383" stroke="#0000ff" stroke-width="1.5" stroke-dasharray="7 5.8" stroke-dashoffset="-0.6"/>
<line x1="467.2" y1="71.3" x2="467.2" y2="372.3" stroke="#0000ff" stroke-width="1.5" stroke-dasharray="7 5.8" stroke-dashoffset="-0.6"/>
<line x1="478.8" y1="71.3" x2="478.8" y2="372.3" stroke="#0000ff" stroke-width="1.5" stroke-dasharray="7 5.8" stroke-dashoffset="-0.6"/>
<line x1="454" y1="102" x2="454" y2="374.6" stroke="#ff8000" stroke-width="1.5" stroke-dasharray="9.5 2.7 1.3 2.7" stroke-dashoffset="0"/>
<line x1="497" y1="71.3" x2="497" y2="375" stroke="#ff8000" stroke-width="1.5" stroke-dasharray="9.5 2.7 1.3 2.7" stroke-dashoffset="0"/>
</g>
<g clip-path="url(#clipd)">
<path d="M530,224 C531.67,223.88 536,223.62 540,223.3 C544,222.98 550.67,222.38 554,222.1 C557.33,221.82 558.07,222.08 560,221.6 C561.93,221.12 563.68,220.08 565.6,219.2 C567.52,218.32 570.02,217.95 571.5,216.3 C572.98,214.65 573.73,211.63 574.5,209.3 C575.27,206.97 575.65,206.77 576.1,202.3 C576.55,197.83 576.87,189.3 577.2,182.5 C577.53,175.7 577.78,165.92 578.1,161.5 C578.42,157.08 578.82,159.67 579.1,156 C579.38,152.33 579.55,146.45 579.8,139.5 C580.05,132.55 580.3,121.8 580.6,114.3 C580.9,106.8 581.15,99.13 581.6,94.5 C582.05,89.87 582.85,88.17 583.3,86.5 C583.75,84.83 583.87,84.1 584.3,84.5 C584.73,84.9 585.1,84.98 585.9,88.9 C586.7,92.82 587.87,102 589.1,108 C590.33,114 592.25,121.9 593.3,124.9 C594.35,127.9 594.52,127.77 595.4,126 C596.28,124.23 597.37,119.07 598.6,114.3 C599.83,109.53 601.38,102.17 602.8,97.4 C604.22,92.63 605.68,86.42 607.1,85.7 C608.52,84.98 609.88,89.75 611.3,93.1 C612.72,96.45 614.02,100.85 615.6,105.8 C617.18,110.75 619.4,119.08 620.8,122.8 C622.2,126.52 622.58,127.22 624,128.1 C625.42,128.98 627.72,127.92 629.3,128.1 C630.88,128.28 631.92,129.98 633.5,129.2 C635.08,128.42 637.38,125.25 638.8,123.4 C640.22,121.55 640.95,119.5 642,118.1 C643.05,116.7 644.05,114.82 645.1,115 C646.15,115.18 646.7,117.8 648.3,119.2 C649.9,120.6 652.23,122.17 654.7,123.4 C657.17,124.63 660.98,125.18 663.1,126.6 C665.22,128.02 665.63,129.95 667.4,131.9 C669.17,133.85 671.52,136.35 673.7,138.3 C675.88,140.25 678.95,142.48 680.5,143.6 C682.05,144.72 682.58,144.77 683,145" fill="none" stroke="#008000" stroke-width="1.4" stroke-linejoin="round"/>
<path d="M530.2,224.32h0M530.75,223.51h0M531.3,223.89h0M531.85,224.46h0M532.4,225.38h0M532.95,223.2h0M533.5,223.49h0M534.05,223.23h0M534.6,224.16h0M535.15,222.97h0M535.7,223.33h0M536.25,223.56h0M536.8,222.95h0M537.35,222.93h0M537.9,223.17h0M538.45,222.16h0M539,222.51h0M539.55,223.09h0M540.1,223.38h0M540.65,223.14h0M541.2,222.14h0M541.75,222.88h0M542.3,223.59h0M542.85,223.4h0M543.4,222.97h0M543.95,222.44h0M544.5,223.3h0M545.05,222.53h0M545.6,222.13h0M546.15,222.3h0M546.7,223.6h0M547.25,222.82h0M547.8,223.34h0M548.35,222.3h0M548.9,223.11h0M549.45,222.13h0M550,222.35h0M550.55,223.89h0M551.1,222.81h0M551.65,222h0M552.2,222.2h0M552.75,222.4h0M553.3,222.89h0M553.85,221.82h0M554.4,221.02h0M554.95,221.86h0M555.5,222.01h0M556.05,222.04h0M556.6,222.74h0M557.15,222.13h0M557.7,222.41h0M558.25,221.23h0M558.8,222.35h0M559.35,223h0M559.9,222.09h0M560.45,221.63h0M561,221.39h0M561.55,222.17h0M562.1,220.31h0M562.65,220.55h0M563.2,220.64h0M563.75,220.54h0M564.3,219.56h0M564.85,219.74h0M565.4,219.13h0M565.95,219.12h0M566.5,218.75h0M567.05,217.95h0M567.6,218.43h0M568.15,218.77h0M568.7,217.46h0M569.25,217.67h0M569.8,217.95h0M570.35,216.6h0M570.9,216.96h0M571.45,215.71h0M572,216.33h0M572.55,216.1h0M573.1,214.7h0M573.65,211.84h0M574.2,210.69h0M574.75,208.64h0M575.3,207.06h0M575.85,205.33h0M576.4,197.71h0M576.95,188.49h0M577.5,175.28h0M578.05,163.12h0M578.6,158.61h0M579.15,154.9h0M579.7,142.51h0M580.25,125.22h0M580.8,109.22h0M581.35,97.97h0M581.9,91.8h0M582.45,88.11h0M583,88.05h0M583.55,85.98h0M584.1,84.48h0M584.65,84.89h0M585.2,86.65h0M585.75,87.92h0M586.3,90.67h0M586.85,94.4h0M587.4,98.78h0M587.95,100.72h0M588.5,105.54h0M589.05,107.36h0M589.6,109.7h0M590.15,113.6h0M590.7,115.15h0M591.25,116.72h0M591.8,119.46h0M592.35,122.31h0M592.9,124.37h0M593.45,125.06h0M594,126.93h0M594.55,127.68h0M595.1,126.19h0M595.65,125.63h0M596.2,123.73h0M596.75,121.41h0M597.3,119.25h0M597.85,117.34h0M598.4,115.1h0M598.95,112.57h0M599.5,110.39h0M600.05,108.99h0M600.6,106.11h0M601.15,104.22h0M601.7,102.18h0M602.25,99.71h0M602.8,98.76h0M603.35,95h0M603.9,94.04h0M604.45,91.47h0M605,91h0M605.55,89.34h0M606.1,85.86h0M606.65,85.54h0M607.2,86.08h0M607.75,86.22h0M608.3,86.72h0M608.85,87.11h0M609.4,88.61h0M609.95,90.06h0M610.5,91.04h0M611.05,93.1h0M611.6,92.48h0M612.15,95.65h0M612.7,96.18h0M613.25,99.01h0M613.8,99.99h0M614.35,101.32h0M614.9,103.82h0M615.45,104.78h0M616,106.53h0M616.55,107.96h0M617.1,110.74h0M617.65,112.94h0M618.2,115.14h0M618.75,116.31h0M619.3,118.86h0M619.85,120.01h0M620.4,121.62h0M620.95,123.54h0M621.5,125.24h0M622.05,125.66h0M622.6,126.68h0M623.15,127.37h0M623.7,127.95h0M624.25,127.68h0M624.8,129.01h0M625.35,128.21h0M625.9,128.71h0M626.45,127.88h0M627,128.52h0M627.55,128.45h0M628.1,127.88h0M628.65,129.3h0M629.2,128.32h0M629.75,129.26h0M630.3,128.99h0M630.85,128.31h0M631.4,128.78h0M631.95,129.52h0M632.5,129.43h0M633.05,129.39h0M633.6,128.97h0M634.15,127.69h0M634.7,128.17h0M635.25,126.44h0M635.8,127.4h0M636.35,126.1h0M636.9,125.43h0M637.45,125.03h0M638,124.61h0M638.55,122.87h0M639.1,121.94h0M639.65,121.51h0M640.2,119.98h0M640.75,119.6h0M641.3,120.14h0M641.85,117.68h0M642.4,117.94h0M642.95,115.93h0M643.5,116.2h0M644.05,115.23h0M644.6,115.03h0M645.15,115.36h0M645.7,116.46h0M646.25,116.32h0M646.8,117.27h0M647.35,117.5h0M647.9,119.15h0M648.45,119.18h0M649,120.28h0M649.55,120.19h0M650.1,121.66h0M650.65,119.82h0M651.2,121.2h0M651.75,122.26h0M652.3,121.86h0M652.85,121.92h0M653.4,122.55h0M653.95,122.18h0M654.5,123.37h0M655.05,125.02h0M655.6,124.48h0M656.15,123.34h0M656.7,123.68h0M657.25,124.14h0M657.8,125.16h0M658.35,124.23h0M658.9,124.48h0M659.45,125.59h0M660,125.76h0M660.55,125.2h0M661.1,124.95h0M661.65,124.92h0M662.2,125.68h0M662.75,125.05h0M663.3,127.2h0M663.85,126.81h0M664.4,128.02h0M664.95,129.55h0M665.5,129.94h0M666.05,129.4h0M666.6,131.43h0M667.15,132.3h0M667.7,131.78h0M668.25,132.26h0M668.8,133.36h0M669.35,133.05h0M669.9,135.47h0M670.45,133.71h0M671,135.05h0M671.55,136.11h0M672.1,136.67h0M672.65,137.43h0M673.2,138.01h0M673.75,138.22h0M674.3,139.51h0M674.85,138h0M675.4,139.74h0M675.95,139.75h0M676.5,140.69h0M677.05,141.17h0M677.6,140.91h0M678.15,141.49h0M678.7,142.76h0M679.25,142.9h0M679.8,142.68h0M680.35,144.72h0M680.9,145.26h0M681.45,143.36h0M682,144.72h0M682.55,146.3h0" fill="none" stroke="#008000" stroke-width="3.9" stroke-linecap="round"/>
<path d="M530,299.5 C531.67,299.03 536,297.35 540,296.7 C544,296.05 550.12,296.18 554,295.6 C557.88,295.02 560.78,294.18 563.3,293.2 C565.82,292.22 567.28,291.48 569.1,289.7 C570.92,287.92 573.07,285.7 574.2,282.5 C575.33,279.3 575.42,275.58 575.9,270.5 C576.38,265.42 576.7,257.75 577.1,252 C577.5,246.25 577.92,242.17 578.3,236 C578.68,229.83 579.07,221 579.4,215 C579.73,209 579.88,205.1 580.3,200 C580.72,194.9 581.3,189.87 581.9,184.4 C582.5,178.93 583.32,170.23 583.9,167.2 C584.48,164.17 584.77,163.98 585.4,166.2 C586.03,168.42 586.85,175.88 587.7,180.5 C588.55,185.12 589.38,189.12 590.5,193.9 C591.62,198.68 593.43,206.18 594.4,209.2 C595.37,212.22 595.35,212.97 596.3,212 C597.25,211.03 598.83,207.37 600.1,203.4 C601.37,199.43 602.63,191.7 603.9,188.2 C605.17,184.7 606.43,182.72 607.7,182.4 C608.97,182.08 610.23,183.75 611.5,186.3 C612.77,188.85 614.02,193.57 615.3,197.7 C616.58,201.83 617.92,207.43 619.2,211.1 C620.48,214.77 621.8,218.18 623,219.7 C624.2,221.22 625.28,220.05 626.4,220.2 C627.52,220.35 628.12,220.75 629.7,220.6 C631.28,220.45 634.07,220.85 635.9,219.3 C637.73,217.75 639.12,213.95 640.7,211.3 C642.28,208.65 643.55,204.2 645.4,203.4 C647.25,202.6 649.15,205.18 651.8,206.5 C654.45,207.82 658.65,209.43 661.3,211.3 C663.95,213.17 665.58,215.32 667.7,217.7 C669.82,220.08 671.88,223.38 674,225.6 C676.12,227.82 678.9,229.77 680.4,231 C681.9,232.23 682.57,232.67 683,233" fill="none" stroke="#ff0000" stroke-width="1.4" stroke-linejoin="round"/>
<path d="M530.2,299.83h0M530.75,299.38h0M531.3,298.99h0M531.85,298.64h0M532.4,298.62h0M532.95,298.27h0M533.5,298.74h0M534.05,297.99h0M534.6,297.8h0M535.15,297.26h0M535.7,297.67h0M536.25,297.1h0M536.8,297.31h0M537.35,297.78h0M537.9,297.3h0M538.45,297.25h0M539,297.06h0M539.55,296.81h0M540.1,296.62h0M540.65,296.45h0M541.2,296.92h0M541.75,295.93h0M542.3,297.09h0M542.85,296.39h0M543.4,295.96h0M543.95,296.05h0M544.5,295.92h0M545.05,296.31h0M545.6,295.84h0M546.15,296.74h0M546.7,295.75h0M547.25,294.98h0M547.8,295.72h0M548.35,295.06h0M548.9,296.01h0M549.45,296.53h0M550,296.3h0M550.55,295.27h0M551.1,295.52h0M551.65,296.75h0M552.2,295.97h0M552.75,295.76h0M553.3,296.22h0M553.85,296.85h0M554.4,296.18h0M554.95,295.52h0M555.5,295.53h0M556.05,295.56h0M556.6,294.84h0M557.15,294.5h0M557.7,294.93h0M558.25,294.31h0M558.8,294.61h0M559.35,294.55h0M559.9,295.52h0M560.45,293.76h0M561,293.95h0M561.55,293.75h0M562.1,293.86h0M562.65,293.97h0M563.2,292.99h0M563.75,292.61h0M564.3,291.98h0M564.85,292.1h0M565.4,292.58h0M565.95,292.06h0M566.5,291.22h0M567.05,291.2h0M567.6,291.01h0M568.15,290.81h0M568.7,289.78h0M569.25,289.43h0M569.8,288.09h0M570.35,287.86h0M570.9,288.65h0M571.45,286.11h0M572,286.34h0M572.55,285.84h0M573.1,284.67h0M573.65,283.41h0M574.2,282.47h0M574.75,280.56h0M575.3,277.11h0M575.85,270.11h0M576.4,263.63h0M576.95,253.88h0M577.5,246.44h0M578.05,239.81h0M578.6,231.03h0M579.15,220.23h0M579.7,209.12h0M580.25,201.1h0M580.8,195.16h0M581.35,189.96h0M581.9,185.1h0M582.45,179.13h0M583,173.95h0M583.55,169.87h0M584.1,165.55h0M584.65,164.83h0M585.2,165.29h0M585.75,167.63h0M586.3,170.41h0M586.85,174.67h0M587.4,178.73h0M587.95,182.28h0M588.5,185.18h0M589.05,187.33h0M589.6,189.84h0M590.15,191.97h0M590.7,194.95h0M591.25,196.95h0M591.8,199.65h0M592.35,202.46h0M592.9,203.75h0M593.45,205.12h0M594,207.43h0M594.55,208.95h0M595.1,210.85h0M595.65,213.03h0M596.2,212.21h0M596.75,210.65h0M597.3,210.79h0M597.85,209.97h0M598.4,207.9h0M598.95,206.35h0M599.5,205.02h0M600.05,203.7h0M600.6,201.96h0M601.15,200h0M601.7,197.59h0M602.25,195.09h0M602.8,192.8h0M603.35,190.31h0M603.9,187.44h0M604.45,186.72h0M605,185.71h0M605.55,184.33h0M606.1,184.13h0M606.65,182.87h0M607.2,182.16h0M607.75,183.12h0M608.3,182.73h0M608.85,182.74h0M609.4,183.54h0M609.95,184.23h0M610.5,184.66h0M611.05,184.21h0M611.6,186.18h0M612.15,187.56h0M612.7,188.8h0M613.25,191.05h0M613.8,193.32h0M614.35,194.31h0M614.9,195.82h0M615.45,199.21h0M616,199.84h0M616.55,201.41h0M617.1,204.15h0M617.65,206.23h0M618.2,207.58h0M618.75,210.13h0M619.3,211.14h0M619.85,212.46h0M620.4,214.48h0M620.95,216.15h0M621.5,216.72h0M622.05,218.34h0M622.6,219.08h0M623.15,221.28h0M623.7,219.95h0M624.25,221.17h0M624.8,220.42h0M625.35,220.26h0M625.9,220.57h0M626.45,220.65h0M627,220.94h0M627.55,220.6h0M628.1,220.25h0M628.65,220.35h0M629.2,220.88h0M629.75,220.89h0M630.3,221.27h0M630.85,220.76h0M631.4,221.08h0M631.95,221.28h0M632.5,220.57h0M633.05,219.69h0M633.6,219.75h0M634.15,219.48h0M634.7,220.81h0M635.25,219.32h0M635.8,219.99h0M636.35,219.16h0M636.9,219.05h0M637.45,217.88h0M638,216.39h0M638.55,215.31h0M639.1,214.37h0M639.65,213.32h0M640.2,211.92h0M640.75,211.19h0M641.3,210.99h0M641.85,208.19h0M642.4,207.97h0M642.95,206.2h0M643.5,205.69h0M644.05,205.11h0M644.6,203.97h0M645.15,203.94h0M645.7,202.52h0M646.25,203.82h0M646.8,203.06h0M647.35,203.9h0M647.9,203.99h0M648.45,202.97h0M649,204.28h0M649.55,205.17h0M650.1,206.23h0M650.65,205.97h0M651.2,206.3h0M651.75,205.77h0M652.3,207.46h0M652.85,207.9h0M653.4,207.27h0M653.95,207.4h0M654.5,206.95h0M655.05,208.45h0M655.6,209.61h0M656.15,208.87h0M656.7,209.4h0M657.25,209.3h0M657.8,208.8h0M658.35,210.24h0M658.9,209.24h0M659.45,210.05h0M660,210.61h0M660.55,211.25h0M661.1,211.37h0M661.65,211.75h0M662.2,211.6h0M662.75,211.79h0M663.3,212.95h0M663.85,213.08h0M664.4,213.34h0M664.95,213.94h0M665.5,214.94h0M666.05,214.88h0M666.6,215.77h0M667.15,216.26h0M667.7,217.79h0M668.25,218.54h0M668.8,220.02h0M669.35,218.97h0M669.9,220.1h0M670.45,221.63h0M671,221.8h0M671.55,222.48h0M672.1,224.21h0M672.65,223.88h0M673.2,224.13h0M673.75,224.67h0M674.3,226.07h0M674.85,226.59h0M675.4,226.26h0M675.95,226.94h0M676.5,228.17h0M677.05,228.65h0M677.6,228.48h0M678.15,229.55h0M678.7,229.95h0M679.25,229.2h0M679.8,230.36h0M680.35,231.17h0M680.9,231.12h0M681.45,230.77h0M682,232.12h0M682.55,233.04h0" fill="none" stroke="#ff0000" stroke-width="3.6" stroke-linecap="round"/>
<path d="M530,380.2 C532.27,379.85 540.12,378.65 543.6,378.1 C547.08,377.55 547.52,377.47 550.9,376.9 C554.28,376.33 561.03,375.33 563.9,374.7 C566.77,374.07 566.97,373.48 568.1,373.1 C569.23,372.72 569.78,373.88 570.7,372.4 C571.62,370.92 572.83,368.72 573.6,364.2 C574.37,359.68 574.73,352.98 575.3,345.3 C575.87,337.62 576.45,327.15 577,318.1 C577.55,309.05 578.05,300.03 578.6,291 C579.15,281.97 579.8,271.15 580.3,263.9 C580.8,256.65 581.22,250.93 581.6,247.5 C581.98,244.07 582.12,243.63 582.6,243.3 C583.08,242.97 583.67,242.65 584.5,245.5 C585.33,248.35 586.43,254.73 587.6,260.4 C588.77,266.07 590.53,275.4 591.5,279.5 C592.47,283.6 592.57,285.42 593.4,285 C594.23,284.58 595.33,280.67 596.5,277 C597.67,273.33 599.23,267.25 600.4,263 C601.57,258.75 602.55,254.2 603.5,251.5 C604.45,248.8 605.02,246.88 606.1,246.8 C607.18,246.72 608.85,248.47 610,251 C611.15,253.53 611.72,256.28 613,262 C614.28,267.72 616.37,279.45 617.7,285.3 C619.03,291.15 619.55,294.6 621,297.1 C622.45,299.6 623.92,299.88 626.4,300.3 C628.88,300.72 633.52,301.18 635.9,299.6 C638.28,298.02 639.38,292.92 640.7,290.8 C642.02,288.68 641.95,286.9 643.8,286.9 C645.65,286.9 648.35,289.1 651.8,290.8 C655.25,292.5 661.33,294.98 664.5,297.1 C667.67,299.22 668.15,301.48 670.8,303.5 C673.45,305.52 678.37,308.12 680.4,309.2 C682.43,310.28 682.57,309.87 683,310" fill="none" stroke="#000" stroke-width="1.8" stroke-linejoin="round"/>
<path d="M530.2,380.64h0M530.75,379.43h0M531.3,380.78h0M531.85,379.58h0M532.4,380.12h0M532.95,380.12h0M533.5,379.96h0M534.05,379.62h0M534.6,379.14h0M535.15,379.6h0M535.7,379.11h0M536.25,378.48h0M536.8,380h0M537.35,379.28h0M537.9,379.53h0M538.45,378.63h0M539,379.26h0M539.55,379.21h0M540.1,379.11h0M540.65,378.55h0M541.2,378.11h0M541.75,378.34h0M542.3,377.64h0M542.85,377.71h0M543.4,378.16h0M543.95,377.75h0M544.5,377.91h0M545.05,377.84h0M545.6,378.36h0M546.15,378.08h0M546.7,377.59h0M547.25,377.88h0M547.8,377.19h0M548.35,377.23h0M548.9,377.51h0M549.45,376.77h0M550,376.97h0M550.55,376.56h0M551.1,376.9h0M551.65,377.27h0M552.2,376.46h0M552.75,376.67h0M553.3,376.24h0M553.85,376.08h0M554.4,375.96h0M554.95,376.68h0M555.5,376.87h0M556.05,376.22h0M556.6,375.77h0M557.15,376.11h0M557.7,375.71h0M558.25,375.96h0M558.8,375.72h0M559.35,375.62h0M559.9,375.63h0M560.45,375.18h0M561,375.13h0M561.55,374.64h0M562.1,374.92h0M562.65,374.53h0M563.2,374.8h0M563.75,374.44h0M564.3,374.64h0M564.85,374.6h0M565.4,373.88h0M565.95,373.87h0M566.5,373.59h0M567.05,373.82h0M567.6,373.82h0M568.15,373.34h0M568.7,372.92h0M569.25,373.56h0M569.8,372.71h0M570.35,373.3h0M570.9,371.87h0M571.45,370.26h0M572,370.73h0M572.55,368.96h0M573.1,366.29h0M573.65,363.93h0M574.2,359.48h0M574.75,353.02h0M575.3,344.86h0M575.85,336.96h0M576.4,328.29h0M576.95,319h0M577.5,310.05h0M578.05,300.28h0M578.6,291.71h0M579.15,281.75h0M579.7,273.16h0M580.25,264.06h0M580.8,256.47h0M581.35,250.41h0M581.9,244.83h0M582.45,243.58h0M583,243.08h0M583.55,243.02h0M584.1,244.21h0M584.65,245.9h0M585.2,248.22h0M585.75,251.24h0M586.3,254.01h0M586.85,256.47h0M587.4,259.14h0M587.95,262.2h0M588.5,264.84h0M589.05,267.95h0M589.6,271.21h0M590.15,273.4h0M590.7,275.82h0M591.25,278.35h0M591.8,280.56h0M592.35,283.07h0M592.9,284.6h0M593.45,284.84h0M594,284.09h0M594.55,283.19h0M595.1,281.3h0M595.65,279.65h0M596.2,277.59h0M596.75,276.69h0M597.3,274.49h0M597.85,272.94h0M598.4,270.64h0M598.95,268.82h0M599.5,266.25h0M600.05,264.5h0M600.6,263.07h0M601.15,259.79h0M601.7,258.33h0M602.25,256.33h0M602.8,253.89h0M603.35,252.18h0M603.9,250.74h0M604.45,248.66h0M605,247.83h0M605.55,246.77h0M606.1,246.59h0M606.65,246.71h0M607.2,247.15h0M607.75,247.69h0M608.3,248.37h0M608.85,248.52h0M609.4,250.43h0M609.95,251.25h0M610.5,252.44h0M611.05,253.76h0M611.6,255.87h0M612.15,258.39h0M612.7,260.79h0M613.25,262.63h0M613.8,266.02h0M614.35,269.45h0M614.9,270.8h0M615.45,274.52h0M616,277.15h0M616.55,279.79h0M617.1,282.94h0M617.65,284.71h0M618.2,287.59h0M618.75,290.51h0M619.3,292.37h0M619.85,294.26h0M620.4,295.92h0M620.95,296.87h0M621.5,298.34h0M622.05,298.25h0M622.6,299.3h0M623.15,299h0M623.7,299.86h0M624.25,299.82h0M624.8,299.2h0M625.35,300.11h0M625.9,299.89h0M626.45,300.17h0M627,300.87h0M627.55,300.12h0M628.1,300.21h0M628.65,301.04h0M629.2,300.67h0M629.75,301.15h0M630.3,300.79h0M630.85,300.43h0M631.4,300.67h0M631.95,301.05h0M632.5,300.91h0M633.05,300.56h0M633.6,300.48h0M634.15,300.3h0M634.7,299.99h0M635.25,300.55h0M635.8,299.66h0M636.35,298.88h0M636.9,298.5h0M637.45,298.11h0M638,297.1h0M638.55,295.7h0M639.1,294.22h0M639.65,293.05h0M640.2,291.25h0M640.75,290.31h0M641.3,289.93h0M641.85,288.32h0M642.4,287.64h0M642.95,287.46h0M643.5,287.13h0M644.05,286.93h0M644.6,287.68h0M645.15,287.41h0M645.7,287.32h0M646.25,287.92h0M646.8,288.12h0M647.35,288.04h0M647.9,288.64h0M648.45,288.89h0M649,288.66h0M649.55,289.53h0M650.1,289.81h0M650.65,290.07h0M651.2,289.99h0M651.75,290.66h0M652.3,291.03h0M652.85,291.34h0M653.4,291.21h0M653.95,292.01h0M654.5,291.69h0M655.05,292.25h0M655.6,292.97h0M656.15,292.61h0M656.7,292.92h0M657.25,293.66h0M657.8,293.46h0M658.35,293.75h0M658.9,294.17h0M659.45,294.68h0M660,293.95h0M660.55,294.64h0M661.1,294.86h0M661.65,295.12h0M662.2,295.49h0M662.75,295.79h0M663.3,296.45h0M663.85,296.42h0M664.4,297.07h0M664.95,297.55h0M665.5,297.63h0M666.05,298.37h0M666.6,299.38h0M667.15,299.58h0M667.7,299.96h0M668.25,300.84h0M668.8,301.26h0M669.35,302.25h0M669.9,302.99h0M670.45,302.96h0M671,303.58h0M671.55,304.39h0M672.1,304.27h0M672.65,304.84h0M673.2,304.82h0M673.75,305.22h0M674.3,305.65h0M674.85,306.78h0M675.4,306.33h0M675.95,306.61h0M676.5,306.91h0M677.05,307.34h0M677.6,307.89h0M678.15,308.05h0M678.7,308.91h0M679.25,308.65h0M679.8,309.31h0M680.35,309.26h0M680.9,309.64h0M681.45,309.27h0M682,309.85h0M682.55,309.95h0" fill="none" stroke="#000" stroke-width="3.2" stroke-linecap="round"/>
<line x1="583.8" y1="73.6" x2="583.8" y2="375" stroke="#0000ff" stroke-width="1.5" stroke-dasharray="7 5.8" stroke-dashoffset="-0.6"/>
<line x1="587.6" y1="73.6" x2="587.6" y2="375" stroke="#0000ff" stroke-width="1.5" stroke-dasharray="7 5.8" stroke-dashoffset="-0.6"/>
<line x1="606.1" y1="73.6" x2="606.1" y2="375" stroke="#0000ff" stroke-width="1.5" stroke-dasharray="7 5.8" stroke-dashoffset="-0.6"/>
<line x1="643" y1="98" x2="643" y2="370" stroke="#ff8000" stroke-width="1.5" stroke-dasharray="9.5 2.7 1.3 2.7" stroke-dashoffset="0"/>
<line x1="665" y1="98" x2="665" y2="370" stroke="#ff8000" stroke-width="1.5" stroke-dasharray="9.5 2.7 1.3 2.7" stroke-dashoffset="0"/>
</g>
<rect x="25.6" y="30.8" width="150.6" height="377.9" fill="none" stroke="#000" stroke-width="1.9"/>
<rect x="189.9" y="30.8" width="150.7" height="377.9" fill="none" stroke="#000" stroke-width="1.9"/>
<rect x="365.6" y="30.8" width="151.7" height="377.9" fill="none" stroke="#000" stroke-width="1.9"/>
<rect x="530.1" y="30.8" width="151.1" height="377.9" fill="none" stroke="#000" stroke-width="1.9"/>
<line x1="25.61" y1="408.7" x2="25.61" y2="412.7" stroke="#000" stroke-width="1.4"/>
<line x1="36.44" y1="408.7" x2="36.44" y2="412.7" stroke="#000" stroke-width="1.4"/>
<line x1="47.27" y1="408.7" x2="47.27" y2="412.7" stroke="#000" stroke-width="1.4"/>
<line x1="58.1" y1="408.7" x2="58.1" y2="416.7" stroke="#000" stroke-width="1.4"/>
<line x1="68.93" y1="408.7" x2="68.93" y2="412.7" stroke="#000" stroke-width="1.4"/>
<line x1="79.76" y1="408.7" x2="79.76" y2="412.7" stroke="#000" stroke-width="1.4"/>
<line x1="90.59" y1="408.7" x2="90.59" y2="412.7" stroke="#000" stroke-width="1.4"/>
<line x1="101.42" y1="408.7" x2="101.42" y2="416.7" stroke="#000" stroke-width="1.4"/>
<line x1="112.25" y1="408.7" x2="112.25" y2="412.7" stroke="#000" stroke-width="1.4"/>
<line x1="123.08" y1="408.7" x2="123.08" y2="412.7" stroke="#000" stroke-width="1.4"/>
<line x1="133.91" y1="408.7" x2="133.91" y2="412.7" stroke="#000" stroke-width="1.4"/>
<line x1="144.74" y1="408.7" x2="144.74" y2="416.7" stroke="#000" stroke-width="1.4"/>
<line x1="155.57" y1="408.7" x2="155.57" y2="412.7" stroke="#000" stroke-width="1.4"/>
<line x1="166.4" y1="408.7" x2="166.4" y2="412.7" stroke="#000" stroke-width="1.4"/>
<line x1="177.23" y1="408.7" x2="177.23" y2="412.7" stroke="#000" stroke-width="1.4"/>
<text transform="translate(58.1,433.9) scale(1.14,1)" font-family='"Liberation Serif", serif' font-weight="bold" font-size="16.6" text-anchor="middle">188</text>
<text transform="translate(101.42,433.9) scale(1.14,1)" font-family='"Liberation Serif", serif' font-weight="bold" font-size="16.6" text-anchor="middle">184</text>
<text transform="translate(144.74,433.9) scale(1.14,1)" font-family='"Liberation Serif", serif' font-weight="bold" font-size="16.6" text-anchor="middle">180</text>
<line x1="189.5" y1="408.7" x2="189.5" y2="412.7" stroke="#000" stroke-width="1.4"/>
<line x1="202.1" y1="408.7" x2="202.1" y2="416.7" stroke="#000" stroke-width="1.4"/>
<line x1="214.7" y1="408.7" x2="214.7" y2="412.7" stroke="#000" stroke-width="1.4"/>
<line x1="227.3" y1="408.7" x2="227.3" y2="412.7" stroke="#000" stroke-width="1.4"/>
<line x1="239.9" y1="408.7" x2="239.9" y2="412.7" stroke="#000" stroke-width="1.4"/>
<line x1="252.5" y1="408.7" x2="252.5" y2="416.7" stroke="#000" stroke-width="1.4"/>
<line x1="265.1" y1="408.7" x2="265.1" y2="412.7" stroke="#000" stroke-width="1.4"/>
<line x1="277.7" y1="408.7" x2="277.7" y2="412.7" stroke="#000" stroke-width="1.4"/>
<line x1="290.3" y1="408.7" x2="290.3" y2="412.7" stroke="#000" stroke-width="1.4"/>
<line x1="302.9" y1="408.7" x2="302.9" y2="416.7" stroke="#000" stroke-width="1.4"/>
<line x1="315.5" y1="408.7" x2="315.5" y2="412.7" stroke="#000" stroke-width="1.4"/>
<line x1="328.1" y1="408.7" x2="328.1" y2="412.7" stroke="#000" stroke-width="1.4"/>
<line x1="340.7" y1="408.7" x2="340.7" y2="412.7" stroke="#000" stroke-width="1.4"/>
<text transform="translate(202.1,434.2) scale(1.14,1)" font-family='"Liberation Serif", serif' font-weight="bold" font-size="16.6" text-anchor="middle">536</text>
<text transform="translate(252.5,434.2) scale(1.14,1)" font-family='"Liberation Serif", serif' font-weight="bold" font-size="16.6" text-anchor="middle">532</text>
<text transform="translate(302.9,434.2) scale(1.14,1)" font-family='"Liberation Serif", serif' font-weight="bold" font-size="16.6" text-anchor="middle">528</text>
<line x1="374.62" y1="408.7" x2="374.62" y2="412.7" stroke="#000" stroke-width="1.4"/>
<line x1="383.88" y1="408.7" x2="383.88" y2="412.7" stroke="#000" stroke-width="1.4"/>
<line x1="393.14" y1="408.7" x2="393.14" y2="412.7" stroke="#000" stroke-width="1.4"/>
<line x1="402.4" y1="408.7" x2="402.4" y2="416.7" stroke="#000" stroke-width="1.4"/>
<line x1="411.66" y1="408.7" x2="411.66" y2="412.7" stroke="#000" stroke-width="1.4"/>
<line x1="420.92" y1="408.7" x2="420.92" y2="412.7" stroke="#000" stroke-width="1.4"/>
<line x1="430.18" y1="408.7" x2="430.18" y2="412.7" stroke="#000" stroke-width="1.4"/>
<line x1="439.44" y1="408.7" x2="439.44" y2="412.7" stroke="#000" stroke-width="1.4"/>
<line x1="448.7" y1="408.7" x2="448.7" y2="416.7" stroke="#000" stroke-width="1.4"/>
<line x1="457.96" y1="408.7" x2="457.96" y2="412.7" stroke="#000" stroke-width="1.4"/>
<line x1="467.22" y1="408.7" x2="467.22" y2="412.7" stroke="#000" stroke-width="1.4"/>
<line x1="476.48" y1="408.7" x2="476.48" y2="412.7" stroke="#000" stroke-width="1.4"/>
<line x1="485.74" y1="408.7" x2="485.74" y2="412.7" stroke="#000" stroke-width="1.4"/>
<line x1="495" y1="408.7" x2="495" y2="416.7" stroke="#000" stroke-width="1.4"/>
<line x1="504.26" y1="408.7" x2="504.26" y2="412.7" stroke="#000" stroke-width="1.4"/>
<line x1="513.52" y1="408.7" x2="513.52" y2="412.7" stroke="#000" stroke-width="1.4"/>
<text transform="translate(402.4,435.1) scale(1.04,1)" font-family='"Liberation Serif", serif' font-weight="bold" font-size="19.8" text-anchor="middle">340</text>
<text transform="translate(448.7,435.1) scale(1.04,1)" font-family='"Liberation Serif", serif' font-weight="bold" font-size="19.8" text-anchor="middle">350</text>
<text transform="translate(495,435.1) scale(1.04,1)" font-family='"Liberation Serif", serif' font-weight="bold" font-size="19.8" text-anchor="middle">360</text>
<line x1="535.1" y1="408.7" x2="535.1" y2="412.7" stroke="#000" stroke-width="1.4"/>
<line x1="547.9" y1="408.7" x2="547.9" y2="412.7" stroke="#000" stroke-width="1.4"/>
<line x1="560.7" y1="408.7" x2="560.7" y2="412.7" stroke="#000" stroke-width="1.4"/>
<line x1="573.5" y1="408.7" x2="573.5" y2="412.7" stroke="#000" stroke-width="1.4"/>
<line x1="586.3" y1="408.7" x2="586.3" y2="416.7" stroke="#000" stroke-width="1.4"/>
<line x1="599.1" y1="408.7" x2="599.1" y2="412.7" stroke="#000" stroke-width="1.4"/>
<line x1="611.9" y1="408.7" x2="611.9" y2="412.7" stroke="#000" stroke-width="1.4"/>
<line x1="624.7" y1="408.7" x2="624.7" y2="412.7" stroke="#000" stroke-width="1.4"/>
<line x1="637.5" y1="408.7" x2="637.5" y2="412.7" stroke="#000" stroke-width="1.4"/>
<line x1="650.3" y1="408.7" x2="650.3" y2="416.7" stroke="#000" stroke-width="1.4"/>
<line x1="663.1" y1="408.7" x2="663.1" y2="412.7" stroke="#000" stroke-width="1.4"/>
<line x1="675.9" y1="408.7" x2="675.9" y2="412.7" stroke="#000" stroke-width="1.4"/>
<text transform="translate(586.3,435.1) scale(1.04,1)" font-family='"Liberation Serif", serif' font-weight="bold" font-size="19.8" text-anchor="middle">530</text>
<text transform="translate(650.3,435.1) scale(1.04,1)" font-family='"Liberation Serif", serif' font-weight="bold" font-size="19.8" text-anchor="middle">540</text>
<text x="181.7" y="18.7" font-family='"Liberation Serif", serif' font-weight="bold" font-size="22.3" fill="#000" text-anchor="middle" >HRXPS</text>
<text x="533.5" y="16.8" font-family='"Liberation Serif", serif' font-weight="bold" font-size="22" fill="#000" text-anchor="middle" >XAS</text>
<text x="180.65" y="462.5" font-family='"Liberation Serif", serif' font-weight="bold" font-size="22.5" fill="#000" text-anchor="middle" >Binding Energy (eV)</text>
<text x="526.6" y="465.2" font-family='"Liberation Serif", serif' font-weight="bold" font-size="22.5" fill="#000" text-anchor="middle" >Photon Energy (eV)</text>
<text transform="translate(18.2,222.7) rotate(-90)" x="0" y="0" font-family='"Liberation Serif", serif' font-weight="bold" font-size="23" text-anchor="middle">Normalized Intensity</text>
<text x="27.6" y="50.2" font-family='"Liberation Serif", serif' font-weight="bold" font-size="23.3" fill="#000" text-anchor="start" >(a)</text>
<text x="104.2" y="52.4" font-family='"Liberation Serif", serif' font-weight="bold" font-size="19.8" fill="#000" text-anchor="start" >Zr 3<tspan font-style="italic">d</tspan></text>
<text x="191.3" y="50.8" font-family='"Liberation Serif", serif' font-weight="bold" font-size="22.5" fill="#000" text-anchor="start" >(b)</text>
<text x="296.6" y="50.2" font-family='"Liberation Serif", serif' font-weight="bold" font-size="19.6" fill="#000" text-anchor="start" >O 1<tspan font-style="italic">s</tspan></text>
<text x="369.9" y="53.6" font-family='"Liberation Serif", serif' font-weight="bold" font-size="23.2" fill="#000" text-anchor="start" >(c)</text>
<text x="531.7" y="52.5" font-family='"Liberation Serif", serif' font-weight="bold" font-size="23.5" fill="#000" text-anchor="start" >(d)</text>
<text x="67.8" y="92.1" font-family='"Liberation Serif", serif' font-weight="bold" font-size="15.5" fill="#0000ff">ZrO<tspan font-size="12.1">2</tspan></text>
<text x="137.6" y="141" font-family='"Liberation Serif", serif' font-weight="bold" font-size="15.5" fill="#0000ff">ZrOx</text>
<text x="289.7" y="91.1" font-family='"Liberation Serif", serif' font-weight="bold" font-size="15.5" fill="#0000ff">ZrO<tspan font-size="12.1">2</tspan></text>
<text x="27.3" y="191.3" font-family='"Liberation Sans", sans-serif' font-weight="bold" font-size="17" fill="#008000">Cr@ZrO<tspan font-size="12">2</tspan></text>
<text x="28.2" y="296.1" font-family='"Liberation Sans", sans-serif' font-weight="bold" font-size="16.8" fill="#ff0000">ZrO<tspan font-size="12.5">x</tspan><tspan dx="1.5">-</tspan>B</text>
<text x="28.8" y="399.8" font-family='"Liberation Sans", sans-serif' font-weight="bold" font-size="16.9" fill="#000">ZrO<tspan font-size="12.5">2</tspan></text>
<text x="231.4" y="345.6" font-family='"Liberation Serif", serif' font-weight="bold" font-size="15.3" fill="#0000ff" text-anchor="start" >Ov</text>
<text x="200.6" y="361.6" font-family='"Liberation Serif", serif' font-weight="bold" font-size="15.8" fill="#0000ff" text-anchor="start" >-OH</text>
<line x1="254.1" y1="377.3" x2="243" y2="349" stroke="#000" stroke-width="1.2"/>
<path d="M243,349 L248.9,354.74 L242.57,357.22 Z" fill="#000"/>
<line x1="237" y1="381.9" x2="225.5" y2="365.2" stroke="#000" stroke-width="1.2"/>
<path d="M225.5,365.2 L232.55,369.45 L226.95,373.31 Z" fill="#000"/>
</svg>
</body></html>
